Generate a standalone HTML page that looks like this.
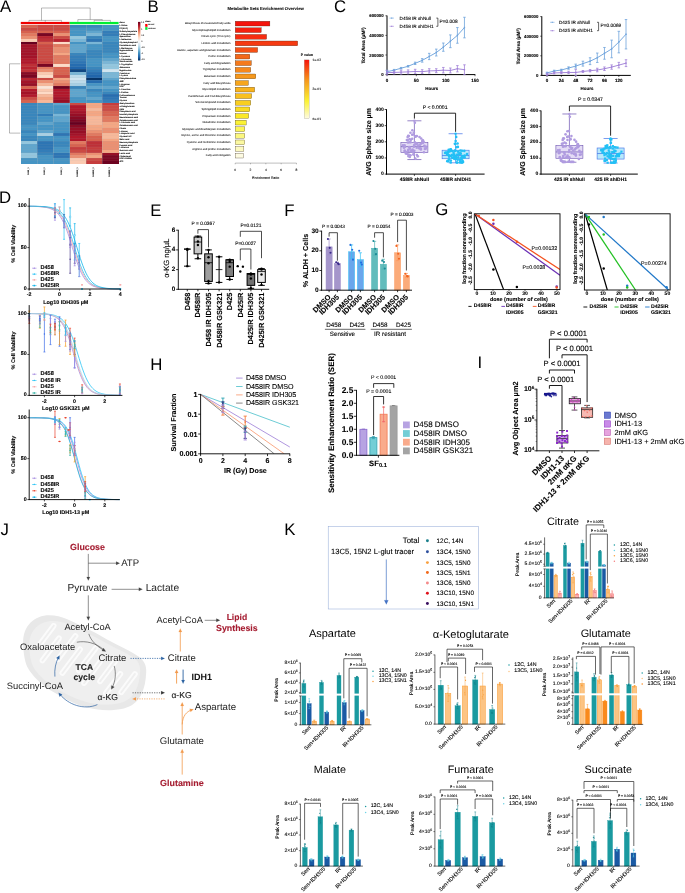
<!DOCTYPE html>
<html lang="en"><head><meta charset="utf-8"><title>Figure</title>
<style>html,body{margin:0;padding:0;background:#fff}body{width:685px;height:893px;overflow:hidden}svg{display:block;will-change:transform}svg text{font-family:'Liberation Sans', Arial, sans-serif;text-rendering:geometricPrecision}</style>
</head><body>
<svg width="685" height="893" viewBox="0 0 685 893">
<rect x="0" y="0" width="685" height="893" fill="#fff"/>
<g id="panelA">
<text x="-0.1" y="12" font-size="16.8">A</text>
<g shape-rendering="crispEdges">
<rect x="20.8" y="25" width="16.35" height="2.82" fill="#d7624f"/>
<rect x="37.1" y="25" width="16.35" height="2.82" fill="#cb4a43"/>
<rect x="53.4" y="25" width="16.35" height="2.82" fill="#cb4a43"/>
<rect x="69.7" y="25" width="16.35" height="2.82" fill="#3986bc"/>
<rect x="86" y="25" width="16.35" height="2.82" fill="#3986bc"/>
<rect x="102.3" y="25" width="16.35" height="2.82" fill="#4594c4"/>
<rect x="20.8" y="27.77" width="16.35" height="2.82" fill="#cb4a43"/>
<rect x="37.1" y="27.77" width="16.35" height="2.82" fill="#cb4a43"/>
<rect x="53.4" y="27.77" width="16.35" height="2.82" fill="#cb4a43"/>
<rect x="69.7" y="27.77" width="16.35" height="2.82" fill="#4594c4"/>
<rect x="86" y="27.77" width="16.35" height="2.82" fill="#4594c4"/>
<rect x="102.3" y="27.77" width="16.35" height="2.82" fill="#4594c4"/>
<rect x="20.8" y="30.54" width="16.35" height="2.82" fill="#d7624f"/>
<rect x="37.1" y="30.54" width="16.35" height="2.82" fill="#d7624f"/>
<rect x="53.4" y="30.54" width="16.35" height="2.82" fill="#d7624f"/>
<rect x="69.7" y="30.54" width="16.35" height="2.82" fill="#4594c4"/>
<rect x="86" y="30.54" width="16.35" height="2.82" fill="#5fa5cd"/>
<rect x="102.3" y="30.54" width="16.35" height="2.82" fill="#337db8"/>
<rect x="20.8" y="33.32" width="16.35" height="2.82" fill="#e17960"/>
<rect x="37.1" y="33.32" width="16.35" height="2.82" fill="#7a0622"/>
<rect x="53.4" y="33.32" width="16.35" height="2.82" fill="#eb9072"/>
<rect x="69.7" y="33.32" width="16.35" height="2.82" fill="#4594c4"/>
<rect x="86" y="33.32" width="16.35" height="2.82" fill="#7ab6d6"/>
<rect x="102.3" y="33.32" width="16.35" height="2.82" fill="#337db8"/>
<rect x="20.8" y="36.09" width="16.35" height="2.82" fill="#eb9072"/>
<rect x="37.1" y="36.09" width="16.35" height="2.82" fill="#b82430"/>
<rect x="53.4" y="36.09" width="16.35" height="2.82" fill="#cb4a43"/>
<rect x="69.7" y="36.09" width="16.35" height="2.82" fill="#93c6de"/>
<rect x="86" y="36.09" width="16.35" height="2.82" fill="#3986bc"/>
<rect x="102.3" y="36.09" width="16.35" height="2.82" fill="#4594c4"/>
<rect x="20.8" y="38.86" width="16.35" height="2.82" fill="#facab1"/>
<rect x="37.1" y="38.86" width="16.35" height="2.82" fill="#be3037"/>
<rect x="53.4" y="38.86" width="16.35" height="2.82" fill="#b82430"/>
<rect x="69.7" y="38.86" width="16.35" height="2.82" fill="#7ab6d6"/>
<rect x="86" y="38.86" width="16.35" height="2.82" fill="#2d75b4"/>
<rect x="102.3" y="38.86" width="16.35" height="2.82" fill="#4594c4"/>
<rect x="20.8" y="41.63" width="16.35" height="2.82" fill="#67001f"/>
<rect x="37.1" y="41.63" width="16.35" height="2.82" fill="#d7624f"/>
<rect x="53.4" y="41.63" width="16.35" height="2.82" fill="#fddbc7"/>
<rect x="69.7" y="41.63" width="16.35" height="2.82" fill="#4594c4"/>
<rect x="86" y="41.63" width="16.35" height="2.82" fill="#7ab6d6"/>
<rect x="102.3" y="41.63" width="16.35" height="2.82" fill="#3986bc"/>
<rect x="20.8" y="44.4" width="16.35" height="2.82" fill="#a31329"/>
<rect x="37.1" y="44.4" width="16.35" height="2.82" fill="#cb4a43"/>
<rect x="53.4" y="44.4" width="16.35" height="2.82" fill="#e17960"/>
<rect x="69.7" y="44.4" width="16.35" height="2.82" fill="#5fa5cd"/>
<rect x="86" y="44.4" width="16.35" height="2.82" fill="#4594c4"/>
<rect x="102.3" y="44.4" width="16.35" height="2.82" fill="#3986bc"/>
<rect x="20.8" y="47.18" width="16.35" height="2.82" fill="#a31329"/>
<rect x="37.1" y="47.18" width="16.35" height="2.82" fill="#cb4a43"/>
<rect x="53.4" y="47.18" width="16.35" height="2.82" fill="#eb9072"/>
<rect x="69.7" y="47.18" width="16.35" height="2.82" fill="#5fa5cd"/>
<rect x="86" y="47.18" width="16.35" height="2.82" fill="#4594c4"/>
<rect x="102.3" y="47.18" width="16.35" height="2.82" fill="#3986bc"/>
<rect x="20.8" y="49.95" width="16.35" height="2.82" fill="#a31329"/>
<rect x="37.1" y="49.95" width="16.35" height="2.82" fill="#cb4a43"/>
<rect x="53.4" y="49.95" width="16.35" height="2.82" fill="#eb9072"/>
<rect x="69.7" y="49.95" width="16.35" height="2.82" fill="#5fa5cd"/>
<rect x="86" y="49.95" width="16.35" height="2.82" fill="#3986bc"/>
<rect x="102.3" y="49.95" width="16.35" height="2.82" fill="#3986bc"/>
<rect x="20.8" y="52.72" width="16.35" height="2.82" fill="#a31329"/>
<rect x="37.1" y="52.72" width="16.35" height="2.82" fill="#cb4a43"/>
<rect x="53.4" y="52.72" width="16.35" height="2.82" fill="#f4a683"/>
<rect x="69.7" y="52.72" width="16.35" height="2.82" fill="#3986bc"/>
<rect x="86" y="52.72" width="16.35" height="2.82" fill="#3986bc"/>
<rect x="102.3" y="52.72" width="16.35" height="2.82" fill="#4594c4"/>
<rect x="20.8" y="55.49" width="16.35" height="2.82" fill="#a31329"/>
<rect x="37.1" y="55.49" width="16.35" height="2.82" fill="#cb4a43"/>
<rect x="53.4" y="55.49" width="16.35" height="2.82" fill="#e17960"/>
<rect x="69.7" y="55.49" width="16.35" height="2.82" fill="#337db8"/>
<rect x="86" y="55.49" width="16.35" height="2.82" fill="#3986bc"/>
<rect x="102.3" y="55.49" width="16.35" height="2.82" fill="#4594c4"/>
<rect x="20.8" y="58.26" width="16.35" height="2.82" fill="#b1182b"/>
<rect x="37.1" y="58.26" width="16.35" height="2.82" fill="#cb4a43"/>
<rect x="53.4" y="58.26" width="16.35" height="2.82" fill="#e17960"/>
<rect x="69.7" y="58.26" width="16.35" height="2.82" fill="#337db8"/>
<rect x="86" y="58.26" width="16.35" height="2.82" fill="#4594c4"/>
<rect x="102.3" y="58.26" width="16.35" height="2.82" fill="#5fa5cd"/>
<rect x="20.8" y="61.04" width="16.35" height="2.82" fill="#b1182b"/>
<rect x="37.1" y="61.04" width="16.35" height="2.82" fill="#c53d3d"/>
<rect x="53.4" y="61.04" width="16.35" height="2.82" fill="#e17960"/>
<rect x="69.7" y="61.04" width="16.35" height="2.82" fill="#2d75b4"/>
<rect x="86" y="61.04" width="16.35" height="2.82" fill="#4594c4"/>
<rect x="102.3" y="61.04" width="16.35" height="2.82" fill="#7ab6d6"/>
<rect x="20.8" y="63.81" width="16.35" height="2.82" fill="#be3037"/>
<rect x="37.1" y="63.81" width="16.35" height="2.82" fill="#7a0622"/>
<rect x="53.4" y="63.81" width="16.35" height="2.82" fill="#fddbc7"/>
<rect x="69.7" y="63.81" width="16.35" height="2.82" fill="#266db0"/>
<rect x="86" y="63.81" width="16.35" height="2.82" fill="#4594c4"/>
<rect x="102.3" y="63.81" width="16.35" height="2.82" fill="#93c6de"/>
<rect x="20.8" y="66.58" width="16.35" height="2.82" fill="#b82430"/>
<rect x="37.1" y="66.58" width="16.35" height="2.82" fill="#e17960"/>
<rect x="53.4" y="66.58" width="16.35" height="2.82" fill="#d7624f"/>
<rect x="69.7" y="66.58" width="16.35" height="2.82" fill="#2065ab"/>
<rect x="86" y="66.58" width="16.35" height="2.82" fill="#3986bc"/>
<rect x="102.3" y="66.58" width="16.35" height="2.82" fill="#93c6de"/>
<rect x="20.8" y="69.35" width="16.35" height="2.82" fill="#be3037"/>
<rect x="37.1" y="69.35" width="16.35" height="2.82" fill="#eb9072"/>
<rect x="53.4" y="69.35" width="16.35" height="2.82" fill="#d7624f"/>
<rect x="69.7" y="69.35" width="16.35" height="2.82" fill="#114882"/>
<rect x="86" y="69.35" width="16.35" height="2.82" fill="#337db8"/>
<rect x="102.3" y="69.35" width="16.35" height="2.82" fill="#d1e5f0"/>
<rect x="20.8" y="72.12" width="16.35" height="2.82" fill="#880b24"/>
<rect x="37.1" y="72.12" width="16.35" height="2.82" fill="#facab1"/>
<rect x="53.4" y="72.12" width="16.35" height="2.82" fill="#d7624f"/>
<rect x="69.7" y="72.12" width="16.35" height="2.82" fill="#7ab6d6"/>
<rect x="86" y="72.12" width="16.35" height="2.82" fill="#266db0"/>
<rect x="102.3" y="72.12" width="16.35" height="2.82" fill="#7ab6d6"/>
<rect x="20.8" y="74.9" width="16.35" height="2.82" fill="#7a0622"/>
<rect x="37.1" y="74.9" width="16.35" height="2.82" fill="#fddbc7"/>
<rect x="53.4" y="74.9" width="16.35" height="2.82" fill="#cb4a43"/>
<rect x="69.7" y="74.9" width="16.35" height="2.82" fill="#bddbea"/>
<rect x="86" y="74.9" width="16.35" height="2.82" fill="#2065ab"/>
<rect x="102.3" y="74.9" width="16.35" height="2.82" fill="#7ab6d6"/>
<rect x="20.8" y="77.67" width="16.35" height="2.82" fill="#b82430"/>
<rect x="37.1" y="77.67" width="16.35" height="2.82" fill="#cb4a43"/>
<rect x="53.4" y="77.67" width="16.35" height="2.82" fill="#f4a683"/>
<rect x="69.7" y="77.67" width="16.35" height="2.82" fill="#d1e5f0"/>
<rect x="86" y="77.67" width="16.35" height="2.82" fill="#073467"/>
<rect x="102.3" y="77.67" width="16.35" height="2.82" fill="#5fa5cd"/>
<rect x="20.8" y="80.44" width="16.35" height="2.82" fill="#a31329"/>
<rect x="37.1" y="80.44" width="16.35" height="2.82" fill="#eb9072"/>
<rect x="53.4" y="80.44" width="16.35" height="2.82" fill="#eb9072"/>
<rect x="69.7" y="80.44" width="16.35" height="2.82" fill="#bddbea"/>
<rect x="86" y="80.44" width="16.35" height="2.82" fill="#266db0"/>
<rect x="102.3" y="80.44" width="16.35" height="2.82" fill="#4594c4"/>
<rect x="20.8" y="83.21" width="16.35" height="2.82" fill="#960f26"/>
<rect x="37.1" y="83.21" width="16.35" height="2.82" fill="#f7b89a"/>
<rect x="53.4" y="83.21" width="16.35" height="2.82" fill="#e17960"/>
<rect x="69.7" y="83.21" width="16.35" height="2.82" fill="#a8d0e4"/>
<rect x="86" y="83.21" width="16.35" height="2.82" fill="#4594c4"/>
<rect x="102.3" y="83.21" width="16.35" height="2.82" fill="#4594c4"/>
<rect x="20.8" y="85.98" width="16.35" height="2.82" fill="#d7624f"/>
<rect x="37.1" y="85.98" width="16.35" height="2.82" fill="#fbe5d7"/>
<rect x="53.4" y="85.98" width="16.35" height="2.82" fill="#6d0220"/>
<rect x="69.7" y="85.98" width="16.35" height="2.82" fill="#3986bc"/>
<rect x="86" y="85.98" width="16.35" height="2.82" fill="#5fa5cd"/>
<rect x="102.3" y="85.98" width="16.35" height="2.82" fill="#5fa5cd"/>
<rect x="20.8" y="88.76" width="16.35" height="2.82" fill="#b1182b"/>
<rect x="37.1" y="88.76" width="16.35" height="2.82" fill="#facab1"/>
<rect x="53.4" y="88.76" width="16.35" height="2.82" fill="#b1182b"/>
<rect x="69.7" y="88.76" width="16.35" height="2.82" fill="#5fa5cd"/>
<rect x="86" y="88.76" width="16.35" height="2.82" fill="#3986bc"/>
<rect x="102.3" y="88.76" width="16.35" height="2.82" fill="#4594c4"/>
<rect x="20.8" y="91.53" width="16.35" height="2.82" fill="#a31329"/>
<rect x="37.1" y="91.53" width="16.35" height="2.82" fill="#fddbc7"/>
<rect x="53.4" y="91.53" width="16.35" height="2.82" fill="#b1182b"/>
<rect x="69.7" y="91.53" width="16.35" height="2.82" fill="#5fa5cd"/>
<rect x="86" y="91.53" width="16.35" height="2.82" fill="#4594c4"/>
<rect x="102.3" y="91.53" width="16.35" height="2.82" fill="#3986bc"/>
<rect x="20.8" y="94.3" width="16.35" height="2.82" fill="#b1182b"/>
<rect x="37.1" y="94.3" width="16.35" height="2.82" fill="#f7b89a"/>
<rect x="53.4" y="94.3" width="16.35" height="2.82" fill="#b1182b"/>
<rect x="69.7" y="94.3" width="16.35" height="2.82" fill="#5fa5cd"/>
<rect x="86" y="94.3" width="16.35" height="2.82" fill="#4594c4"/>
<rect x="102.3" y="94.3" width="16.35" height="2.82" fill="#266db0"/>
<rect x="20.8" y="97.07" width="16.35" height="2.82" fill="#cb4a43"/>
<rect x="37.1" y="97.07" width="16.35" height="2.82" fill="#f4a683"/>
<rect x="53.4" y="97.07" width="16.35" height="2.82" fill="#a31329"/>
<rect x="69.7" y="97.07" width="16.35" height="2.82" fill="#4594c4"/>
<rect x="86" y="97.07" width="16.35" height="2.82" fill="#5fa5cd"/>
<rect x="102.3" y="97.07" width="16.35" height="2.82" fill="#2d75b4"/>
<rect x="20.8" y="99.84" width="16.35" height="2.82" fill="#d7624f"/>
<rect x="37.1" y="99.84" width="16.35" height="2.82" fill="#f7b89a"/>
<rect x="53.4" y="99.84" width="16.35" height="2.82" fill="#960f26"/>
<rect x="69.7" y="99.84" width="16.35" height="2.82" fill="#4594c4"/>
<rect x="86" y="99.84" width="16.35" height="2.82" fill="#4594c4"/>
<rect x="102.3" y="99.84" width="16.35" height="2.82" fill="#337db8"/>
<rect x="20.8" y="102.62" width="16.35" height="2.82" fill="#3986bc"/>
<rect x="37.1" y="102.62" width="16.35" height="2.82" fill="#4594c4"/>
<rect x="53.4" y="102.62" width="16.35" height="2.82" fill="#5fa5cd"/>
<rect x="69.7" y="102.62" width="16.35" height="2.82" fill="#cb4a43"/>
<rect x="86" y="102.62" width="16.35" height="2.82" fill="#f4a683"/>
<rect x="102.3" y="102.62" width="16.35" height="2.82" fill="#c53d3d"/>
<rect x="20.8" y="105.39" width="16.35" height="2.82" fill="#3986bc"/>
<rect x="37.1" y="105.39" width="16.35" height="2.82" fill="#4594c4"/>
<rect x="53.4" y="105.39" width="16.35" height="2.82" fill="#4594c4"/>
<rect x="69.7" y="105.39" width="16.35" height="2.82" fill="#b1182b"/>
<rect x="86" y="105.39" width="16.35" height="2.82" fill="#f4a683"/>
<rect x="102.3" y="105.39" width="16.35" height="2.82" fill="#cb4a43"/>
<rect x="20.8" y="108.16" width="16.35" height="2.82" fill="#3986bc"/>
<rect x="37.1" y="108.16" width="16.35" height="2.82" fill="#4594c4"/>
<rect x="53.4" y="108.16" width="16.35" height="2.82" fill="#4594c4"/>
<rect x="69.7" y="108.16" width="16.35" height="2.82" fill="#b1182b"/>
<rect x="86" y="108.16" width="16.35" height="2.82" fill="#f7b89a"/>
<rect x="102.3" y="108.16" width="16.35" height="2.82" fill="#cb4a43"/>
<rect x="20.8" y="110.93" width="16.35" height="2.82" fill="#3986bc"/>
<rect x="37.1" y="110.93" width="16.35" height="2.82" fill="#4594c4"/>
<rect x="53.4" y="110.93" width="16.35" height="2.82" fill="#4594c4"/>
<rect x="69.7" y="110.93" width="16.35" height="2.82" fill="#a31329"/>
<rect x="86" y="110.93" width="16.35" height="2.82" fill="#f4a683"/>
<rect x="102.3" y="110.93" width="16.35" height="2.82" fill="#d7624f"/>
<rect x="20.8" y="113.7" width="16.35" height="2.82" fill="#3986bc"/>
<rect x="37.1" y="113.7" width="16.35" height="2.82" fill="#337db8"/>
<rect x="53.4" y="113.7" width="16.35" height="2.82" fill="#7ab6d6"/>
<rect x="69.7" y="113.7" width="16.35" height="2.82" fill="#960f26"/>
<rect x="86" y="113.7" width="16.35" height="2.82" fill="#f4a683"/>
<rect x="102.3" y="113.7" width="16.35" height="2.82" fill="#d7624f"/>
<rect x="20.8" y="116.48" width="16.35" height="2.82" fill="#3986bc"/>
<rect x="37.1" y="116.48" width="16.35" height="2.82" fill="#4594c4"/>
<rect x="53.4" y="116.48" width="16.35" height="2.82" fill="#5fa5cd"/>
<rect x="69.7" y="116.48" width="16.35" height="2.82" fill="#880b24"/>
<rect x="86" y="116.48" width="16.35" height="2.82" fill="#f7b89a"/>
<rect x="102.3" y="116.48" width="16.35" height="2.82" fill="#e17960"/>
<rect x="20.8" y="119.25" width="16.35" height="2.82" fill="#3986bc"/>
<rect x="37.1" y="119.25" width="16.35" height="2.82" fill="#4594c4"/>
<rect x="53.4" y="119.25" width="16.35" height="2.82" fill="#5fa5cd"/>
<rect x="69.7" y="119.25" width="16.35" height="2.82" fill="#7a0622"/>
<rect x="86" y="119.25" width="16.35" height="2.82" fill="#f7b89a"/>
<rect x="102.3" y="119.25" width="16.35" height="2.82" fill="#e17960"/>
<rect x="20.8" y="122.02" width="16.35" height="2.82" fill="#3986bc"/>
<rect x="37.1" y="122.02" width="16.35" height="2.82" fill="#5fa5cd"/>
<rect x="53.4" y="122.02" width="16.35" height="2.82" fill="#4594c4"/>
<rect x="69.7" y="122.02" width="16.35" height="2.82" fill="#67001f"/>
<rect x="86" y="122.02" width="16.35" height="2.82" fill="#f7b89a"/>
<rect x="102.3" y="122.02" width="16.35" height="2.82" fill="#f4a683"/>
<rect x="20.8" y="124.79" width="16.35" height="2.82" fill="#4594c4"/>
<rect x="37.1" y="124.79" width="16.35" height="2.82" fill="#4594c4"/>
<rect x="53.4" y="124.79" width="16.35" height="2.82" fill="#4594c4"/>
<rect x="69.7" y="124.79" width="16.35" height="2.82" fill="#880b24"/>
<rect x="86" y="124.79" width="16.35" height="2.82" fill="#f4a683"/>
<rect x="102.3" y="124.79" width="16.35" height="2.82" fill="#f4a683"/>
<rect x="20.8" y="127.56" width="16.35" height="2.82" fill="#4594c4"/>
<rect x="37.1" y="127.56" width="16.35" height="2.82" fill="#4594c4"/>
<rect x="53.4" y="127.56" width="16.35" height="2.82" fill="#4594c4"/>
<rect x="69.7" y="127.56" width="16.35" height="2.82" fill="#960f26"/>
<rect x="86" y="127.56" width="16.35" height="2.82" fill="#f4a683"/>
<rect x="102.3" y="127.56" width="16.35" height="2.82" fill="#eb9072"/>
<rect x="20.8" y="130.34" width="16.35" height="2.82" fill="#3986bc"/>
<rect x="37.1" y="130.34" width="16.35" height="2.82" fill="#5fa5cd"/>
<rect x="53.4" y="130.34" width="16.35" height="2.82" fill="#4594c4"/>
<rect x="69.7" y="130.34" width="16.35" height="2.82" fill="#960f26"/>
<rect x="86" y="130.34" width="16.35" height="2.82" fill="#eb9072"/>
<rect x="102.3" y="130.34" width="16.35" height="2.82" fill="#eb9072"/>
<rect x="20.8" y="133.11" width="16.35" height="2.82" fill="#4594c4"/>
<rect x="37.1" y="133.11" width="16.35" height="2.82" fill="#a8d0e4"/>
<rect x="53.4" y="133.11" width="16.35" height="2.82" fill="#2d75b4"/>
<rect x="69.7" y="133.11" width="16.35" height="2.82" fill="#a31329"/>
<rect x="86" y="133.11" width="16.35" height="2.82" fill="#e17960"/>
<rect x="102.3" y="133.11" width="16.35" height="2.82" fill="#f7b89a"/>
<rect x="20.8" y="135.88" width="16.35" height="2.82" fill="#3986bc"/>
<rect x="37.1" y="135.88" width="16.35" height="2.82" fill="#4594c4"/>
<rect x="53.4" y="135.88" width="16.35" height="2.82" fill="#4594c4"/>
<rect x="69.7" y="135.88" width="16.35" height="2.82" fill="#b1182b"/>
<rect x="86" y="135.88" width="16.35" height="2.82" fill="#d7624f"/>
<rect x="102.3" y="135.88" width="16.35" height="2.82" fill="#f7b89a"/>
<rect x="20.8" y="138.65" width="16.35" height="2.82" fill="#3986bc"/>
<rect x="37.1" y="138.65" width="16.35" height="2.82" fill="#4594c4"/>
<rect x="53.4" y="138.65" width="16.35" height="2.82" fill="#4594c4"/>
<rect x="69.7" y="138.65" width="16.35" height="2.82" fill="#b1182b"/>
<rect x="86" y="138.65" width="16.35" height="2.82" fill="#d7624f"/>
<rect x="102.3" y="138.65" width="16.35" height="2.82" fill="#f4a683"/>
<rect x="20.8" y="141.42" width="16.35" height="2.82" fill="#93c6de"/>
<rect x="37.1" y="141.42" width="16.35" height="2.82" fill="#2d75b4"/>
<rect x="53.4" y="141.42" width="16.35" height="2.82" fill="#3986bc"/>
<rect x="69.7" y="141.42" width="16.35" height="2.82" fill="#e17960"/>
<rect x="86" y="141.42" width="16.35" height="2.82" fill="#be3037"/>
<rect x="102.3" y="141.42" width="16.35" height="2.82" fill="#eb9072"/>
<rect x="20.8" y="144.2" width="16.35" height="2.82" fill="#5fa5cd"/>
<rect x="37.1" y="144.2" width="16.35" height="2.82" fill="#2d75b4"/>
<rect x="53.4" y="144.2" width="16.35" height="2.82" fill="#3986bc"/>
<rect x="69.7" y="144.2" width="16.35" height="2.82" fill="#d7624f"/>
<rect x="86" y="144.2" width="16.35" height="2.82" fill="#be3037"/>
<rect x="102.3" y="144.2" width="16.35" height="2.82" fill="#eb9072"/>
<rect x="20.8" y="146.97" width="16.35" height="2.82" fill="#5fa5cd"/>
<rect x="37.1" y="146.97" width="16.35" height="2.82" fill="#2d75b4"/>
<rect x="53.4" y="146.97" width="16.35" height="2.82" fill="#4594c4"/>
<rect x="69.7" y="146.97" width="16.35" height="2.82" fill="#c53d3d"/>
<rect x="86" y="146.97" width="16.35" height="2.82" fill="#c53d3d"/>
<rect x="102.3" y="146.97" width="16.35" height="2.82" fill="#eb9072"/>
<rect x="20.8" y="149.74" width="16.35" height="2.82" fill="#5fa5cd"/>
<rect x="37.1" y="149.74" width="16.35" height="2.82" fill="#337db8"/>
<rect x="53.4" y="149.74" width="16.35" height="2.82" fill="#4594c4"/>
<rect x="69.7" y="149.74" width="16.35" height="2.82" fill="#cb4a43"/>
<rect x="86" y="149.74" width="16.35" height="2.82" fill="#c53d3d"/>
<rect x="102.3" y="149.74" width="16.35" height="2.82" fill="#f4a683"/>
<rect x="20.8" y="152.51" width="16.35" height="2.82" fill="#93c6de"/>
<rect x="37.1" y="152.51" width="16.35" height="2.82" fill="#3986bc"/>
<rect x="53.4" y="152.51" width="16.35" height="2.82" fill="#2d75b4"/>
<rect x="69.7" y="152.51" width="16.35" height="2.82" fill="#e17960"/>
<rect x="86" y="152.51" width="16.35" height="2.82" fill="#eb9072"/>
<rect x="102.3" y="152.51" width="16.35" height="2.82" fill="#960f26"/>
<rect x="20.8" y="155.28" width="16.35" height="2.82" fill="#93c6de"/>
<rect x="37.1" y="155.28" width="16.35" height="2.82" fill="#4594c4"/>
<rect x="53.4" y="155.28" width="16.35" height="2.82" fill="#2d75b4"/>
<rect x="69.7" y="155.28" width="16.35" height="2.82" fill="#eb9072"/>
<rect x="86" y="155.28" width="16.35" height="2.82" fill="#f4a683"/>
<rect x="102.3" y="155.28" width="16.35" height="2.82" fill="#7a0622"/>
<rect x="20.8" y="158.06" width="16.35" height="2.82" fill="#4594c4"/>
<rect x="37.1" y="158.06" width="16.35" height="2.82" fill="#4594c4"/>
<rect x="53.4" y="158.06" width="16.35" height="2.82" fill="#4594c4"/>
<rect x="69.7" y="158.06" width="16.35" height="2.82" fill="#facab1"/>
<rect x="86" y="158.06" width="16.35" height="2.82" fill="#cb4a43"/>
<rect x="102.3" y="158.06" width="16.35" height="2.82" fill="#7a0622"/>
<rect x="20.8" y="160.83" width="16.35" height="2.82" fill="#4594c4"/>
<rect x="37.1" y="160.83" width="16.35" height="2.82" fill="#4594c4"/>
<rect x="53.4" y="160.83" width="16.35" height="2.82" fill="#4594c4"/>
<rect x="69.7" y="160.83" width="16.35" height="2.82" fill="#facab1"/>
<rect x="86" y="160.83" width="16.35" height="2.82" fill="#c53d3d"/>
<rect x="102.3" y="160.83" width="16.35" height="2.82" fill="#6d0220"/>
<line x1="37.1" y1="25" x2="37.1" y2="163.6" stroke="#b8b8b8" stroke-width="0.25"/>
<line x1="53.4" y1="25" x2="53.4" y2="163.6" stroke="#b8b8b8" stroke-width="0.25"/>
<line x1="69.7" y1="25" x2="69.7" y2="163.6" stroke="#b8b8b8" stroke-width="0.25"/>
<line x1="86" y1="25" x2="86" y2="163.6" stroke="#b8b8b8" stroke-width="0.25"/>
<line x1="102.3" y1="25" x2="102.3" y2="163.6" stroke="#b8b8b8" stroke-width="0.25"/>
</g>
<line x1="20.8" y1="27.77" x2="118.6" y2="27.77" stroke="#a9a9a9" stroke-width="0.18" opacity="0.7"/>
<line x1="20.8" y1="30.54" x2="118.6" y2="30.54" stroke="#a9a9a9" stroke-width="0.18" opacity="0.7"/>
<line x1="20.8" y1="33.32" x2="118.6" y2="33.32" stroke="#a9a9a9" stroke-width="0.18" opacity="0.7"/>
<line x1="20.8" y1="36.09" x2="118.6" y2="36.09" stroke="#a9a9a9" stroke-width="0.18" opacity="0.7"/>
<line x1="20.8" y1="38.86" x2="118.6" y2="38.86" stroke="#a9a9a9" stroke-width="0.18" opacity="0.7"/>
<line x1="20.8" y1="41.63" x2="118.6" y2="41.63" stroke="#a9a9a9" stroke-width="0.18" opacity="0.7"/>
<line x1="20.8" y1="44.4" x2="118.6" y2="44.4" stroke="#a9a9a9" stroke-width="0.18" opacity="0.7"/>
<line x1="20.8" y1="47.18" x2="118.6" y2="47.18" stroke="#a9a9a9" stroke-width="0.18" opacity="0.7"/>
<line x1="20.8" y1="49.95" x2="118.6" y2="49.95" stroke="#a9a9a9" stroke-width="0.18" opacity="0.7"/>
<line x1="20.8" y1="52.72" x2="118.6" y2="52.72" stroke="#a9a9a9" stroke-width="0.18" opacity="0.7"/>
<line x1="20.8" y1="55.49" x2="118.6" y2="55.49" stroke="#a9a9a9" stroke-width="0.18" opacity="0.7"/>
<line x1="20.8" y1="58.26" x2="118.6" y2="58.26" stroke="#a9a9a9" stroke-width="0.18" opacity="0.7"/>
<line x1="20.8" y1="61.04" x2="118.6" y2="61.04" stroke="#a9a9a9" stroke-width="0.18" opacity="0.7"/>
<line x1="20.8" y1="63.81" x2="118.6" y2="63.81" stroke="#a9a9a9" stroke-width="0.18" opacity="0.7"/>
<line x1="20.8" y1="66.58" x2="118.6" y2="66.58" stroke="#a9a9a9" stroke-width="0.18" opacity="0.7"/>
<line x1="20.8" y1="69.35" x2="118.6" y2="69.35" stroke="#a9a9a9" stroke-width="0.18" opacity="0.7"/>
<line x1="20.8" y1="72.12" x2="118.6" y2="72.12" stroke="#a9a9a9" stroke-width="0.18" opacity="0.7"/>
<line x1="20.8" y1="74.9" x2="118.6" y2="74.9" stroke="#a9a9a9" stroke-width="0.18" opacity="0.7"/>
<line x1="20.8" y1="77.67" x2="118.6" y2="77.67" stroke="#a9a9a9" stroke-width="0.18" opacity="0.7"/>
<line x1="20.8" y1="80.44" x2="118.6" y2="80.44" stroke="#a9a9a9" stroke-width="0.18" opacity="0.7"/>
<line x1="20.8" y1="83.21" x2="118.6" y2="83.21" stroke="#a9a9a9" stroke-width="0.18" opacity="0.7"/>
<line x1="20.8" y1="85.98" x2="118.6" y2="85.98" stroke="#a9a9a9" stroke-width="0.18" opacity="0.7"/>
<line x1="20.8" y1="88.76" x2="118.6" y2="88.76" stroke="#a9a9a9" stroke-width="0.18" opacity="0.7"/>
<line x1="20.8" y1="91.53" x2="118.6" y2="91.53" stroke="#a9a9a9" stroke-width="0.18" opacity="0.7"/>
<line x1="20.8" y1="94.3" x2="118.6" y2="94.3" stroke="#a9a9a9" stroke-width="0.18" opacity="0.7"/>
<line x1="20.8" y1="97.07" x2="118.6" y2="97.07" stroke="#a9a9a9" stroke-width="0.18" opacity="0.7"/>
<line x1="20.8" y1="99.84" x2="118.6" y2="99.84" stroke="#a9a9a9" stroke-width="0.18" opacity="0.7"/>
<line x1="20.8" y1="102.62" x2="118.6" y2="102.62" stroke="#a9a9a9" stroke-width="0.18" opacity="0.7"/>
<line x1="20.8" y1="105.39" x2="118.6" y2="105.39" stroke="#a9a9a9" stroke-width="0.18" opacity="0.7"/>
<line x1="20.8" y1="108.16" x2="118.6" y2="108.16" stroke="#a9a9a9" stroke-width="0.18" opacity="0.7"/>
<line x1="20.8" y1="110.93" x2="118.6" y2="110.93" stroke="#a9a9a9" stroke-width="0.18" opacity="0.7"/>
<line x1="20.8" y1="113.7" x2="118.6" y2="113.7" stroke="#a9a9a9" stroke-width="0.18" opacity="0.7"/>
<line x1="20.8" y1="116.48" x2="118.6" y2="116.48" stroke="#a9a9a9" stroke-width="0.18" opacity="0.7"/>
<line x1="20.8" y1="119.25" x2="118.6" y2="119.25" stroke="#a9a9a9" stroke-width="0.18" opacity="0.7"/>
<line x1="20.8" y1="122.02" x2="118.6" y2="122.02" stroke="#a9a9a9" stroke-width="0.18" opacity="0.7"/>
<line x1="20.8" y1="124.79" x2="118.6" y2="124.79" stroke="#a9a9a9" stroke-width="0.18" opacity="0.7"/>
<line x1="20.8" y1="127.56" x2="118.6" y2="127.56" stroke="#a9a9a9" stroke-width="0.18" opacity="0.7"/>
<line x1="20.8" y1="130.34" x2="118.6" y2="130.34" stroke="#a9a9a9" stroke-width="0.18" opacity="0.7"/>
<line x1="20.8" y1="133.11" x2="118.6" y2="133.11" stroke="#a9a9a9" stroke-width="0.18" opacity="0.7"/>
<line x1="20.8" y1="135.88" x2="118.6" y2="135.88" stroke="#a9a9a9" stroke-width="0.18" opacity="0.7"/>
<line x1="20.8" y1="138.65" x2="118.6" y2="138.65" stroke="#a9a9a9" stroke-width="0.18" opacity="0.7"/>
<line x1="20.8" y1="141.42" x2="118.6" y2="141.42" stroke="#a9a9a9" stroke-width="0.18" opacity="0.7"/>
<line x1="20.8" y1="144.2" x2="118.6" y2="144.2" stroke="#a9a9a9" stroke-width="0.18" opacity="0.7"/>
<line x1="20.8" y1="146.97" x2="118.6" y2="146.97" stroke="#a9a9a9" stroke-width="0.18" opacity="0.7"/>
<line x1="20.8" y1="149.74" x2="118.6" y2="149.74" stroke="#a9a9a9" stroke-width="0.18" opacity="0.7"/>
<line x1="20.8" y1="152.51" x2="118.6" y2="152.51" stroke="#a9a9a9" stroke-width="0.18" opacity="0.7"/>
<line x1="20.8" y1="155.28" x2="118.6" y2="155.28" stroke="#a9a9a9" stroke-width="0.18" opacity="0.7"/>
<line x1="20.8" y1="158.06" x2="118.6" y2="158.06" stroke="#a9a9a9" stroke-width="0.18" opacity="0.7"/>
<line x1="20.8" y1="160.83" x2="118.6" y2="160.83" stroke="#a9a9a9" stroke-width="0.18" opacity="0.7"/>
<rect x="20.8" y="21.9" width="48.9" height="2.3" fill="#f00000"/>
<rect x="69.7" y="21.9" width="48.9" height="2.3" fill="#00ee33"/>
<text x="119.4" y="23" font-size="2.1" font-weight="bold" dominant-baseline="central" stroke="#000" stroke-width="0.06">class</text>
<text x="119.4" y="26.39" font-size="2.1" font-weight="bold" dominant-baseline="central" stroke="#000" stroke-width="0.06">L-Valine</text>
<text x="119.4" y="29.16" font-size="2.1" font-weight="bold" dominant-baseline="central" stroke="#000" stroke-width="0.06">PC(34:1)</text>
<text x="119.4" y="31.93" font-size="2.1" font-weight="bold" dominant-baseline="central" stroke="#000" stroke-width="0.06">N-Acetylaspartate</text>
<text x="119.4" y="34.7" font-size="2.1" font-weight="bold" dominant-baseline="central" stroke="#000" stroke-width="0.06">L-Phenylalanine</text>
<text x="119.4" y="37.47" font-size="2.1" font-weight="bold" dominant-baseline="central" stroke="#000" stroke-width="0.06">Spermidine</text>
<text x="119.4" y="40.25" font-size="2.1" font-weight="bold" dominant-baseline="central" stroke="#000" stroke-width="0.06">L-Isoleucine</text>
<text x="119.4" y="43.02" font-size="2.1" font-weight="bold" dominant-baseline="central" stroke="#000" stroke-width="0.06">Glycerophospho-C</text>
<text x="119.4" y="45.79" font-size="2.1" font-weight="bold" dominant-baseline="central" stroke="#000" stroke-width="0.06">Pantothenic acid</text>
<text x="119.4" y="48.56" font-size="2.1" font-weight="bold" dominant-baseline="central" stroke="#000" stroke-width="0.06">L-Methionine</text>
<text x="119.4" y="51.33" font-size="2.1" font-weight="bold" dominant-baseline="central" stroke="#000" stroke-width="0.06">Hypoxanthine</text>
<text x="119.4" y="54.11" font-size="2.1" font-weight="bold" dominant-baseline="central" stroke="#000" stroke-width="0.06">Inosine</text>
<text x="119.4" y="56.88" font-size="2.1" font-weight="bold" dominant-baseline="central" stroke="#000" stroke-width="0.06">L-Tyrosine</text>
<text x="119.4" y="59.65" font-size="2.1" font-weight="bold" dominant-baseline="central" stroke="#000" stroke-width="0.06">L-Glutamine</text>
<text x="119.4" y="62.42" font-size="2.1" font-weight="bold" dominant-baseline="central" stroke="#000" stroke-width="0.06">Nicotinamide</text>
<text x="119.4" y="65.19" font-size="2.1" font-weight="bold" dominant-baseline="central" stroke="#000" stroke-width="0.06">L-Tryptophan</text>
<text x="119.4" y="67.97" font-size="2.1" font-weight="bold" dominant-baseline="central" stroke="#000" stroke-width="0.06">Adenosine</text>
<text x="119.4" y="70.74" font-size="2.1" font-weight="bold" dominant-baseline="central" stroke="#000" stroke-width="0.06">Hypotaurine</text>
<text x="119.4" y="73.51" font-size="2.1" font-weight="bold" dominant-baseline="central" stroke="#000" stroke-width="0.06">Creatinine</text>
<text x="119.4" y="76.28" font-size="2.1" font-weight="bold" dominant-baseline="central" stroke="#000" stroke-width="0.06">L-Lysine</text>
<text x="119.4" y="79.05" font-size="2.1" font-weight="bold" dominant-baseline="central" stroke="#000" stroke-width="0.06">Phosphocreatine</text>
<text x="119.4" y="81.83" font-size="2.1" font-weight="bold" dominant-baseline="central" stroke="#000" stroke-width="0.06">AMP</text>
<text x="119.4" y="84.6" font-size="2.1" font-weight="bold" dominant-baseline="central" stroke="#000" stroke-width="0.06">L-Arginine</text>
<text x="119.4" y="87.37" font-size="2.1" font-weight="bold" dominant-baseline="central" stroke="#000" stroke-width="0.06">UDP</text>
<text x="119.4" y="90.14" font-size="2.1" font-weight="bold" dominant-baseline="central" stroke="#000" stroke-width="0.06">L-Carnitine</text>
<text x="119.4" y="92.91" font-size="2.1" font-weight="bold" dominant-baseline="central" stroke="#000" stroke-width="0.06">L-Proline</text>
<text x="119.4" y="95.69" font-size="2.1" font-weight="bold" dominant-baseline="central" stroke="#000" stroke-width="0.06">P-ethanolamine</text>
<text x="119.4" y="98.46" font-size="2.1" font-weight="bold" dominant-baseline="central" stroke="#000" stroke-width="0.06">Taurine</text>
<text x="119.4" y="101.23" font-size="2.1" font-weight="bold" dominant-baseline="central" stroke="#000" stroke-width="0.06">Glycine</text>
<text x="119.4" y="104" font-size="2.1" font-weight="bold" dominant-baseline="central" stroke="#000" stroke-width="0.06">Acetylcarnitine</text>
<text x="119.4" y="106.77" font-size="2.1" font-weight="bold" dominant-baseline="central" stroke="#000" stroke-width="0.06">a-Ketoglutarate</text>
<text x="119.4" y="109.55" font-size="2.1" font-weight="bold" dominant-baseline="central" stroke="#000" stroke-width="0.06">GSH</text>
<text x="119.4" y="112.32" font-size="2.1" font-weight="bold" dominant-baseline="central" stroke="#000" stroke-width="0.06">Phosphoric acid</text>
<text x="119.4" y="115.09" font-size="2.1" font-weight="bold" dominant-baseline="central" stroke="#000" stroke-width="0.06">Inositol phosphate</text>
<text x="119.4" y="117.86" font-size="2.1" font-weight="bold" dominant-baseline="central" stroke="#000" stroke-width="0.06">Hexadecanoic acid</text>
<text x="119.4" y="120.63" font-size="2.1" font-weight="bold" dominant-baseline="central" stroke="#000" stroke-width="0.06">Octadecanoic acid</text>
<text x="119.4" y="123.41" font-size="2.1" font-weight="bold" dominant-baseline="central" stroke="#000" stroke-width="0.06">L-Glutamic acid</text>
<text x="119.4" y="126.18" font-size="2.1" font-weight="bold" dominant-baseline="central" stroke="#000" stroke-width="0.06">Octadecenoic acid</text>
<text x="119.4" y="128.95" font-size="2.1" font-weight="bold" dominant-baseline="central" stroke="#000" stroke-width="0.06">Citrate</text>
<text x="119.4" y="131.72" font-size="2.1" font-weight="bold" dominant-baseline="central" stroke="#000" stroke-width="0.06">L-Serine</text>
<text x="119.4" y="134.49" font-size="2.1" font-weight="bold" dominant-baseline="central" stroke="#000" stroke-width="0.06">L-Aspartic acid</text>
<text x="119.4" y="137.27" font-size="2.1" font-weight="bold" dominant-baseline="central" stroke="#000" stroke-width="0.06">Glycerol-3-P</text>
<text x="119.4" y="140.04" font-size="2.1" font-weight="bold" dominant-baseline="central" stroke="#000" stroke-width="0.06">Malic acid</text>
<text x="119.4" y="142.81" font-size="2.1" font-weight="bold" dominant-baseline="central" stroke="#000" stroke-width="0.06">Hexose phosphate</text>
<text x="119.4" y="145.58" font-size="2.1" font-weight="bold" dominant-baseline="central" stroke="#000" stroke-width="0.06">Fumaric acid</text>
<text x="119.4" y="148.35" font-size="2.1" font-weight="bold" dominant-baseline="central" stroke="#000" stroke-width="0.06">L-Alanine</text>
<text x="119.4" y="151.13" font-size="2.1" font-weight="bold" dominant-baseline="central" stroke="#000" stroke-width="0.06">Succinic acid</text>
<text x="119.4" y="153.9" font-size="2.1" font-weight="bold" dominant-baseline="central" stroke="#000" stroke-width="0.06">Lactic acid</text>
<text x="119.4" y="156.67" font-size="2.1" font-weight="bold" dominant-baseline="central" stroke="#000" stroke-width="0.06">Cholesterol</text>
<text x="119.4" y="159.44" font-size="2.1" font-weight="bold" dominant-baseline="central" stroke="#000" stroke-width="0.06">UDP-GlcNAc</text>
<text x="119.4" y="162.21" font-size="2.1" font-weight="bold" dominant-baseline="central" stroke="#000" stroke-width="0.06">ATP</text>
<text x="28.95" y="167.4" font-size="2.1" text-anchor="end" font-weight="bold" fill="#111" dominant-baseline="central" transform="rotate(-90 28.95 167.4)" stroke="#111" stroke-width="0.06">D458_1</text>
<text x="45.25" y="167.4" font-size="2.1" text-anchor="end" font-weight="bold" fill="#111" dominant-baseline="central" transform="rotate(-90 45.25 167.4)" stroke="#111" stroke-width="0.06">D458_2</text>
<text x="61.55" y="167.4" font-size="2.1" text-anchor="end" font-weight="bold" fill="#111" dominant-baseline="central" transform="rotate(-90 61.55 167.4)" stroke="#111" stroke-width="0.06">D458_3</text>
<text x="77.85" y="167.4" font-size="2.1" text-anchor="end" font-weight="bold" fill="#111" dominant-baseline="central" transform="rotate(-90 77.85 167.4)" stroke="#111" stroke-width="0.06">D458IR_1</text>
<text x="94.15" y="167.4" font-size="2.1" text-anchor="end" font-weight="bold" fill="#111" dominant-baseline="central" transform="rotate(-90 94.15 167.4)" stroke="#111" stroke-width="0.06">D458IR_2</text>
<text x="110.45" y="167.4" font-size="2.1" text-anchor="end" font-weight="bold" fill="#111" dominant-baseline="central" transform="rotate(-90 110.45 167.4)" stroke="#111" stroke-width="0.06">D458IR_3</text>
<path d="M41.5 20.4V8.0H90.2V19.6" stroke="#333" stroke-width="0.35" fill="none"/>
<path d="M28.95 21.9V20.4H61.55V21.9M45.25 20.4V21.9" stroke="#333" stroke-width="0.35" fill="none"/>
<path d="M77.85 21.9V19.6H102.3V20.4" stroke="#333" stroke-width="0.35" fill="none"/>
<path d="M94.15 21.9V20.4H110.45V21.9" stroke="#333" stroke-width="0.35" fill="none"/>
<path d="M20.3 63.81H9.5V133.11H20.3" stroke="#333" stroke-width="0.35" fill="none"/>
<defs><linearGradient id="hmg" x1="0" y1="0" x2="0" y2="1">
<stop offset="0" stop-color="#67001f"/>
<stop offset="0.1" stop-color="#b2182b"/>
<stop offset="0.2" stop-color="#d6604d"/>
<stop offset="0.3" stop-color="#f4a582"/>
<stop offset="0.4" stop-color="#fddbc7"/>
<stop offset="0.5" stop-color="#f7f7f7"/>
<stop offset="0.6" stop-color="#d1e5f0"/>
<stop offset="0.7" stop-color="#92c5de"/>
<stop offset="0.8" stop-color="#4393c3"/>
<stop offset="0.9" stop-color="#2166ac"/>
<stop offset="1" stop-color="#053061"/>
</linearGradient></defs>
<rect x="138" y="21.9" width="2.4" height="38.6" fill="url(#hmg)"/>
<text x="141.2" y="23.2" font-size="2.1" fill="#111" dominant-baseline="central" stroke="#111" stroke-width="0.06">1.5</text>
<text x="141.2" y="29.5" font-size="2.1" fill="#111" dominant-baseline="central" stroke="#111" stroke-width="0.06">1</text>
<text x="141.2" y="35.6" font-size="2.1" fill="#111" dominant-baseline="central" stroke="#111" stroke-width="0.06">0.5</text>
<text x="141.2" y="41.6" font-size="2.1" fill="#111" dominant-baseline="central" stroke="#111" stroke-width="0.06">0</text>
<text x="141.2" y="47.6" font-size="2.1" fill="#111" dominant-baseline="central" stroke="#111" stroke-width="0.06">-0.5</text>
<text x="141.2" y="53.7" font-size="2.1" fill="#111" dominant-baseline="central" stroke="#111" stroke-width="0.06">-1</text>
<text x="141.2" y="59.5" font-size="2.1" fill="#111" dominant-baseline="central" stroke="#111" stroke-width="0.06">-1.5</text>
<text x="145.2" y="22.4" font-size="2.1" font-weight="bold" dominant-baseline="central" stroke="#000" stroke-width="0.06">class</text>
<rect x="145.2" y="24" width="2.3" height="2.8" fill="#ff0000"/>
<rect x="145.2" y="27.1" width="2.3" height="2.7" fill="#00ee33"/>
<text x="148" y="25.4" font-size="2.1" fill="#111" dominant-baseline="central" stroke="#111" stroke-width="0.06">control</text>
<text x="148" y="28.5" font-size="2.1" fill="#111" dominant-baseline="central" stroke="#111" stroke-width="0.06">resistant</text>
</g>
<g id="panelB">
<text x="147.6" y="12" font-size="16.8">B</text>
<text x="265.7" y="8.2" font-size="4.29" text-anchor="middle" font-weight="bold" fill="#111" dominant-baseline="central" stroke="#111" stroke-width="0.1">Metabolite Sets Enrichment Overview</text>
<rect x="235.2" y="21.2" width="34.7" height="4.8" fill="#f5140c" stroke="#3a2a1a" stroke-width="0.3"/>
<text x="230.5" y="23.6" font-size="2.68" text-anchor="end" fill="#222" dominant-baseline="central" stroke="#222" stroke-width="0.06">Biosynthesis of unsaturated fatty acids</text>
<rect x="235.2" y="27.8" width="26.04" height="4.8" fill="#f5200e" stroke="#3a2a1a" stroke-width="0.3"/>
<text x="230.5" y="30.2" font-size="2.68" text-anchor="end" fill="#222" dominant-baseline="central" stroke="#222" stroke-width="0.06">Glycerophospholipid metabolism</text>
<rect x="235.2" y="34.4" width="31.41" height="4.8" fill="#f62c10" stroke="#3a2a1a" stroke-width="0.3"/>
<text x="230.5" y="36.8" font-size="2.68" text-anchor="end" fill="#222" dominant-baseline="central" stroke="#222" stroke-width="0.06">Citrate cycle (TCA cycle)</text>
<rect x="235.2" y="41" width="62.51" height="4.8" fill="#f63a12" stroke="#3a2a1a" stroke-width="0.3"/>
<text x="230.5" y="43.4" font-size="2.68" text-anchor="end" fill="#222" dominant-baseline="central" stroke="#222" stroke-width="0.06">Linoleic acid metabolism</text>
<rect x="235.2" y="47.6" width="22.44" height="4.8" fill="#f65016" stroke="#3a2a1a" stroke-width="0.3"/>
<text x="230.5" y="50" font-size="2.68" text-anchor="end" fill="#222" dominant-baseline="central" stroke="#222" stroke-width="0.06">Alanine, aspartate and glutamate metabolism</text>
<rect x="235.2" y="54.2" width="14.63" height="4.8" fill="#f3681a" stroke="#3a2a1a" stroke-width="0.3"/>
<text x="230.5" y="56.6" font-size="2.68" text-anchor="end" fill="#222" dominant-baseline="central" stroke="#222" stroke-width="0.06">Purine metabolism</text>
<rect x="235.2" y="60.8" width="16.16" height="4.8" fill="#f57a1c" stroke="#3a2a1a" stroke-width="0.3"/>
<text x="230.5" y="63.2" font-size="2.68" text-anchor="end" fill="#222" dominant-baseline="central" stroke="#222" stroke-width="0.06">Fatty acid degradation</text>
<rect x="235.2" y="67.4" width="15.55" height="4.8" fill="#f6881c" stroke="#3a2a1a" stroke-width="0.3"/>
<text x="230.5" y="69.8" font-size="2.68" text-anchor="end" fill="#222" dominant-baseline="central" stroke="#222" stroke-width="0.06">Tryptophan metabolism</text>
<rect x="235.2" y="74" width="20.61" height="4.8" fill="#f6981c" stroke="#3a2a1a" stroke-width="0.3"/>
<text x="230.5" y="76.4" font-size="2.68" text-anchor="end" fill="#222" dominant-baseline="central" stroke="#222" stroke-width="0.06">Butanoate metabolism</text>
<rect x="235.2" y="80.6" width="13.18" height="4.8" fill="#f7a61c" stroke="#3a2a1a" stroke-width="0.3"/>
<text x="230.5" y="83" font-size="2.68" text-anchor="end" fill="#222" dominant-baseline="central" stroke="#222" stroke-width="0.06">Fatty acid biosynthesis</text>
<rect x="235.2" y="87.2" width="19.46" height="4.8" fill="#f8b21c" stroke="#3a2a1a" stroke-width="0.3"/>
<text x="230.5" y="89.6" font-size="2.68" text-anchor="end" fill="#222" dominant-baseline="central" stroke="#222" stroke-width="0.06">Glycerolipid metabolism</text>
<rect x="235.2" y="93.8" width="16.47" height="4.8" fill="#f9c01e" stroke="#3a2a1a" stroke-width="0.3"/>
<text x="230.5" y="96.2" font-size="2.68" text-anchor="end" fill="#222" dominant-baseline="central" stroke="#222" stroke-width="0.06">Pantothenate and CoA biosynthesis</text>
<rect x="235.2" y="100.4" width="15.55" height="4.8" fill="#f9ce20" stroke="#3a2a1a" stroke-width="0.3"/>
<text x="230.5" y="102.8" font-size="2.68" text-anchor="end" fill="#222" dominant-baseline="central" stroke="#222" stroke-width="0.06">Selenocompound metabolism</text>
<rect x="235.2" y="107" width="14.63" height="4.8" fill="#fadb22" stroke="#3a2a1a" stroke-width="0.3"/>
<text x="230.5" y="109.4" font-size="2.68" text-anchor="end" fill="#222" dominant-baseline="central" stroke="#222" stroke-width="0.06">Sphingolipid metabolism</text>
<rect x="235.2" y="113.6" width="13.48" height="4.8" fill="#fbe826" stroke="#3a2a1a" stroke-width="0.3"/>
<text x="230.5" y="116" font-size="2.68" text-anchor="end" fill="#222" dominant-baseline="central" stroke="#222" stroke-width="0.06">Propanoate metabolism</text>
<rect x="235.2" y="120.2" width="11.03" height="4.8" fill="#fbf234" stroke="#3a2a1a" stroke-width="0.3"/>
<text x="230.5" y="122.6" font-size="2.68" text-anchor="end" fill="#222" dominant-baseline="central" stroke="#222" stroke-width="0.06">Glutathione metabolism</text>
<rect x="235.2" y="126.8" width="9.57" height="4.8" fill="#fbf558" stroke="#3a2a1a" stroke-width="0.3"/>
<text x="230.5" y="129.2" font-size="2.68" text-anchor="end" fill="#222" dominant-baseline="central" stroke="#222" stroke-width="0.06">Glyoxylate and dicarboxylate metabolism</text>
<rect x="235.2" y="133.4" width="9.57" height="4.8" fill="#fbf77e" stroke="#3a2a1a" stroke-width="0.3"/>
<text x="230.5" y="135.8" font-size="2.68" text-anchor="end" fill="#222" dominant-baseline="central" stroke="#222" stroke-width="0.06">Glycine, serine and threonine metabolism</text>
<rect x="235.2" y="140" width="9.57" height="4.8" fill="#fbf8a0" stroke="#3a2a1a" stroke-width="0.3"/>
<text x="230.5" y="142.4" font-size="2.68" text-anchor="end" fill="#222" dominant-baseline="central" stroke="#222" stroke-width="0.06">Cysteine and methionine metabolism</text>
<rect x="235.2" y="146.6" width="8.66" height="4.8" fill="#fcf9c0" stroke="#3a2a1a" stroke-width="0.3"/>
<text x="230.5" y="149" font-size="2.68" text-anchor="end" fill="#222" dominant-baseline="central" stroke="#222" stroke-width="0.06">Arginine and proline metabolism</text>
<rect x="235.2" y="153.2" width="8.35" height="4.8" fill="#fdfbe2" stroke="#3a2a1a" stroke-width="0.3"/>
<text x="230.5" y="155.6" font-size="2.68" text-anchor="end" fill="#222" dominant-baseline="central" stroke="#222" stroke-width="0.06">Fatty acid elongation</text>
<line x1="235.2" y1="163.1" x2="296.48" y2="163.1" stroke="#444" stroke-width="0.35"/>
<line x1="235.2" y1="163.1" x2="235.2" y2="164.3" stroke="#444" stroke-width="0.35"/>
<text x="235.2" y="169.6" font-size="3.3" text-anchor="middle" fill="#222" dominant-baseline="central" stroke="#222" stroke-width="0.1">0</text>
<line x1="250.52" y1="163.1" x2="250.52" y2="164.3" stroke="#444" stroke-width="0.35"/>
<text x="250.52" y="169.6" font-size="3.3" text-anchor="middle" fill="#222" dominant-baseline="central" stroke="#222" stroke-width="0.1">2</text>
<line x1="265.84" y1="163.1" x2="265.84" y2="164.3" stroke="#444" stroke-width="0.35"/>
<text x="265.84" y="169.6" font-size="3.3" text-anchor="middle" fill="#222" dominant-baseline="central" stroke="#222" stroke-width="0.1">4</text>
<line x1="281.16" y1="163.1" x2="281.16" y2="164.3" stroke="#444" stroke-width="0.35"/>
<text x="281.16" y="169.6" font-size="3.3" text-anchor="middle" fill="#222" dominant-baseline="central" stroke="#222" stroke-width="0.1">6</text>
<line x1="296.48" y1="163.1" x2="296.48" y2="164.3" stroke="#444" stroke-width="0.35"/>
<text x="296.48" y="169.6" font-size="3.3" text-anchor="middle" fill="#222" dominant-baseline="central" stroke="#222" stroke-width="0.1">8</text>
<text x="265.7" y="177.8" font-size="3.55" text-anchor="middle" fill="#222" dominant-baseline="central" stroke="#222" stroke-width="0.1">Enrichment Ratio</text>
<text x="300.7" y="54.6" font-size="3.5" font-weight="bold" fill="#222" dominant-baseline="central" stroke="#222" stroke-width="0.1">P value</text>
<defs><linearGradient id="pvg" x1="0" y1="0" x2="0" y2="1"><stop offset="0" stop-color="#f5140c"/><stop offset="0.35" stop-color="#f6981c"/><stop offset="0.7" stop-color="#fbf234"/><stop offset="1" stop-color="#fdfbe6"/></linearGradient></defs>
<rect x="304.3" y="59.9" width="4.8" height="58.9" fill="url(#pvg)" stroke="#666" stroke-width="0.2"/>
<text x="312.6" y="60.3" font-size="3.3" fill="#222" dominant-baseline="central" stroke="#222" stroke-width="0.1">1e-02</text>
<text x="312.6" y="89.3" font-size="3.3" fill="#222" dominant-baseline="central" stroke="#222" stroke-width="0.1">3e-01</text>
<text x="312.6" y="118.6" font-size="3.3" fill="#222" dominant-baseline="central" stroke="#222" stroke-width="0.1">6e-01</text>
</g>
<g id="panelC">
<text x="334" y="12.1" font-size="16.8">C</text>
<line x1="387" y1="15.5" x2="387" y2="75.1" stroke="#000" stroke-width="1"/>
<line x1="386.6" y1="74.6" x2="475.3" y2="74.6" stroke="#000" stroke-width="1"/>
<line x1="385.4" y1="74.6" x2="387" y2="74.6" stroke="#000" stroke-width="0.6"/>
<text x="383.6" y="74.6" font-size="4.3" text-anchor="end" font-weight="bold" dominant-baseline="central" stroke="#000" stroke-width="0.1">0</text>
<line x1="385.4" y1="55" x2="387" y2="55" stroke="#000" stroke-width="0.6"/>
<text x="383.6" y="55" font-size="4.3" text-anchor="end" font-weight="bold" dominant-baseline="central" stroke="#000" stroke-width="0.1">200000</text>
<line x1="385.4" y1="35.4" x2="387" y2="35.4" stroke="#000" stroke-width="0.6"/>
<text x="383.6" y="35.4" font-size="4.3" text-anchor="end" font-weight="bold" dominant-baseline="central" stroke="#000" stroke-width="0.1">400000</text>
<line x1="385.4" y1="15.8" x2="387" y2="15.8" stroke="#000" stroke-width="0.6"/>
<text x="383.6" y="15.8" font-size="4.3" text-anchor="end" font-weight="bold" dominant-baseline="central" stroke="#000" stroke-width="0.1">600000</text>
<line x1="387" y1="74.6" x2="387" y2="76.2" stroke="#000" stroke-width="0.6"/>
<text x="387" y="80.1" font-size="4.5" text-anchor="middle" font-weight="bold" dominant-baseline="central" stroke="#000" stroke-width="0.1">0</text>
<line x1="416.33" y1="74.6" x2="416.33" y2="76.2" stroke="#000" stroke-width="0.6"/>
<text x="416.33" y="80.1" font-size="4.5" text-anchor="middle" font-weight="bold" dominant-baseline="central" stroke="#000" stroke-width="0.1">50</text>
<line x1="445.67" y1="74.6" x2="445.67" y2="76.2" stroke="#000" stroke-width="0.6"/>
<text x="445.67" y="80.1" font-size="4.5" text-anchor="middle" font-weight="bold" dominant-baseline="central" stroke="#000" stroke-width="0.1">100</text>
<line x1="475" y1="74.6" x2="475" y2="76.2" stroke="#000" stroke-width="0.6"/>
<text x="475" y="80.1" font-size="4.5" text-anchor="middle" font-weight="bold" dominant-baseline="central" stroke="#000" stroke-width="0.1">150</text>
<text x="431.7" y="88" font-size="4.45" text-anchor="middle" font-weight="bold" dominant-baseline="central" stroke="#000" stroke-width="0.1">Hours</text>
<text x="364.2" y="45.4" font-size="4.85" text-anchor="middle" font-weight="bold" dominant-baseline="central" transform="rotate(-90 364.2 45.4)" stroke="#000" stroke-width="0.1">Total Area (µM²)</text>
<path d="M387 71.66 L394.04 70.19 L401.08 68.23 L408.12 66.27 L415.16 63.33 L422.2 60.39 L429.24 56.47 L436.28 52.55 L443.32 47.16 L450.36 41.28 L457.4 35.4 L464.44 27.56" stroke="#6fa3dc" stroke-width="0.95" fill="none"/>
<path d="M387 70.19V73.13 M385.75 70.19H388.25 M385.75 73.13H388.25" stroke="#6fa3dc" stroke-width="0.8" fill="none"/>
<rect x="386.3" y="70.96" width="1.4" height="1.4" fill="#6fa3dc"/>
<path d="M394.04 69.41V70.97 M392.79 69.41H395.29 M392.79 70.97H395.29" stroke="#6fa3dc" stroke-width="0.8" fill="none"/>
<rect x="393.34" y="69.49" width="1.4" height="1.4" fill="#6fa3dc"/>
<path d="M401.08 67.45V69.01 M399.83 67.45H402.33 M399.83 69.01H402.33" stroke="#6fa3dc" stroke-width="0.8" fill="none"/>
<rect x="400.38" y="67.53" width="1.4" height="1.4" fill="#6fa3dc"/>
<path d="M408.12 65.49V67.05 M406.87 65.49H409.37 M406.87 67.05H409.37" stroke="#6fa3dc" stroke-width="0.8" fill="none"/>
<rect x="407.42" y="65.57" width="1.4" height="1.4" fill="#6fa3dc"/>
<path d="M415.16 62.15V64.51 M413.91 62.15H416.41 M413.91 64.51H416.41" stroke="#6fa3dc" stroke-width="0.8" fill="none"/>
<rect x="414.46" y="62.63" width="1.4" height="1.4" fill="#6fa3dc"/>
<path d="M422.2 58.63V62.15 M420.95 58.63H423.45 M420.95 62.15H423.45" stroke="#6fa3dc" stroke-width="0.8" fill="none"/>
<rect x="421.5" y="59.69" width="1.4" height="1.4" fill="#6fa3dc"/>
<path d="M429.24 53.33V59.61 M427.99 53.33H430.49 M427.99 59.61H430.49" stroke="#6fa3dc" stroke-width="0.8" fill="none"/>
<rect x="428.54" y="55.77" width="1.4" height="1.4" fill="#6fa3dc"/>
<path d="M436.28 49.12V55.98 M435.03 49.12H437.53 M435.03 55.98H437.53" stroke="#6fa3dc" stroke-width="0.8" fill="none"/>
<rect x="435.58" y="51.85" width="1.4" height="1.4" fill="#6fa3dc"/>
<path d="M443.32 43.04V51.28 M442.07 43.04H444.57 M442.07 51.28H444.57" stroke="#6fa3dc" stroke-width="0.8" fill="none"/>
<rect x="442.62" y="46.46" width="1.4" height="1.4" fill="#6fa3dc"/>
<path d="M450.36 34.91V47.65 M449.11 34.91H451.61 M449.11 47.65H451.61" stroke="#6fa3dc" stroke-width="0.8" fill="none"/>
<rect x="449.66" y="40.58" width="1.4" height="1.4" fill="#6fa3dc"/>
<path d="M457.4 27.56V43.24 M456.15 27.56H458.65 M456.15 43.24H458.65" stroke="#6fa3dc" stroke-width="0.8" fill="none"/>
<rect x="456.7" y="34.7" width="1.4" height="1.4" fill="#6fa3dc"/>
<path d="M464.44 17.27V37.85 M463.19 17.27H465.69 M463.19 37.85H465.69" stroke="#6fa3dc" stroke-width="0.8" fill="none"/>
<rect x="463.74" y="26.86" width="1.4" height="1.4" fill="#6fa3dc"/>
<path d="M387 72.64 L394.04 72.44 L401.08 72.15 L408.12 71.86 L415.16 71.46 L422.2 71.66 L429.24 70.88 L436.28 70.68 L443.32 70.19 L450.36 70.48 L457.4 68.72 L464.44 69.7" stroke="#a182d8" stroke-width="0.95" fill="none"/>
<path d="M387 70.48V74.8 M385.75 70.48H388.25 M385.75 74.8H388.25" stroke="#a182d8" stroke-width="0.8" fill="none"/>
<rect x="386.3" y="71.94" width="1.4" height="1.4" fill="#a182d8"/>
<path d="M394.04 70.97V73.91 M392.79 70.97H395.29 M392.79 73.91H395.29" stroke="#a182d8" stroke-width="0.8" fill="none"/>
<rect x="393.34" y="71.74" width="1.4" height="1.4" fill="#a182d8"/>
<path d="M401.08 70.19V74.11 M399.83 70.19H402.33 M399.83 74.11H402.33" stroke="#a182d8" stroke-width="0.8" fill="none"/>
<rect x="400.38" y="71.45" width="1.4" height="1.4" fill="#a182d8"/>
<path d="M408.12 69.9V73.82 M406.87 69.9H409.37 M406.87 73.82H409.37" stroke="#a182d8" stroke-width="0.8" fill="none"/>
<rect x="407.42" y="71.16" width="1.4" height="1.4" fill="#a182d8"/>
<path d="M415.16 69.31V73.62 M413.91 69.31H416.41 M413.91 73.62H416.41" stroke="#a182d8" stroke-width="0.8" fill="none"/>
<rect x="414.46" y="70.76" width="1.4" height="1.4" fill="#a182d8"/>
<path d="M422.2 69.7V73.62 M420.95 69.7H423.45 M420.95 73.62H423.45" stroke="#a182d8" stroke-width="0.8" fill="none"/>
<rect x="421.5" y="70.96" width="1.4" height="1.4" fill="#a182d8"/>
<path d="M429.24 68.72V73.03 M427.99 68.72H430.49 M427.99 73.03H430.49" stroke="#a182d8" stroke-width="0.8" fill="none"/>
<rect x="428.54" y="70.18" width="1.4" height="1.4" fill="#a182d8"/>
<path d="M436.28 68.72V72.64 M435.03 68.72H437.53 M435.03 72.64H437.53" stroke="#a182d8" stroke-width="0.8" fill="none"/>
<rect x="435.58" y="69.98" width="1.4" height="1.4" fill="#a182d8"/>
<path d="M443.32 67.45V72.93 M442.07 67.45H444.57 M442.07 72.93H444.57" stroke="#a182d8" stroke-width="0.8" fill="none"/>
<rect x="442.62" y="69.49" width="1.4" height="1.4" fill="#a182d8"/>
<path d="M450.36 68.03V72.93 M449.11 68.03H451.61 M449.11 72.93H451.61" stroke="#a182d8" stroke-width="0.8" fill="none"/>
<rect x="449.66" y="69.78" width="1.4" height="1.4" fill="#a182d8"/>
<path d="M457.4 65.58V71.86 M456.15 65.58H458.65 M456.15 71.86H458.65" stroke="#a182d8" stroke-width="0.8" fill="none"/>
<rect x="456.7" y="68.02" width="1.4" height="1.4" fill="#a182d8"/>
<path d="M464.44 64.8V74.6 M463.19 64.8H465.69 M463.19 74.6H465.69" stroke="#a182d8" stroke-width="0.8" fill="none"/>
<rect x="463.74" y="69" width="1.4" height="1.4" fill="#a182d8"/>
<line x1="389.5" y1="18.1" x2="393.9" y2="18.1" stroke="#6fa3dc" stroke-width="0.6"/>
<rect x="391.15" y="17.55" width="1.1" height="1.1" fill="#6fa3dc"/>
<text x="399.6" y="18.1" font-size="4.68" dominant-baseline="central" stroke="#000" stroke-width="0.1">D458 IR shNull</text>
<line x1="389.5" y1="26.3" x2="393.9" y2="26.3" stroke="#a182d8" stroke-width="0.6"/>
<rect x="391.15" y="25.75" width="1.1" height="1.1" fill="#a182d8"/>
<text x="399.6" y="26.3" font-size="4.68" dominant-baseline="central" stroke="#000" stroke-width="0.1">D458 IR shIDH1</text>
<path d="M436.3 18.1H437.9V26.3H436.3" stroke="#000" stroke-width="0.6" fill="none"/>
<text x="439.6" y="22.3" font-size="4.8" dominant-baseline="central" stroke="#000" stroke-width="0.1">P=0.008</text>
<line x1="541.8" y1="16.3" x2="541.8" y2="75.9" stroke="#000" stroke-width="1"/>
<line x1="541.4" y1="75.4" x2="630.8" y2="75.4" stroke="#000" stroke-width="1"/>
<line x1="540.2" y1="75.4" x2="541.8" y2="75.4" stroke="#000" stroke-width="0.6"/>
<text x="538.4" y="75.4" font-size="4.3" text-anchor="end" font-weight="bold" dominant-baseline="central" stroke="#000" stroke-width="0.1">0</text>
<line x1="540.2" y1="55.8" x2="541.8" y2="55.8" stroke="#000" stroke-width="0.6"/>
<text x="538.4" y="55.8" font-size="4.3" text-anchor="end" font-weight="bold" dominant-baseline="central" stroke="#000" stroke-width="0.1">200000</text>
<line x1="540.2" y1="36.2" x2="541.8" y2="36.2" stroke="#000" stroke-width="0.6"/>
<text x="538.4" y="36.2" font-size="4.3" text-anchor="end" font-weight="bold" dominant-baseline="central" stroke="#000" stroke-width="0.1">400000</text>
<line x1="540.2" y1="16.6" x2="541.8" y2="16.6" stroke="#000" stroke-width="0.6"/>
<text x="538.4" y="16.6" font-size="4.3" text-anchor="end" font-weight="bold" dominant-baseline="central" stroke="#000" stroke-width="0.1">600000</text>
<line x1="547" y1="75.4" x2="547" y2="77" stroke="#000" stroke-width="0.6"/>
<text x="547" y="80.9" font-size="4.5" text-anchor="middle" font-weight="bold" dominant-baseline="central" stroke="#000" stroke-width="0.1">0</text>
<line x1="561.36" y1="75.4" x2="561.36" y2="77" stroke="#000" stroke-width="0.6"/>
<text x="561.36" y="80.9" font-size="4.5" text-anchor="middle" font-weight="bold" dominant-baseline="central" stroke="#000" stroke-width="0.1">24</text>
<line x1="575.73" y1="75.4" x2="575.73" y2="77" stroke="#000" stroke-width="0.6"/>
<text x="575.73" y="80.9" font-size="4.5" text-anchor="middle" font-weight="bold" dominant-baseline="central" stroke="#000" stroke-width="0.1">48</text>
<line x1="590.09" y1="75.4" x2="590.09" y2="77" stroke="#000" stroke-width="0.6"/>
<text x="590.09" y="80.9" font-size="4.5" text-anchor="middle" font-weight="bold" dominant-baseline="central" stroke="#000" stroke-width="0.1">72</text>
<line x1="604.46" y1="75.4" x2="604.46" y2="77" stroke="#000" stroke-width="0.6"/>
<text x="604.46" y="80.9" font-size="4.5" text-anchor="middle" font-weight="bold" dominant-baseline="central" stroke="#000" stroke-width="0.1">96</text>
<line x1="618.82" y1="75.4" x2="618.82" y2="77" stroke="#000" stroke-width="0.6"/>
<text x="618.82" y="80.9" font-size="4.5" text-anchor="middle" font-weight="bold" dominant-baseline="central" stroke="#000" stroke-width="0.1">120</text>
<text x="587" y="88.8" font-size="4.45" text-anchor="middle" font-weight="bold" dominant-baseline="central" stroke="#000" stroke-width="0.1">Hours</text>
<text x="519.5" y="46.2" font-size="4.85" text-anchor="middle" font-weight="bold" dominant-baseline="central" transform="rotate(-90 519.5 46.2)" stroke="#000" stroke-width="0.1">Total Area (µM²)</text>
<path d="M547 72.95 L554.18 70.99 L561.36 70.01 L568.55 68.05 L575.73 66.09 L582.91 63.64 L590.09 61.19 L597.27 57.76 L604.46 53.35 L611.64 48.94 L618.82 42.08 L626 34.24" stroke="#6fa3dc" stroke-width="0.95" fill="none"/>
<path d="M547 72.17V73.73 M545.75 72.17H548.25 M545.75 73.73H548.25" stroke="#6fa3dc" stroke-width="0.8" fill="none"/>
<rect x="546.3" y="72.25" width="1.4" height="1.4" fill="#6fa3dc"/>
<path d="M554.18 70.21V71.77 M552.93 70.21H555.43 M552.93 71.77H555.43" stroke="#6fa3dc" stroke-width="0.8" fill="none"/>
<rect x="553.48" y="70.29" width="1.4" height="1.4" fill="#6fa3dc"/>
<path d="M561.36 69.23V70.79 M560.11 69.23H562.61 M560.11 70.79H562.61" stroke="#6fa3dc" stroke-width="0.8" fill="none"/>
<rect x="560.66" y="69.31" width="1.4" height="1.4" fill="#6fa3dc"/>
<path d="M568.55 66.87V69.23 M567.3 66.87H569.8 M567.3 69.23H569.8" stroke="#6fa3dc" stroke-width="0.8" fill="none"/>
<rect x="567.85" y="67.35" width="1.4" height="1.4" fill="#6fa3dc"/>
<path d="M575.73 64.13V68.05 M574.48 64.13H576.98 M574.48 68.05H576.98" stroke="#6fa3dc" stroke-width="0.8" fill="none"/>
<rect x="575.03" y="65.39" width="1.4" height="1.4" fill="#6fa3dc"/>
<path d="M582.91 61.19V66.09 M581.66 61.19H584.16 M581.66 66.09H584.16" stroke="#6fa3dc" stroke-width="0.8" fill="none"/>
<rect x="582.21" y="62.94" width="1.4" height="1.4" fill="#6fa3dc"/>
<path d="M590.09 57.76V64.62 M588.84 57.76H591.34 M588.84 64.62H591.34" stroke="#6fa3dc" stroke-width="0.8" fill="none"/>
<rect x="589.39" y="60.49" width="1.4" height="1.4" fill="#6fa3dc"/>
<path d="M597.27 53.06V62.46 M596.02 53.06H598.52 M596.02 62.46H598.52" stroke="#6fa3dc" stroke-width="0.8" fill="none"/>
<rect x="596.57" y="57.06" width="1.4" height="1.4" fill="#6fa3dc"/>
<path d="M604.46 47.47V59.23 M603.21 47.47H605.71 M603.21 59.23H605.71" stroke="#6fa3dc" stroke-width="0.8" fill="none"/>
<rect x="603.76" y="52.65" width="1.4" height="1.4" fill="#6fa3dc"/>
<path d="M611.64 40.12V57.76 M610.39 40.12H612.89 M610.39 57.76H612.89" stroke="#6fa3dc" stroke-width="0.8" fill="none"/>
<rect x="610.94" y="48.24" width="1.4" height="1.4" fill="#6fa3dc"/>
<path d="M618.82 31.3V52.86 M617.57 31.3H620.07 M617.57 52.86H620.07" stroke="#6fa3dc" stroke-width="0.8" fill="none"/>
<rect x="618.12" y="41.38" width="1.4" height="1.4" fill="#6fa3dc"/>
<path d="M626 19.54V48.94 M624.75 19.54H627.25 M624.75 48.94H627.25" stroke="#6fa3dc" stroke-width="0.8" fill="none"/>
<rect x="625.3" y="33.54" width="1.4" height="1.4" fill="#6fa3dc"/>
<path d="M547 74.42 L554.18 72.95 L561.36 72.66 L568.55 72.46 L575.73 72.46 L582.91 71.48 L590.09 70.7 L597.27 70.01 L604.46 68.74 L611.64 67.07 L618.82 65.11 L626 63.15" stroke="#a182d8" stroke-width="0.95" fill="none"/>
<path d="M547 73.24V75.6 M545.75 73.24H548.25 M545.75 75.6H548.25" stroke="#a182d8" stroke-width="0.8" fill="none"/>
<rect x="546.3" y="73.72" width="1.4" height="1.4" fill="#a182d8"/>
<path d="M554.18 71.97V73.93 M552.93 71.97H555.43 M552.93 73.93H555.43" stroke="#a182d8" stroke-width="0.8" fill="none"/>
<rect x="553.48" y="72.25" width="1.4" height="1.4" fill="#a182d8"/>
<path d="M561.36 71.68V73.64 M560.11 71.68H562.61 M560.11 73.64H562.61" stroke="#a182d8" stroke-width="0.8" fill="none"/>
<rect x="560.66" y="71.96" width="1.4" height="1.4" fill="#a182d8"/>
<path d="M568.55 71.28V73.64 M567.3 71.28H569.8 M567.3 73.64H569.8" stroke="#a182d8" stroke-width="0.8" fill="none"/>
<rect x="567.85" y="71.76" width="1.4" height="1.4" fill="#a182d8"/>
<path d="M575.73 69.32V75.6 M574.48 69.32H576.98 M574.48 75.6H576.98" stroke="#a182d8" stroke-width="0.8" fill="none"/>
<rect x="575.03" y="71.76" width="1.4" height="1.4" fill="#a182d8"/>
<path d="M582.91 70.5V72.46 M581.66 70.5H584.16 M581.66 72.46H584.16" stroke="#a182d8" stroke-width="0.8" fill="none"/>
<rect x="582.21" y="70.78" width="1.4" height="1.4" fill="#a182d8"/>
<path d="M590.09 69.52V71.87 M588.84 69.52H591.34 M588.84 71.87H591.34" stroke="#a182d8" stroke-width="0.8" fill="none"/>
<rect x="589.39" y="70" width="1.4" height="1.4" fill="#a182d8"/>
<path d="M597.27 68.25V71.77 M596.02 68.25H598.52 M596.02 71.77H598.52" stroke="#a182d8" stroke-width="0.8" fill="none"/>
<rect x="596.57" y="69.31" width="1.4" height="1.4" fill="#a182d8"/>
<path d="M604.46 66.97V70.5 M603.21 66.97H605.71 M603.21 70.5H605.71" stroke="#a182d8" stroke-width="0.8" fill="none"/>
<rect x="603.76" y="68.04" width="1.4" height="1.4" fill="#a182d8"/>
<path d="M611.64 64.91V69.23 M610.39 64.91H612.89 M610.39 69.23H612.89" stroke="#a182d8" stroke-width="0.8" fill="none"/>
<rect x="610.94" y="66.37" width="1.4" height="1.4" fill="#a182d8"/>
<path d="M618.82 62.37V67.85 M617.57 62.37H620.07 M617.57 67.85H620.07" stroke="#a182d8" stroke-width="0.8" fill="none"/>
<rect x="618.12" y="64.41" width="1.4" height="1.4" fill="#a182d8"/>
<path d="M626 59.72V66.58 M624.75 59.72H627.25 M624.75 66.58H627.25" stroke="#a182d8" stroke-width="0.8" fill="none"/>
<rect x="625.3" y="62.45" width="1.4" height="1.4" fill="#a182d8"/>
<line x1="550.1" y1="22.3" x2="554.5" y2="22.3" stroke="#6fa3dc" stroke-width="0.6"/>
<rect x="551.75" y="21.75" width="1.1" height="1.1" fill="#6fa3dc"/>
<text x="558.9" y="22.3" font-size="4.68" dominant-baseline="central" stroke="#000" stroke-width="0.1">D425 IR shNull</text>
<line x1="550.1" y1="30.7" x2="554.5" y2="30.7" stroke="#a182d8" stroke-width="0.6"/>
<rect x="551.75" y="30.15" width="1.1" height="1.1" fill="#a182d8"/>
<text x="558.9" y="30.7" font-size="4.68" dominant-baseline="central" stroke="#000" stroke-width="0.1">D425 IR shIDH1</text>
<path d="M597 22.3H598.6V30.7H597" stroke="#000" stroke-width="0.6" fill="none"/>
<text x="600.6" y="26.4" font-size="4.8" dominant-baseline="central" stroke="#000" stroke-width="0.1">P=0.0069</text>
<line x1="386.5" y1="109.2" x2="386.5" y2="174.6" stroke="#000" stroke-width="1"/>
<line x1="386" y1="174.1" x2="484.6" y2="174.1" stroke="#000" stroke-width="1"/>
<line x1="384.7" y1="174.1" x2="386.5" y2="174.1" stroke="#000" stroke-width="0.7"/>
<text x="383.8" y="174.1" font-size="5" text-anchor="end" font-weight="bold" dominant-baseline="central" stroke="#000" stroke-width="0.1">0</text>
<line x1="384.7" y1="157.95" x2="386.5" y2="157.95" stroke="#000" stroke-width="0.7"/>
<text x="383.8" y="157.95" font-size="5" text-anchor="end" font-weight="bold" dominant-baseline="central" stroke="#000" stroke-width="0.1">100</text>
<line x1="384.7" y1="141.8" x2="386.5" y2="141.8" stroke="#000" stroke-width="0.7"/>
<text x="383.8" y="141.8" font-size="5" text-anchor="end" font-weight="bold" dominant-baseline="central" stroke="#000" stroke-width="0.1">200</text>
<line x1="384.7" y1="125.65" x2="386.5" y2="125.65" stroke="#000" stroke-width="0.7"/>
<text x="383.8" y="125.65" font-size="5" text-anchor="end" font-weight="bold" dominant-baseline="central" stroke="#000" stroke-width="0.1">300</text>
<line x1="384.7" y1="109.5" x2="386.5" y2="109.5" stroke="#000" stroke-width="0.7"/>
<text x="383.8" y="109.5" font-size="5" text-anchor="end" font-weight="bold" dominant-baseline="central" stroke="#000" stroke-width="0.1">400</text>
<text x="369.4" y="142" font-size="7" text-anchor="middle" font-weight="bold" dominant-baseline="central" transform="rotate(-90 369.4 142)" stroke="#000" stroke-width="0.1">AVG Sphere size µm</text>
<line x1="414.4" y1="120.81" x2="414.4" y2="142.61" stroke="#6a50b0" stroke-width="0.7"/>
<line x1="414.4" y1="152.62" x2="414.4" y2="159.56" stroke="#6a50b0" stroke-width="0.7"/>
<line x1="407.38" y1="120.81" x2="421.42" y2="120.81" stroke="#6a50b0" stroke-width="0.7"/>
<line x1="407.38" y1="159.56" x2="421.42" y2="159.56" stroke="#6a50b0" stroke-width="0.7"/>
<rect x="400.9" y="142.61" width="27" height="10.01" fill="#ddd3f3" stroke="#6a50b0" stroke-width="0.6" fill-opacity="0.8"/>
<line x1="400.9" y1="146.65" x2="427.9" y2="146.65" stroke="#6a50b0" stroke-width="0.7"/>
<circle cx="413.82" cy="154.24" r="1.3" fill="#b09ce0"/>
<circle cx="416.39" cy="144.3" r="1.3" fill="#b09ce0"/>
<circle cx="420.87" cy="143.68" r="1.3" fill="#b09ce0"/>
<circle cx="410.9" cy="139.83" r="1.3" fill="#b09ce0"/>
<circle cx="407.63" cy="137.12" r="1.3" fill="#b09ce0"/>
<circle cx="423.04" cy="140.55" r="1.3" fill="#b09ce0"/>
<circle cx="404.72" cy="151.52" r="1.3" fill="#b09ce0"/>
<circle cx="406.69" cy="153.71" r="1.3" fill="#b09ce0"/>
<circle cx="413.83" cy="132.49" r="1.3" fill="#b09ce0"/>
<circle cx="414.79" cy="142.35" r="1.3" fill="#b09ce0"/>
<circle cx="413.54" cy="151.29" r="1.3" fill="#b09ce0"/>
<circle cx="423.91" cy="152.28" r="1.3" fill="#b09ce0"/>
<circle cx="412.16" cy="134.76" r="1.3" fill="#b09ce0"/>
<circle cx="409.12" cy="146.97" r="1.3" fill="#b09ce0"/>
<circle cx="419.5" cy="137.07" r="1.3" fill="#b09ce0"/>
<circle cx="423.72" cy="142.12" r="1.3" fill="#b09ce0"/>
<circle cx="424.76" cy="146.53" r="1.3" fill="#b09ce0"/>
<circle cx="426.5" cy="146.81" r="1.3" fill="#b09ce0"/>
<circle cx="420.87" cy="148.58" r="1.3" fill="#b09ce0"/>
<circle cx="404.59" cy="145.19" r="1.3" fill="#b09ce0"/>
<circle cx="408.08" cy="154.59" r="1.3" fill="#b09ce0"/>
<circle cx="410.45" cy="132.74" r="1.3" fill="#b09ce0"/>
<circle cx="415.22" cy="136.33" r="1.3" fill="#b09ce0"/>
<circle cx="407.95" cy="142.57" r="1.3" fill="#b09ce0"/>
<circle cx="404.83" cy="147.02" r="1.3" fill="#b09ce0"/>
<circle cx="408.16" cy="149.91" r="1.3" fill="#b09ce0"/>
<circle cx="409.88" cy="148.69" r="1.3" fill="#b09ce0"/>
<circle cx="412.33" cy="130.26" r="1.3" fill="#b09ce0"/>
<circle cx="408.53" cy="156.24" r="1.3" fill="#b09ce0"/>
<circle cx="409.52" cy="139.13" r="1.3" fill="#b09ce0"/>
<circle cx="409.36" cy="147.2" r="1.3" fill="#b09ce0"/>
<circle cx="408.87" cy="135.97" r="1.3" fill="#b09ce0"/>
<circle cx="411.72" cy="150.67" r="1.3" fill="#b09ce0"/>
<circle cx="424.88" cy="148.95" r="1.3" fill="#b09ce0"/>
<circle cx="409.2" cy="154.72" r="1.3" fill="#b09ce0"/>
<circle cx="424.39" cy="145.82" r="1.3" fill="#b09ce0"/>
<circle cx="419.96" cy="144.7" r="1.3" fill="#b09ce0"/>
<circle cx="408.15" cy="150.93" r="1.3" fill="#b09ce0"/>
<circle cx="413.47" cy="134.43" r="1.3" fill="#b09ce0"/>
<circle cx="404.72" cy="150.6" r="1.3" fill="#b09ce0"/>
<circle cx="409.44" cy="142.19" r="1.3" fill="#b09ce0"/>
<circle cx="416.73" cy="147.71" r="1.3" fill="#b09ce0"/>
<circle cx="403.95" cy="147.68" r="1.3" fill="#b09ce0"/>
<circle cx="415.66" cy="142.93" r="1.3" fill="#b09ce0"/>
<circle cx="422.6" cy="141.5" r="1.3" fill="#b09ce0"/>
<circle cx="405.82" cy="153.5" r="1.3" fill="#b09ce0"/>
<circle cx="412.22" cy="138.76" r="1.3" fill="#b09ce0"/>
<circle cx="407.8" cy="139.95" r="1.3" fill="#b09ce0"/>
<circle cx="416.9" cy="155.11" r="1.3" fill="#b09ce0"/>
<circle cx="415.61" cy="136.69" r="1.3" fill="#b09ce0"/>
<circle cx="414.91" cy="122.76" r="1.3" fill="#b09ce0"/>
<circle cx="402.93" cy="145.36" r="1.3" fill="#b09ce0"/>
<circle cx="410.75" cy="151.32" r="1.3" fill="#b09ce0"/>
<circle cx="406.16" cy="152.02" r="1.3" fill="#b09ce0"/>
<circle cx="417.85" cy="156.37" r="1.3" fill="#b09ce0"/>
<circle cx="420.9" cy="149.54" r="1.3" fill="#b09ce0"/>
<circle cx="422.35" cy="141.67" r="1.3" fill="#b09ce0"/>
<circle cx="412.57" cy="149.59" r="1.3" fill="#b09ce0"/>
<circle cx="417.14" cy="143.52" r="1.3" fill="#b09ce0"/>
<circle cx="415.39" cy="158.63" r="1.3" fill="#b09ce0"/>
<circle cx="425.84" cy="148.61" r="1.3" fill="#b09ce0"/>
<circle cx="419.78" cy="148.25" r="1.3" fill="#b09ce0"/>
<circle cx="413.4" cy="154.38" r="1.3" fill="#b09ce0"/>
<circle cx="406.86" cy="140.12" r="1.3" fill="#b09ce0"/>
<circle cx="413.92" cy="146.64" r="1.3" fill="#b09ce0"/>
<circle cx="419.1" cy="148.17" r="1.3" fill="#b09ce0"/>
<circle cx="410.53" cy="155.22" r="1.3" fill="#b09ce0"/>
<circle cx="416.82" cy="136.04" r="1.3" fill="#b09ce0"/>
<circle cx="418.26" cy="145.53" r="1.3" fill="#b09ce0"/>
<circle cx="422.76" cy="143.03" r="1.3" fill="#b09ce0"/>
<circle cx="412.97" cy="150.92" r="1.3" fill="#b09ce0"/>
<circle cx="421.16" cy="138.51" r="1.3" fill="#b09ce0"/>
<circle cx="410.65" cy="142.18" r="1.3" fill="#b09ce0"/>
<circle cx="414.33" cy="150.82" r="1.3" fill="#b09ce0"/>
<circle cx="422.68" cy="140.37" r="1.3" fill="#b09ce0"/>
<circle cx="409.8" cy="156.95" r="1.3" fill="#b09ce0"/>
<circle cx="412.67" cy="151.39" r="1.3" fill="#b09ce0"/>
<circle cx="414.25" cy="145.13" r="1.3" fill="#b09ce0"/>
<circle cx="413.44" cy="151.38" r="1.3" fill="#b09ce0"/>
<circle cx="408.18" cy="135.76" r="1.3" fill="#b09ce0"/>
<circle cx="414.4" cy="120.81" r="1.2" fill="#b09ce0"/>
<line x1="414.4" y1="174.1" x2="414.4" y2="175.9" stroke="#000" stroke-width="0.7"/>
<text x="414.4" y="180.8" font-size="4.9" text-anchor="middle" font-weight="bold" dominant-baseline="central" stroke="#000" stroke-width="0.1">458IR shNull</text>
<line x1="455.6" y1="133.72" x2="455.6" y2="150.2" stroke="#3f70e8" stroke-width="0.7"/>
<line x1="455.6" y1="158.76" x2="455.6" y2="162.79" stroke="#3f70e8" stroke-width="0.7"/>
<line x1="448.58" y1="133.72" x2="462.62" y2="133.72" stroke="#3f70e8" stroke-width="0.7"/>
<line x1="448.58" y1="162.79" x2="462.62" y2="162.79" stroke="#3f70e8" stroke-width="0.7"/>
<rect x="442.1" y="150.2" width="27" height="8.56" fill="#a8e4fa" stroke="#3f70e8" stroke-width="0.6" fill-opacity="0.8"/>
<line x1="442.1" y1="155.53" x2="469.1" y2="155.53" stroke="#3f70e8" stroke-width="0.7"/>
<circle cx="457.28" cy="154.45" r="1.3" fill="#22c0f5"/>
<circle cx="462.52" cy="156.63" r="1.3" fill="#22c0f5"/>
<circle cx="445.55" cy="152.68" r="1.3" fill="#22c0f5"/>
<circle cx="449.07" cy="155.18" r="1.3" fill="#22c0f5"/>
<circle cx="454.32" cy="154.49" r="1.3" fill="#22c0f5"/>
<circle cx="459.24" cy="154.25" r="1.3" fill="#22c0f5"/>
<circle cx="450.08" cy="150.81" r="1.3" fill="#22c0f5"/>
<circle cx="450.76" cy="162.47" r="1.3" fill="#22c0f5"/>
<circle cx="450.31" cy="149.54" r="1.3" fill="#22c0f5"/>
<circle cx="451.78" cy="155.12" r="1.3" fill="#22c0f5"/>
<circle cx="461.31" cy="157.62" r="1.3" fill="#22c0f5"/>
<circle cx="460.37" cy="161.61" r="1.3" fill="#22c0f5"/>
<circle cx="460.62" cy="153.64" r="1.3" fill="#22c0f5"/>
<circle cx="454.51" cy="156.79" r="1.3" fill="#22c0f5"/>
<circle cx="456.64" cy="162.47" r="1.3" fill="#22c0f5"/>
<circle cx="460.07" cy="162.47" r="1.3" fill="#22c0f5"/>
<circle cx="450.55" cy="149.96" r="1.3" fill="#22c0f5"/>
<circle cx="462.72" cy="157.56" r="1.3" fill="#22c0f5"/>
<circle cx="462.6" cy="160.84" r="1.3" fill="#22c0f5"/>
<circle cx="463.07" cy="162.08" r="1.3" fill="#22c0f5"/>
<circle cx="461.78" cy="162.47" r="1.3" fill="#22c0f5"/>
<circle cx="452.24" cy="157.69" r="1.3" fill="#22c0f5"/>
<circle cx="460.43" cy="150.56" r="1.3" fill="#22c0f5"/>
<circle cx="445.62" cy="152.68" r="1.3" fill="#22c0f5"/>
<circle cx="447.64" cy="154.83" r="1.3" fill="#22c0f5"/>
<circle cx="462.14" cy="157.33" r="1.3" fill="#22c0f5"/>
<circle cx="460.64" cy="153.62" r="1.3" fill="#22c0f5"/>
<circle cx="459.75" cy="153.2" r="1.3" fill="#22c0f5"/>
<circle cx="448.67" cy="149.7" r="1.3" fill="#22c0f5"/>
<circle cx="456.19" cy="157.59" r="1.3" fill="#22c0f5"/>
<circle cx="456.11" cy="157.67" r="1.3" fill="#22c0f5"/>
<circle cx="456.38" cy="147.23" r="1.3" fill="#22c0f5"/>
<circle cx="464.6" cy="157.49" r="1.3" fill="#22c0f5"/>
<circle cx="462" cy="150.71" r="1.3" fill="#22c0f5"/>
<circle cx="450.83" cy="149.19" r="1.3" fill="#22c0f5"/>
<circle cx="455.67" cy="156.8" r="1.3" fill="#22c0f5"/>
<circle cx="455.98" cy="156.52" r="1.3" fill="#22c0f5"/>
<circle cx="462.9" cy="156.3" r="1.3" fill="#22c0f5"/>
<circle cx="448.25" cy="161.22" r="1.3" fill="#22c0f5"/>
<circle cx="453.72" cy="157.9" r="1.3" fill="#22c0f5"/>
<circle cx="455.38" cy="143.94" r="1.3" fill="#22c0f5"/>
<circle cx="454.23" cy="158.75" r="1.3" fill="#22c0f5"/>
<circle cx="452.2" cy="150.95" r="1.3" fill="#22c0f5"/>
<circle cx="457.38" cy="162.47" r="1.3" fill="#22c0f5"/>
<circle cx="445.25" cy="153.04" r="1.3" fill="#22c0f5"/>
<circle cx="449.19" cy="156.79" r="1.3" fill="#22c0f5"/>
<circle cx="458.32" cy="157.33" r="1.3" fill="#22c0f5"/>
<circle cx="459.98" cy="159.85" r="1.3" fill="#22c0f5"/>
<circle cx="449.97" cy="150.98" r="1.3" fill="#22c0f5"/>
<circle cx="454.41" cy="151.11" r="1.3" fill="#22c0f5"/>
<circle cx="448.93" cy="159.42" r="1.3" fill="#22c0f5"/>
<circle cx="458.18" cy="151.67" r="1.3" fill="#22c0f5"/>
<circle cx="457.74" cy="159.73" r="1.3" fill="#22c0f5"/>
<circle cx="450.79" cy="160.51" r="1.3" fill="#22c0f5"/>
<circle cx="451.08" cy="156.09" r="1.3" fill="#22c0f5"/>
<circle cx="461.97" cy="162.47" r="1.3" fill="#22c0f5"/>
<circle cx="448.36" cy="151.75" r="1.3" fill="#22c0f5"/>
<circle cx="456.18" cy="136.91" r="1.3" fill="#22c0f5"/>
<circle cx="453.63" cy="155.67" r="1.3" fill="#22c0f5"/>
<circle cx="447.44" cy="153.13" r="1.3" fill="#22c0f5"/>
<circle cx="457.89" cy="146.89" r="1.3" fill="#22c0f5"/>
<circle cx="464.27" cy="150.9" r="1.3" fill="#22c0f5"/>
<circle cx="455.65" cy="150.81" r="1.3" fill="#22c0f5"/>
<circle cx="449.64" cy="151.35" r="1.3" fill="#22c0f5"/>
<circle cx="455.66" cy="141.11" r="1.3" fill="#22c0f5"/>
<circle cx="447.2" cy="154.45" r="1.3" fill="#22c0f5"/>
<circle cx="467" cy="154.09" r="1.3" fill="#22c0f5"/>
<circle cx="447.3" cy="152.24" r="1.3" fill="#22c0f5"/>
<circle cx="457.57" cy="143.45" r="1.3" fill="#22c0f5"/>
<circle cx="455" cy="150.57" r="1.3" fill="#22c0f5"/>
<circle cx="447.29" cy="161.13" r="1.3" fill="#22c0f5"/>
<circle cx="464.06" cy="156.07" r="1.3" fill="#22c0f5"/>
<circle cx="453.54" cy="153.08" r="1.3" fill="#22c0f5"/>
<circle cx="449.74" cy="150.23" r="1.3" fill="#22c0f5"/>
<circle cx="462.84" cy="156.46" r="1.3" fill="#22c0f5"/>
<circle cx="464.72" cy="155.6" r="1.3" fill="#22c0f5"/>
<circle cx="455.69" cy="159.24" r="1.3" fill="#22c0f5"/>
<circle cx="461.56" cy="159.45" r="1.3" fill="#22c0f5"/>
<circle cx="462.41" cy="156.13" r="1.3" fill="#22c0f5"/>
<circle cx="454.84" cy="143.86" r="1.3" fill="#22c0f5"/>
<circle cx="455.6" cy="133.72" r="1.2" fill="#22c0f5"/>
<line x1="455.6" y1="174.1" x2="455.6" y2="175.9" stroke="#000" stroke-width="0.7"/>
<text x="455.6" y="180.8" font-size="4.9" text-anchor="middle" font-weight="bold" dominant-baseline="central" stroke="#000" stroke-width="0.1">458IR shIDH1</text>
<path d="M414.4 118.6V113.2H455.6V131.8" stroke="#000" stroke-width="0.85" fill="none"/>
<text x="435.1" y="108.3" font-size="5.15" text-anchor="middle" dominant-baseline="central" stroke="#000" stroke-width="0.1">P &lt; 0.0001</text>
<line x1="541" y1="110.5" x2="541" y2="174.6" stroke="#000" stroke-width="1"/>
<line x1="540.5" y1="174.1" x2="637.8" y2="174.1" stroke="#000" stroke-width="1"/>
<line x1="539.2" y1="174.1" x2="541" y2="174.1" stroke="#000" stroke-width="0.7"/>
<text x="538.3" y="174.1" font-size="5" text-anchor="end" font-weight="bold" dominant-baseline="central" stroke="#000" stroke-width="0.1">0</text>
<line x1="539.2" y1="158.28" x2="541" y2="158.28" stroke="#000" stroke-width="0.7"/>
<text x="538.3" y="158.28" font-size="5" text-anchor="end" font-weight="bold" dominant-baseline="central" stroke="#000" stroke-width="0.1">100</text>
<line x1="539.2" y1="142.45" x2="541" y2="142.45" stroke="#000" stroke-width="0.7"/>
<text x="538.3" y="142.45" font-size="5" text-anchor="end" font-weight="bold" dominant-baseline="central" stroke="#000" stroke-width="0.1">200</text>
<line x1="539.2" y1="126.62" x2="541" y2="126.62" stroke="#000" stroke-width="0.7"/>
<text x="538.3" y="126.62" font-size="5" text-anchor="end" font-weight="bold" dominant-baseline="central" stroke="#000" stroke-width="0.1">300</text>
<line x1="539.2" y1="110.8" x2="541" y2="110.8" stroke="#000" stroke-width="0.7"/>
<text x="538.3" y="110.8" font-size="5" text-anchor="end" font-weight="bold" dominant-baseline="central" stroke="#000" stroke-width="0.1">400</text>
<text x="523.9" y="142" font-size="7" text-anchor="middle" font-weight="bold" dominant-baseline="central" transform="rotate(-90 523.9 142)" stroke="#000" stroke-width="0.1">AVG Sphere size µm</text>
<line x1="569.4" y1="113.97" x2="569.4" y2="145.62" stroke="#6a50b0" stroke-width="0.7"/>
<line x1="569.4" y1="158.28" x2="569.4" y2="162.23" stroke="#6a50b0" stroke-width="0.7"/>
<line x1="562.38" y1="113.97" x2="576.42" y2="113.97" stroke="#6a50b0" stroke-width="0.7"/>
<line x1="562.38" y1="162.23" x2="576.42" y2="162.23" stroke="#6a50b0" stroke-width="0.7"/>
<rect x="555.9" y="145.62" width="27" height="12.66" fill="#ddd3f3" stroke="#6a50b0" stroke-width="0.6" fill-opacity="0.8"/>
<line x1="555.9" y1="151.94" x2="582.9" y2="151.94" stroke="#6a50b0" stroke-width="0.7"/>
<circle cx="568.82" cy="161.55" r="1.3" fill="#b09ce0"/>
<circle cx="571.39" cy="148.98" r="1.3" fill="#b09ce0"/>
<circle cx="575.85" cy="148.19" r="1.3" fill="#b09ce0"/>
<circle cx="565.93" cy="143.33" r="1.3" fill="#b09ce0"/>
<circle cx="562.7" cy="139.91" r="1.3" fill="#b09ce0"/>
<circle cx="577.99" cy="144.23" r="1.3" fill="#b09ce0"/>
<circle cx="559.76" cy="158.11" r="1.3" fill="#b09ce0"/>
<circle cx="561.74" cy="160.88" r="1.3" fill="#b09ce0"/>
<circle cx="569.01" cy="130.93" r="1.3" fill="#b09ce0"/>
<circle cx="569.79" cy="146.51" r="1.3" fill="#b09ce0"/>
<circle cx="568.54" cy="157.82" r="1.3" fill="#b09ce0"/>
<circle cx="578.86" cy="159.07" r="1.3" fill="#b09ce0"/>
<circle cx="567.19" cy="136.92" r="1.3" fill="#b09ce0"/>
<circle cx="564.12" cy="152.35" r="1.3" fill="#b09ce0"/>
<circle cx="574.45" cy="139.84" r="1.3" fill="#b09ce0"/>
<circle cx="578.68" cy="146.23" r="1.3" fill="#b09ce0"/>
<circle cx="579.76" cy="151.8" r="1.3" fill="#b09ce0"/>
<circle cx="581.5" cy="152.16" r="1.3" fill="#b09ce0"/>
<circle cx="575.86" cy="154.39" r="1.3" fill="#b09ce0"/>
<circle cx="559.6" cy="150.11" r="1.3" fill="#b09ce0"/>
<circle cx="563.11" cy="161.91" r="1.3" fill="#b09ce0"/>
<circle cx="565.54" cy="134.36" r="1.3" fill="#b09ce0"/>
<circle cx="570.21" cy="138.91" r="1.3" fill="#b09ce0"/>
<circle cx="562.97" cy="146.79" r="1.3" fill="#b09ce0"/>
<circle cx="559.83" cy="152.42" r="1.3" fill="#b09ce0"/>
<circle cx="563.17" cy="156.08" r="1.3" fill="#b09ce0"/>
<circle cx="564.88" cy="154.54" r="1.3" fill="#b09ce0"/>
<circle cx="567.42" cy="131.23" r="1.3" fill="#b09ce0"/>
<circle cx="562.82" cy="161.91" r="1.3" fill="#b09ce0"/>
<circle cx="564.56" cy="142.45" r="1.3" fill="#b09ce0"/>
<circle cx="564.36" cy="152.65" r="1.3" fill="#b09ce0"/>
<circle cx="563.94" cy="138.45" r="1.3" fill="#b09ce0"/>
<circle cx="566.73" cy="157.03" r="1.3" fill="#b09ce0"/>
<circle cx="579.86" cy="154.85" r="1.3" fill="#b09ce0"/>
<circle cx="564.18" cy="161.91" r="1.3" fill="#b09ce0"/>
<circle cx="579.38" cy="150.9" r="1.3" fill="#b09ce0"/>
<circle cx="574.95" cy="149.49" r="1.3" fill="#b09ce0"/>
<circle cx="563.17" cy="157.36" r="1.3" fill="#b09ce0"/>
<circle cx="568.49" cy="136.5" r="1.3" fill="#b09ce0"/>
<circle cx="559.76" cy="156.95" r="1.3" fill="#b09ce0"/>
<circle cx="564.46" cy="146.31" r="1.3" fill="#b09ce0"/>
<circle cx="571.73" cy="153.29" r="1.3" fill="#b09ce0"/>
<circle cx="558.96" cy="153.26" r="1.3" fill="#b09ce0"/>
<circle cx="570.66" cy="147.25" r="1.3" fill="#b09ce0"/>
<circle cx="577.57" cy="145.45" r="1.3" fill="#b09ce0"/>
<circle cx="560.88" cy="160.61" r="1.3" fill="#b09ce0"/>
<circle cx="567.47" cy="140.04" r="1.3" fill="#b09ce0"/>
<circle cx="562.84" cy="143.48" r="1.3" fill="#b09ce0"/>
<circle cx="571.98" cy="161.91" r="1.3" fill="#b09ce0"/>
<circle cx="570.59" cy="139.36" r="1.3" fill="#b09ce0"/>
<circle cx="569.91" cy="116.81" r="1.3" fill="#b09ce0"/>
<circle cx="557.94" cy="150.33" r="1.3" fill="#b09ce0"/>
<circle cx="565.76" cy="157.85" r="1.3" fill="#b09ce0"/>
<circle cx="561.2" cy="158.74" r="1.3" fill="#b09ce0"/>
<circle cx="573.3" cy="161.91" r="1.3" fill="#b09ce0"/>
<circle cx="575.88" cy="155.61" r="1.3" fill="#b09ce0"/>
<circle cx="577.32" cy="145.65" r="1.3" fill="#b09ce0"/>
<circle cx="567.57" cy="155.67" r="1.3" fill="#b09ce0"/>
<circle cx="572.13" cy="148" r="1.3" fill="#b09ce0"/>
<circle cx="570.76" cy="161.91" r="1.3" fill="#b09ce0"/>
<circle cx="580.82" cy="154.43" r="1.3" fill="#b09ce0"/>
<circle cx="574.78" cy="153.97" r="1.3" fill="#b09ce0"/>
<circle cx="568.41" cy="161.72" r="1.3" fill="#b09ce0"/>
<circle cx="561.91" cy="143.69" r="1.3" fill="#b09ce0"/>
<circle cx="568.92" cy="151.94" r="1.3" fill="#b09ce0"/>
<circle cx="574.09" cy="153.88" r="1.3" fill="#b09ce0"/>
<circle cx="565.38" cy="161.91" r="1.3" fill="#b09ce0"/>
<circle cx="571.4" cy="136.09" r="1.3" fill="#b09ce0"/>
<circle cx="573.26" cy="150.54" r="1.3" fill="#b09ce0"/>
<circle cx="577.74" cy="147.37" r="1.3" fill="#b09ce0"/>
<circle cx="567.98" cy="157.35" r="1.3" fill="#b09ce0"/>
<circle cx="576.1" cy="141.65" r="1.3" fill="#b09ce0"/>
<circle cx="565.67" cy="146.3" r="1.3" fill="#b09ce0"/>
<circle cx="569.33" cy="157.23" r="1.3" fill="#b09ce0"/>
<circle cx="577.63" cy="144.01" r="1.3" fill="#b09ce0"/>
<circle cx="563.95" cy="161.91" r="1.3" fill="#b09ce0"/>
<circle cx="567.68" cy="157.94" r="1.3" fill="#b09ce0"/>
<circle cx="569.26" cy="150.02" r="1.3" fill="#b09ce0"/>
<circle cx="568.45" cy="157.94" r="1.3" fill="#b09ce0"/>
<circle cx="563.27" cy="138.19" r="1.3" fill="#b09ce0"/>
<circle cx="569.4" cy="113.97" r="1.2" fill="#b09ce0"/>
<line x1="569.4" y1="174.1" x2="569.4" y2="175.9" stroke="#000" stroke-width="0.7"/>
<text x="569.4" y="180.9" font-size="4.9" text-anchor="middle" font-weight="bold" dominant-baseline="central" stroke="#000" stroke-width="0.1">425 IR shNull</text>
<line x1="610.6" y1="138.49" x2="610.6" y2="147.99" stroke="#3f70e8" stroke-width="0.7"/>
<line x1="610.6" y1="159.07" x2="610.6" y2="163.02" stroke="#3f70e8" stroke-width="0.7"/>
<line x1="603.58" y1="138.49" x2="617.62" y2="138.49" stroke="#3f70e8" stroke-width="0.7"/>
<line x1="603.58" y1="163.02" x2="617.62" y2="163.02" stroke="#3f70e8" stroke-width="0.7"/>
<rect x="597.1" y="147.99" width="27" height="11.08" fill="#a8e4fa" stroke="#3f70e8" stroke-width="0.6" fill-opacity="0.8"/>
<line x1="597.1" y1="153.53" x2="624.1" y2="153.53" stroke="#3f70e8" stroke-width="0.7"/>
<rect x="611.12" y="151.03" width="2.2" height="2.2" fill="#22c0f5"/>
<rect x="616.16" y="153.86" width="2.2" height="2.2" fill="#22c0f5"/>
<rect x="600.52" y="148.74" width="2.2" height="2.2" fill="#22c0f5"/>
<rect x="603.04" y="151.98" width="2.2" height="2.2" fill="#22c0f5"/>
<rect x="608.27" y="151.08" width="2.2" height="2.2" fill="#22c0f5"/>
<rect x="612.99" y="150.78" width="2.2" height="2.2" fill="#22c0f5"/>
<rect x="605.1" y="146.32" width="2.2" height="2.2" fill="#22c0f5"/>
<rect x="606.53" y="161.61" width="2.2" height="2.2" fill="#22c0f5"/>
<rect x="605.73" y="144.68" width="2.2" height="2.2" fill="#22c0f5"/>
<rect x="605.73" y="151.9" width="2.2" height="2.2" fill="#22c0f5"/>
<rect x="614.78" y="155.13" width="2.2" height="2.2" fill="#22c0f5"/>
<rect x="612.87" y="160.3" width="2.2" height="2.2" fill="#22c0f5"/>
<rect x="614.19" y="149.99" width="2.2" height="2.2" fill="#22c0f5"/>
<rect x="608.45" y="154.06" width="2.2" height="2.2" fill="#22c0f5"/>
<rect x="610.14" y="161.61" width="2.2" height="2.2" fill="#22c0f5"/>
<rect x="612.24" y="161.61" width="2.2" height="2.2" fill="#22c0f5"/>
<rect x="605.75" y="145.23" width="2.2" height="2.2" fill="#22c0f5"/>
<rect x="616.11" y="155.06" width="2.2" height="2.2" fill="#22c0f5"/>
<rect x="614.81" y="159.3" width="2.2" height="2.2" fill="#22c0f5"/>
<rect x="614.49" y="160.91" width="2.2" height="2.2" fill="#22c0f5"/>
<rect x="613.29" y="161.61" width="2.2" height="2.2" fill="#22c0f5"/>
<rect x="606.4" y="155.22" width="2.2" height="2.2" fill="#22c0f5"/>
<rect x="613.28" y="146" width="2.2" height="2.2" fill="#22c0f5"/>
<rect x="600.58" y="148.75" width="2.2" height="2.2" fill="#22c0f5"/>
<rect x="601.72" y="151.52" width="2.2" height="2.2" fill="#22c0f5"/>
<rect x="615.63" y="154.76" width="2.2" height="2.2" fill="#22c0f5"/>
<rect x="614.2" y="149.95" width="2.2" height="2.2" fill="#22c0f5"/>
<rect x="613.3" y="149.42" width="2.2" height="2.2" fill="#22c0f5"/>
<rect x="604.48" y="144.89" width="2.2" height="2.2" fill="#22c0f5"/>
<rect x="610.05" y="155.1" width="2.2" height="2.2" fill="#22c0f5"/>
<rect x="609.97" y="155.2" width="2.2" height="2.2" fill="#22c0f5"/>
<rect x="609.89" y="141.68" width="2.2" height="2.2" fill="#22c0f5"/>
<rect x="617.87" y="154.97" width="2.2" height="2.2" fill="#22c0f5"/>
<rect x="614.56" y="146.2" width="2.2" height="2.2" fill="#22c0f5"/>
<rect x="606.23" y="144.22" width="2.2" height="2.2" fill="#22c0f5"/>
<rect x="609.57" y="154.08" width="2.2" height="2.2" fill="#22c0f5"/>
<rect x="609.87" y="153.71" width="2.2" height="2.2" fill="#22c0f5"/>
<rect x="616.61" y="153.43" width="2.2" height="2.2" fill="#22c0f5"/>
<rect x="604.11" y="159.8" width="2.2" height="2.2" fill="#22c0f5"/>
<rect x="607.78" y="155.5" width="2.2" height="2.2" fill="#22c0f5"/>
<rect x="609.43" y="138.19" width="2.2" height="2.2" fill="#22c0f5"/>
<rect x="608.3" y="156.6" width="2.2" height="2.2" fill="#22c0f5"/>
<rect x="606.76" y="146.51" width="2.2" height="2.2" fill="#22c0f5"/>
<rect x="610.59" y="161.61" width="2.2" height="2.2" fill="#22c0f5"/>
<rect x="600.1" y="149.2" width="2.2" height="2.2" fill="#22c0f5"/>
<rect x="603.36" y="154.06" width="2.2" height="2.2" fill="#22c0f5"/>
<rect x="612.05" y="154.76" width="2.2" height="2.2" fill="#22c0f5"/>
<rect x="613.09" y="158.02" width="2.2" height="2.2" fill="#22c0f5"/>
<rect x="604.96" y="146.54" width="2.2" height="2.2" fill="#22c0f5"/>
<rect x="608.53" y="146.7" width="2.2" height="2.2" fill="#22c0f5"/>
<rect x="603.88" y="157.47" width="2.2" height="2.2" fill="#22c0f5"/>
<rect x="611.68" y="147.43" width="2.2" height="2.2" fill="#22c0f5"/>
<rect x="611.27" y="157.87" width="2.2" height="2.2" fill="#22c0f5"/>
<rect x="605.75" y="158.87" width="2.2" height="2.2" fill="#22c0f5"/>
<rect x="605.06" y="153.15" width="2.2" height="2.2" fill="#22c0f5"/>
<rect x="613.4" y="161.61" width="2.2" height="2.2" fill="#22c0f5"/>
<rect x="603.36" y="147.54" width="2.2" height="2.2" fill="#22c0f5"/>
<rect x="610.08" y="138.19" width="2.2" height="2.2" fill="#22c0f5"/>
<rect x="607.54" y="152.61" width="2.2" height="2.2" fill="#22c0f5"/>
<rect x="602.05" y="149.33" width="2.2" height="2.2" fill="#22c0f5"/>
<rect x="611.74" y="144.98" width="2.2" height="2.2" fill="#22c0f5"/>
<rect x="616.45" y="146.44" width="2.2" height="2.2" fill="#22c0f5"/>
<rect x="609.54" y="146.33" width="2.2" height="2.2" fill="#22c0f5"/>
<rect x="604.57" y="147.02" width="2.2" height="2.2" fill="#22c0f5"/>
<rect x="609.6" y="141.65" width="2.2" height="2.2" fill="#22c0f5"/>
<rect x="601.4" y="151.03" width="2.2" height="2.2" fill="#22c0f5"/>
<rect x="620.34" y="150.57" width="2.2" height="2.2" fill="#22c0f5"/>
<rect x="602.25" y="148.18" width="2.2" height="2.2" fill="#22c0f5"/>
<rect x="610.17" y="138.19" width="2.2" height="2.2" fill="#22c0f5"/>
<rect x="609.03" y="146.02" width="2.2" height="2.2" fill="#22c0f5"/>
<rect x="603.35" y="159.68" width="2.2" height="2.2" fill="#22c0f5"/>
<rect x="617.81" y="153.13" width="2.2" height="2.2" fill="#22c0f5"/>
<rect x="607.62" y="149.27" width="2.2" height="2.2" fill="#22c0f5"/>
<rect x="605.04" y="145.57" width="2.2" height="2.2" fill="#22c0f5"/>
<rect x="616.52" y="153.63" width="2.2" height="2.2" fill="#22c0f5"/>
<rect x="618.59" y="152.52" width="2.2" height="2.2" fill="#22c0f5"/>
<rect x="609.57" y="157.23" width="2.2" height="2.2" fill="#22c0f5"/>
<rect x="614.51" y="157.51" width="2.2" height="2.2" fill="#22c0f5"/>
<rect x="616.17" y="153.21" width="2.2" height="2.2" fill="#22c0f5"/>
<rect x="609.26" y="138.19" width="2.2" height="2.2" fill="#22c0f5"/>
<circle cx="610.6" cy="138.49" r="1.2" fill="#22c0f5"/>
<line x1="610.6" y1="174.1" x2="610.6" y2="175.9" stroke="#000" stroke-width="0.7"/>
<text x="610.6" y="180.9" font-size="4.9" text-anchor="middle" font-weight="bold" dominant-baseline="central" stroke="#000" stroke-width="0.1">425 IR shIDH1</text>
<path d="M569.4 111.3V106H610.6V135.7" stroke="#000" stroke-width="0.85" fill="none"/>
<text x="590.4" y="100.3" font-size="5.15" text-anchor="middle" dominant-baseline="central" stroke="#000" stroke-width="0.1">P = 0.0347</text>
</g>
<g id="panelD">
<text x="-1.1" y="203.1" font-size="16.8">D</text>
<path d="M29.1 206.28 L30.24 206.3 L31.38 206.32 L32.52 206.34 L33.66 206.37 L34.8 206.41 L35.94 206.45 L37.08 206.5 L38.22 206.56 L39.36 206.63 L40.5 206.71 L41.64 206.81 L42.78 206.94 L43.92 207.08 L45.06 207.25 L46.2 207.46 L47.34 207.71 L48.48 208 L49.62 208.35 L50.76 208.76 L51.9 209.25 L53.04 209.83 L54.18 210.51 L55.32 211.32 L56.46 212.26 L57.6 213.36 L58.74 214.64 L59.88 216.12 L61.02 217.81 L62.16 219.74 L63.3 221.92 L64.44 224.36 L65.58 227.07 L66.72 230.02 L67.86 233.21 L69 236.61 L70.14 240.17 L71.28 243.86 L72.42 247.6 L73.56 251.34 L74.7 255.03 L75.84 258.59 L76.98 261.99 L78.12 265.18 L79.26 268.13 L80.4 270.84 L81.54 273.28 L82.68 275.46 L83.82 277.39 L84.96 279.08 L86.1 280.56 L87.24 281.84 L88.38 282.94 L89.52 283.88 L90.66 284.69 L91.8 285.37 L92.94 285.95 L94.08 286.44 L95.22 286.85 L96.36 287.2 L97.5 287.49 L98.64 287.74 L99.78 287.95 L100.92 288.12 L102.06 288.26 L103.2 288.39 L104.34 288.49 L105.48 288.57 L106.62 288.64 L107.76 288.7 L108.9 288.75 L110.04 288.79 L111.18 288.83 L112.32 288.86 L113.46 288.88 L114.6 288.9 L115.74 288.92 L116.88 288.93 L118.02 288.94 L119.16 288.95 L120.3 288.96" stroke="#a58be0" stroke-width="0.8" fill="none"/>
<path d="M29.1 206.26 L30.24 206.27 L31.38 206.28 L32.52 206.3 L33.66 206.32 L34.8 206.34 L35.94 206.37 L37.08 206.41 L38.22 206.45 L39.36 206.5 L40.5 206.56 L41.64 206.63 L42.78 206.71 L43.92 206.81 L45.06 206.94 L46.2 207.08 L47.34 207.25 L48.48 207.46 L49.62 207.71 L50.76 208 L51.9 208.35 L53.04 208.76 L54.18 209.25 L55.32 209.83 L56.46 210.51 L57.6 211.32 L58.74 212.26 L59.88 213.36 L61.02 214.64 L62.16 216.12 L63.3 217.81 L64.44 219.74 L65.58 221.92 L66.72 224.36 L67.86 227.07 L69 230.02 L70.14 233.21 L71.28 236.61 L72.42 240.17 L73.56 243.86 L74.7 247.6 L75.84 251.34 L76.98 255.03 L78.12 258.59 L79.26 261.99 L80.4 265.18 L81.54 268.13 L82.68 270.84 L83.82 273.28 L84.96 275.46 L86.1 277.39 L87.24 279.08 L88.38 280.56 L89.52 281.84 L90.66 282.94 L91.8 283.88 L92.94 284.69 L94.08 285.37 L95.22 285.95 L96.36 286.44 L97.5 286.85 L98.64 287.2 L99.78 287.49 L100.92 287.74 L102.06 287.95 L103.2 288.12 L104.34 288.26 L105.48 288.39 L106.62 288.49 L107.76 288.57 L108.9 288.64 L110.04 288.7 L111.18 288.75 L112.32 288.79 L113.46 288.83 L114.6 288.86 L115.74 288.88 L116.88 288.9 L118.02 288.92 L119.16 288.93 L120.3 288.94" stroke="#29c4f5" stroke-width="0.8" fill="none"/>
<path d="M29.1 206.27 L30.24 206.28 L31.38 206.3 L32.52 206.32 L33.66 206.34 L34.8 206.37 L35.94 206.41 L37.08 206.45 L38.22 206.5 L39.36 206.55 L40.5 206.62 L41.64 206.71 L42.78 206.81 L43.92 206.93 L45.06 207.07 L46.2 207.24 L47.34 207.44 L48.48 207.69 L49.62 207.98 L50.76 208.32 L51.9 208.73 L53.04 209.21 L54.18 209.79 L55.32 210.46 L56.46 211.26 L57.6 212.19 L58.74 213.28 L59.88 214.55 L61.02 216.01 L62.16 217.69 L63.3 219.61 L64.44 221.77 L65.58 224.19 L66.72 226.88 L67.86 229.82 L69 232.99 L70.14 236.38 L71.28 239.93 L72.42 243.61 L73.56 247.35 L74.7 251.09 L75.84 254.78 L76.98 258.36 L78.12 261.77 L79.26 264.97 L80.4 267.95 L81.54 270.66 L82.68 273.12 L83.82 275.32 L84.96 277.27 L86.1 278.98 L87.24 280.47 L88.38 281.76 L89.52 282.87 L90.66 283.82 L91.8 284.64 L92.94 285.33 L94.08 285.91 L95.22 286.41 L96.36 286.83 L97.5 287.18 L98.64 287.48 L99.78 287.73 L100.92 287.93 L102.06 288.11 L103.2 288.26 L104.34 288.38 L105.48 288.48 L106.62 288.57 L107.76 288.64 L108.9 288.7 L110.04 288.75 L111.18 288.79 L112.32 288.82 L113.46 288.85 L114.6 288.88 L115.74 288.9 L116.88 288.91 L118.02 288.93 L119.16 288.94 L120.3 288.95" stroke="#f6a3a3" stroke-width="0.8" fill="none"/>
<path d="M29.1 206.24 L30.24 206.25 L31.38 206.26 L32.52 206.27 L33.66 206.28 L34.8 206.3 L35.94 206.32 L37.08 206.34 L38.22 206.37 L39.36 206.41 L40.5 206.45 L41.64 206.5 L42.78 206.56 L43.92 206.63 L45.06 206.71 L46.2 206.81 L47.34 206.94 L48.48 207.08 L49.62 207.25 L50.76 207.46 L51.9 207.71 L53.04 208 L54.18 208.35 L55.32 208.76 L56.46 209.25 L57.6 209.83 L58.74 210.51 L59.88 211.32 L61.02 212.26 L62.16 213.36 L63.3 214.64 L64.44 216.12 L65.58 217.81 L66.72 219.74 L67.86 221.92 L69 224.36 L70.14 227.07 L71.28 230.02 L72.42 233.21 L73.56 236.61 L74.7 240.17 L75.84 243.86 L76.98 247.6 L78.12 251.34 L79.26 255.03 L80.4 258.59 L81.54 261.99 L82.68 265.18 L83.82 268.13 L84.96 270.84 L86.1 273.28 L87.24 275.46 L88.38 277.39 L89.52 279.08 L90.66 280.56 L91.8 281.84 L92.94 282.94 L94.08 283.88 L95.22 284.69 L96.36 285.37 L97.5 285.95 L98.64 286.44 L99.78 286.85 L100.92 287.2 L102.06 287.49 L103.2 287.74 L104.34 287.95 L105.48 288.12 L106.62 288.26 L107.76 288.39 L108.9 288.49 L110.04 288.57 L111.18 288.64 L112.32 288.7 L113.46 288.75 L114.6 288.79 L115.74 288.83 L116.88 288.86 L118.02 288.88 L119.16 288.9 L120.3 288.92" stroke="#12b5ea" stroke-width="0.8" fill="none"/>
<path d="M54.94 203.72V220.28 M53.94 203.72H55.94 M53.94 220.28H55.94" stroke="#a58be0" stroke-width="0.7" fill="none"/>
<circle cx="54.94" cy="212" r="0.7" fill="#a58be0"/>
<path d="M54.94 203.72V216.96 M53.94 203.72H55.94 M53.94 216.96H55.94" stroke="#29c4f5" stroke-width="0.7" fill="none"/>
<circle cx="54.94" cy="210.34" r="0.7" fill="#29c4f5"/>
<path d="M54.94 207.86V217.79 M53.94 207.86H55.94 M53.94 217.79H55.94" stroke="#3b3b8f" stroke-width="0.7" fill="none"/>
<circle cx="54.94" cy="212.82" r="0.7" fill="#3b3b8f"/>
<path d="M54.94 207.86V214.48 M53.94 207.86H55.94 M53.94 214.48H55.94" stroke="#f6a3a3" stroke-width="0.7" fill="none"/>
<circle cx="54.94" cy="211.17" r="0.7" fill="#f6a3a3"/>
<path d="M59.5 207.03V213.65 M58.5 207.03H60.5 M58.5 213.65H60.5" stroke="#12b5ea" stroke-width="0.7" fill="none"/>
<circle cx="59.5" cy="210.34" r="0.8" fill="#fff" stroke="#12b5ea" stroke-width="0.45"/>
<path d="M59.5 207.03V212 M58.5 207.03H60.5 M58.5 212H60.5" stroke="#f6a3a3" stroke-width="0.7" fill="none"/>
<circle cx="59.5" cy="209.51" r="0.7" fill="#f6a3a3"/>
<path d="M64.06 214.48V227.73 M63.06 214.48H65.06 M63.06 227.73H65.06" stroke="#3b3b8f" stroke-width="0.7" fill="none"/>
<circle cx="64.06" cy="221.1" r="0.7" fill="#3b3b8f"/>
<path d="M64.06 199.58V239.32 M63.06 199.58H65.06 M63.06 239.32H65.06" stroke="#29c4f5" stroke-width="0.7" fill="none"/>
<circle cx="64.06" cy="219.45" r="0.7" fill="#29c4f5"/>
<path d="M64.06 217.79V227.73 M63.06 217.79H65.06 M63.06 227.73H65.06" stroke="#a58be0" stroke-width="0.7" fill="none"/>
<circle cx="64.06" cy="222.76" r="0.7" fill="#a58be0"/>
<path d="M70.14 207.86V226.07 M69.14 207.86H71.14 M69.14 226.07H71.14" stroke="#12b5ea" stroke-width="0.7" fill="none"/>
<circle cx="70.14" cy="216.96" r="0.8" fill="#fff" stroke="#12b5ea" stroke-width="0.45"/>
<path d="M70.14 231.04V244.29 M69.14 231.04H71.14 M69.14 244.29H71.14" stroke="#3b3b8f" stroke-width="0.7" fill="none"/>
<circle cx="70.14" cy="237.66" r="0.7" fill="#3b3b8f"/>
<path d="M70.14 245.12V273.27 M69.14 245.12H71.14 M69.14 273.27H71.14" stroke="#4a3a8a" stroke-width="0.7" fill="none"/>
<circle cx="70.14" cy="259.19" r="0.7" fill="#4a3a8a"/>
<path d="M70.14 231.04V247.6 M69.14 231.04H71.14 M69.14 247.6H71.14" stroke="#a58be0" stroke-width="0.7" fill="none"/>
<circle cx="70.14" cy="239.32" r="0.7" fill="#a58be0"/>
<path d="M74.7 223.59V246.77 M73.7 223.59H75.7 M73.7 246.77H75.7" stroke="#12b5ea" stroke-width="0.7" fill="none"/>
<circle cx="74.7" cy="235.18" r="0.8" fill="#fff" stroke="#12b5ea" stroke-width="0.45"/>
<path d="M74.7 243.46V263.33 M73.7 243.46H75.7 M73.7 263.33H75.7" stroke="#3b3b8f" stroke-width="0.7" fill="none"/>
<circle cx="74.7" cy="253.4" r="0.7" fill="#3b3b8f"/>
<path d="M74.7 243.46V260.02 M73.7 243.46H75.7 M73.7 260.02H75.7" stroke="#29c4f5" stroke-width="0.7" fill="none"/>
<circle cx="74.7" cy="251.74" r="0.7" fill="#29c4f5"/>
<path d="M74.7 245.94V265.82 M73.7 245.94H75.7 M73.7 265.82H75.7" stroke="#a58be0" stroke-width="0.7" fill="none"/>
<circle cx="74.7" cy="255.88" r="0.7" fill="#a58be0"/>
<path d="M79.26 255.88V269.13 M78.26 255.88H80.26 M78.26 269.13H80.26" stroke="#3b3b8f" stroke-width="0.7" fill="none"/>
<circle cx="79.26" cy="262.5" r="0.7" fill="#3b3b8f"/>
<path d="M79.26 243.46V276.58 M78.26 243.46H80.26 M78.26 276.58H80.26" stroke="#29c4f5" stroke-width="0.7" fill="none"/>
<circle cx="79.26" cy="260.02" r="0.7" fill="#29c4f5"/>
<path d="M79.26 260.02V276.58 M78.26 260.02H80.26 M78.26 276.58H80.26" stroke="#a58be0" stroke-width="0.7" fill="none"/>
<circle cx="79.26" cy="268.3" r="0.7" fill="#a58be0"/>
<path d="M82 289V289 M81 289H83 M81 289H83" stroke="#29c4f5" stroke-width="0.7" fill="none"/>
<rect x="81.3" y="288.3" width="1.4" height="1.4" fill="#29c4f5"/>
<path d="M120.3 289V289 M119.3 289H121.3 M119.3 289H121.3" stroke="#29c4f5" stroke-width="0.7" fill="none"/>
<rect x="119.6" y="288.3" width="1.4" height="1.4" fill="#29c4f5"/>
<path d="M82 284.86V284.86 M81 284.86H83 M81 284.86H83" stroke="#f6a3a3" stroke-width="0.7" fill="none"/>
<circle cx="82" cy="284.86" r="0.7" fill="#f6a3a3"/>
<path d="M120.3 284.86V284.86 M119.3 284.86H121.3 M119.3 284.86H121.3" stroke="#f6a3a3" stroke-width="0.7" fill="none"/>
<circle cx="120.3" cy="284.86" r="0.7" fill="#f6a3a3"/>
<line x1="29.2" y1="198" x2="29.2" y2="289.4" stroke="#000" stroke-width="0.9"/>
<line x1="28.8" y1="289" x2="120.8" y2="289" stroke="#000" stroke-width="0.9"/>
<line x1="27.4" y1="289" x2="29.2" y2="289" stroke="#000" stroke-width="0.7"/>
<text x="26.6" y="289" font-size="5.3" text-anchor="end" font-weight="bold" dominant-baseline="central" stroke="#000" stroke-width="0.1">0</text>
<line x1="27.4" y1="247.6" x2="29.2" y2="247.6" stroke="#000" stroke-width="0.7"/>
<text x="26.6" y="247.6" font-size="5.3" text-anchor="end" font-weight="bold" dominant-baseline="central" stroke="#000" stroke-width="0.1">50</text>
<line x1="27.4" y1="206.2" x2="29.2" y2="206.2" stroke="#000" stroke-width="0.7"/>
<text x="26.6" y="206.2" font-size="5.3" text-anchor="end" font-weight="bold" dominant-baseline="central" stroke="#000" stroke-width="0.1">100</text>
<line x1="29.1" y1="289" x2="29.1" y2="290.8" stroke="#000" stroke-width="0.7"/>
<text x="29.1" y="295.1" font-size="5.3" text-anchor="middle" font-weight="bold" dominant-baseline="central" stroke="#000" stroke-width="0.1">-2</text>
<line x1="59.5" y1="289" x2="59.5" y2="290.8" stroke="#000" stroke-width="0.7"/>
<text x="59.5" y="295.1" font-size="5.3" text-anchor="middle" font-weight="bold" dominant-baseline="central" stroke="#000" stroke-width="0.1">0</text>
<line x1="89.9" y1="289" x2="89.9" y2="290.8" stroke="#000" stroke-width="0.7"/>
<text x="89.9" y="295.1" font-size="5.3" text-anchor="middle" font-weight="bold" dominant-baseline="central" stroke="#000" stroke-width="0.1">2</text>
<line x1="120.3" y1="289" x2="120.3" y2="290.8" stroke="#000" stroke-width="0.7"/>
<text x="120.3" y="295.1" font-size="5.3" text-anchor="middle" font-weight="bold" dominant-baseline="central" stroke="#000" stroke-width="0.1">4</text>
<text x="65.8" y="302.6" font-size="5.45" text-anchor="middle" font-weight="bold" dominant-baseline="central" stroke="#000" stroke-width="0.1">Log10 IDH305 µM</text>
<text x="13.9" y="243.6" font-size="5.3" text-anchor="middle" font-weight="bold" dominant-baseline="central" transform="rotate(-90 13.9 243.6)" stroke="#000" stroke-width="0.1">% Cell Viability</text>
<line x1="32" y1="268.2" x2="36.6" y2="268.2" stroke="#a58be0" stroke-width="0.6"/>
<path d="M34.3 267.2l1 1.6h-2z" stroke="#a58be0" stroke-width="0.1" fill="#a58be0"/>
<text x="40.4" y="268.2" font-size="5.6" font-weight="bold" dominant-baseline="central" stroke="#000" stroke-width="0.1">D458</text>
<line x1="32" y1="274.1" x2="36.6" y2="274.1" stroke="#29c4f5" stroke-width="0.6"/>
<path d="M34.3 273.1l1 1.6h-2z" stroke="#29c4f5" stroke-width="0.1" fill="#29c4f5"/>
<text x="40.4" y="274.1" font-size="5.6" font-weight="bold" dominant-baseline="central" stroke="#000" stroke-width="0.1">D458IR</text>
<line x1="32" y1="279.9" x2="36.6" y2="279.9" stroke="#f6a3a3" stroke-width="0.6"/>
<circle cx="34.3" cy="279.9" r="0.8" fill="#f6a3a3"/>
<text x="40.4" y="279.9" font-size="5.6" font-weight="bold" dominant-baseline="central" stroke="#000" stroke-width="0.1">D425</text>
<line x1="32" y1="285.6" x2="36.6" y2="285.6" stroke="#12b5ea" stroke-width="0.6"/>
<rect x="33.5" y="284.8" width="1.6" height="1.6" fill="#12b5ea"/>
<text x="40.4" y="285.6" font-size="5.6" font-weight="bold" dominant-baseline="central" stroke="#000" stroke-width="0.1">D425IR</text>
<path d="M29.3 313.55 L30.43 313.56 L31.56 313.57 L32.7 313.58 L33.83 313.6 L34.96 313.62 L36.09 313.65 L37.23 313.68 L38.36 313.71 L39.49 313.76 L40.62 313.81 L41.76 313.87 L42.89 313.95 L44.02 314.05 L45.15 314.16 L46.29 314.3 L47.42 314.46 L48.55 314.66 L49.68 314.9 L50.82 315.19 L51.95 315.53 L53.08 315.94 L54.21 316.43 L55.35 317.02 L56.48 317.72 L57.61 318.55 L58.74 319.53 L59.88 320.68 L61.01 322.02 L62.14 323.59 L63.27 325.39 L64.41 327.45 L65.54 329.79 L66.67 332.41 L67.8 335.32 L68.94 338.49 L70.07 341.9 L71.2 345.52 L72.33 349.29 L73.47 353.15 L74.6 357.04 L75.73 360.88 L76.86 364.61 L78 368.16 L79.13 371.5 L80.26 374.58 L81.39 377.39 L82.53 379.92 L83.66 382.16 L84.79 384.14 L85.92 385.86 L87.06 387.35 L88.19 388.63 L89.32 389.72 L90.45 390.64 L91.59 391.43 L92.72 392.09 L93.85 392.64 L94.98 393.1 L96.12 393.49 L97.25 393.82 L98.38 394.09 L99.52 394.31 L100.65 394.5 L101.78 394.65 L102.91 394.78 L104.04 394.89 L105.18 394.97 L106.31 395.05 L107.44 395.11 L108.57 395.16 L109.71 395.2 L110.84 395.24 L111.97 395.26 L113.1 395.29 L114.24 395.31 L115.37 395.32 L116.5 395.34 L117.63 395.35 L118.77 395.36 L119.9 395.36" stroke="#a58be0" stroke-width="0.8" fill="none"/>
<path d="M29.3 313.53 L30.43 313.54 L31.56 313.55 L32.7 313.56 L33.83 313.57 L34.96 313.58 L36.09 313.6 L37.23 313.62 L38.36 313.65 L39.49 313.67 L40.62 313.71 L41.76 313.75 L42.89 313.8 L44.02 313.86 L45.15 313.93 L46.29 314.01 L47.42 314.12 L48.55 314.24 L49.68 314.38 L50.82 314.55 L51.95 314.76 L53.08 315.01 L54.21 315.3 L55.35 315.65 L56.48 316.06 L57.61 316.55 L58.74 317.13 L59.88 317.82 L61.01 318.62 L62.14 319.56 L63.27 320.66 L64.41 321.94 L65.54 323.41 L66.67 325.11 L67.8 327.03 L68.94 329.21 L70.07 331.64 L71.2 334.33 L72.33 337.26 L73.47 340.44 L74.6 343.81 L75.73 347.34 L76.86 350.99 L78 354.7 L79.13 358.4 L80.26 362.03 L81.39 365.55 L82.53 368.9 L83.66 372.04 L84.79 374.95 L85.92 377.6 L87.06 380 L88.19 382.14 L89.32 384.03 L90.45 385.69 L91.59 387.14 L92.72 388.39 L93.85 389.47 L94.98 390.4 L96.12 391.18 L97.25 391.85 L98.38 392.42 L99.52 392.9 L100.65 393.3 L101.78 393.64 L102.91 393.93 L104.04 394.17 L105.18 394.37 L106.31 394.54 L107.44 394.68 L108.57 394.8 L109.71 394.9 L110.84 394.98 L111.97 395.05 L113.1 395.11 L114.24 395.16 L115.37 395.2 L116.5 395.23 L117.63 395.26 L118.77 395.28 L119.9 395.3" stroke="#29c4f5" stroke-width="0.8" fill="none"/>
<path d="M29.3 313.54 L30.43 313.55 L31.56 313.56 L32.7 313.57 L33.83 313.59 L34.96 313.61 L36.09 313.63 L37.23 313.65 L38.36 313.69 L39.49 313.73 L40.62 313.77 L41.76 313.83 L42.89 313.9 L44.02 313.98 L45.15 314.08 L46.29 314.2 L47.42 314.35 L48.55 314.52 L49.68 314.74 L50.82 314.99 L51.95 315.29 L53.08 315.66 L54.21 316.1 L55.35 316.62 L56.48 317.24 L57.61 317.98 L58.74 318.86 L59.88 319.89 L61.01 321.1 L62.14 322.52 L63.27 324.16 L64.41 326.05 L65.54 328.2 L66.67 330.63 L67.8 333.35 L68.94 336.34 L70.07 339.6 L71.2 343.09 L72.33 346.76 L73.47 350.57 L74.6 354.45 L75.73 358.33 L76.86 362.14 L78 365.81 L79.13 369.3 L80.26 372.56 L81.39 375.55 L82.53 378.27 L83.66 380.7 L84.79 382.85 L85.92 384.74 L87.06 386.38 L88.19 387.8 L89.32 389.01 L90.45 390.04 L91.59 390.92 L92.72 391.66 L93.85 392.28 L94.98 392.8 L96.12 393.24 L97.25 393.61 L98.38 393.91 L99.52 394.16 L100.65 394.38 L101.78 394.55 L102.91 394.7 L104.04 394.82 L105.18 394.92 L106.31 395 L107.44 395.07 L108.57 395.13 L109.71 395.17 L110.84 395.21 L111.97 395.25 L113.1 395.27 L114.24 395.29 L115.37 395.31 L116.5 395.33 L117.63 395.34 L118.77 395.35 L119.9 395.36" stroke="#f6a3a3" stroke-width="0.8" fill="none"/>
<path d="M29.3 313.54 L30.43 313.54 L31.56 313.55 L32.7 313.56 L33.83 313.58 L34.96 313.59 L36.09 313.61 L37.23 313.64 L38.36 313.66 L39.49 313.7 L40.62 313.74 L41.76 313.79 L42.89 313.85 L44.02 313.93 L45.15 314.01 L46.29 314.12 L47.42 314.25 L48.55 314.4 L49.68 314.59 L50.82 314.81 L51.95 315.08 L53.08 315.41 L54.21 315.8 L55.35 316.26 L56.48 316.81 L57.61 317.47 L58.74 318.26 L59.88 319.18 L61.01 320.27 L62.14 321.55 L63.27 323.04 L64.41 324.76 L65.54 326.74 L66.67 328.98 L67.8 331.51 L68.94 334.32 L70.07 337.4 L71.2 340.74 L72.33 344.29 L73.47 348.02 L74.6 351.86 L75.73 355.75 L76.86 359.61 L78 363.38 L79.13 367 L80.26 370.41 L81.39 373.58 L82.53 376.49 L83.66 379.11 L84.79 381.45 L85.92 383.51 L87.06 385.31 L88.19 386.88 L89.32 388.22 L90.45 389.37 L91.59 390.35 L92.72 391.18 L93.85 391.88 L94.98 392.47 L96.12 392.96 L97.25 393.37 L98.38 393.71 L99.52 394 L100.65 394.24 L101.78 394.44 L102.91 394.6 L104.04 394.74 L105.18 394.85 L106.31 394.95 L107.44 395.03 L108.57 395.09 L109.71 395.14 L110.84 395.19 L111.97 395.22 L113.1 395.25 L114.24 395.28 L115.37 395.3 L116.5 395.32 L117.63 395.33 L118.77 395.34 L119.9 395.35" stroke="#9fd8f0" stroke-width="0.8" fill="none"/>
<path d="M29.3 311.04V319.23 M28.3 311.04H30.3 M28.3 319.23H30.3" stroke="#f6a12a" stroke-width="0.7" fill="none"/>
<circle cx="29.3" cy="315.14" r="0.7" fill="#f6a12a"/>
<path d="M29.3 313.5V318.41 M28.3 313.5H30.3 M28.3 318.41H30.3" stroke="#3f6fe8" stroke-width="0.7" fill="none"/>
<circle cx="29.3" cy="315.96" r="0.7" fill="#3f6fe8"/>
<path d="M29.3 316.78V323.33 M28.3 316.78H30.3 M28.3 323.33H30.3" stroke="#e8432e" stroke-width="0.7" fill="none"/>
<circle cx="29.3" cy="320.05" r="0.7" fill="#e8432e"/>
<path d="M29.3 313.5V316.78 M28.3 313.5H30.3 M28.3 316.78H30.3" stroke="#3db6a8" stroke-width="0.7" fill="none"/>
<rect x="28.6" y="314.44" width="1.4" height="1.4" fill="#3db6a8"/>
<path d="M29.3 314.32V320.87 M28.3 314.32H30.3 M28.3 320.87H30.3" stroke="#a58be0" stroke-width="0.7" fill="none"/>
<circle cx="29.3" cy="317.6" r="0.7" fill="#a58be0"/>
<path d="M39.87 315.14V328.24 M38.87 315.14H40.87 M38.87 328.24H40.87" stroke="#f6a12a" stroke-width="0.7" fill="none"/>
<circle cx="39.87" cy="321.69" r="0.7" fill="#f6a12a"/>
<path d="M39.87 319.23V327.42 M38.87 319.23H40.87 M38.87 327.42H40.87" stroke="#3db6a8" stroke-width="0.7" fill="none"/>
<rect x="39.17" y="322.63" width="1.4" height="1.4" fill="#3db6a8"/>
<path d="M39.87 315.96V324.15 M38.87 315.96H40.87 M38.87 324.15H40.87" stroke="#a58be0" stroke-width="0.7" fill="none"/>
<circle cx="39.87" cy="320.05" r="0.7" fill="#a58be0"/>
<path d="M39.87 315.96V320.87 M38.87 315.96H40.87 M38.87 320.87H40.87" stroke="#3f6fe8" stroke-width="0.7" fill="none"/>
<circle cx="39.87" cy="318.41" r="0.7" fill="#3f6fe8"/>
<path d="M44.4 306.95V320.05 M43.4 306.95H45.4 M43.4 320.05H45.4" stroke="#f6a12a" stroke-width="0.7" fill="none"/>
<circle cx="44.4" cy="313.5" r="0.7" fill="#f6a12a"/>
<path d="M44.4 315.96V351.99 M43.4 315.96H45.4 M43.4 351.99H45.4" stroke="#3f6fe8" stroke-width="0.7" fill="none"/>
<circle cx="44.4" cy="333.98" r="0.7" fill="#3f6fe8"/>
<path d="M44.4 313.5V320.05 M43.4 313.5H45.4 M43.4 320.05H45.4" stroke="#f6a3a3" stroke-width="0.7" fill="none"/>
<circle cx="44.4" cy="316.78" r="0.7" fill="#f6a3a3"/>
<path d="M44.4 312.68V317.6 M43.4 312.68H45.4 M43.4 317.6H45.4" stroke="#29c4f5" stroke-width="0.7" fill="none"/>
<circle cx="44.4" cy="315.14" r="0.7" fill="#29c4f5"/>
<path d="M50.44 315.14V344.62 M49.44 315.14H51.44 M49.44 344.62H51.44" stroke="#3f6fe8" stroke-width="0.7" fill="none"/>
<circle cx="50.44" cy="329.88" r="0.7" fill="#3f6fe8"/>
<path d="M50.44 318.41V334.79 M49.44 318.41H51.44 M49.44 334.79H51.44" stroke="#a58be0" stroke-width="0.7" fill="none"/>
<circle cx="50.44" cy="326.6" r="0.7" fill="#a58be0"/>
<path d="M50.44 324.15V332.34 M49.44 324.15H51.44 M49.44 332.34H51.44" stroke="#e8432e" stroke-width="0.7" fill="none"/>
<circle cx="50.44" cy="328.24" r="0.7" fill="#e8432e"/>
<path d="M50.44 327.42V333.98 M49.44 327.42H51.44 M49.44 333.98H51.44" stroke="#3db6a8" stroke-width="0.7" fill="none"/>
<rect x="49.74" y="330" width="1.4" height="1.4" fill="#3db6a8"/>
<path d="M54.97 321.69V334.79 M53.97 321.69H55.97 M53.97 334.79H55.97" stroke="#a58be0" stroke-width="0.7" fill="none"/>
<circle cx="54.97" cy="328.24" r="0.7" fill="#a58be0"/>
<path d="M54.97 319.23V327.42 M53.97 319.23H55.97 M53.97 327.42H55.97" stroke="#3f6fe8" stroke-width="0.7" fill="none"/>
<circle cx="54.97" cy="323.33" r="0.7" fill="#3f6fe8"/>
<path d="M54.97 324.97V334.79 M53.97 324.97H55.97 M53.97 334.79H55.97" stroke="#f6a12a" stroke-width="0.7" fill="none"/>
<circle cx="54.97" cy="329.88" r="0.7" fill="#f6a12a"/>
<path d="M54.97 323.33V329.88 M53.97 323.33H55.97 M53.97 329.88H55.97" stroke="#e8432e" stroke-width="0.7" fill="none"/>
<circle cx="54.97" cy="326.6" r="0.7" fill="#e8432e"/>
<path d="M59.5 316.78V346.26 M58.5 316.78H60.5 M58.5 346.26H60.5" stroke="#3f6fe8" stroke-width="0.7" fill="none"/>
<circle cx="59.5" cy="331.52" r="0.7" fill="#3f6fe8"/>
<path d="M59.5 321.69V344.62 M58.5 321.69H60.5 M58.5 344.62H60.5" stroke="#f6a12a" stroke-width="0.7" fill="none"/>
<circle cx="59.5" cy="333.16" r="0.7" fill="#f6a12a"/>
<path d="M59.5 318.41V324.97 M58.5 318.41H60.5 M58.5 324.97H60.5" stroke="#a58be0" stroke-width="0.7" fill="none"/>
<circle cx="59.5" cy="321.69" r="0.7" fill="#a58be0"/>
<path d="M59.5 321.69V329.88 M58.5 321.69H60.5 M58.5 329.88H60.5" stroke="#3db6a8" stroke-width="0.7" fill="none"/>
<rect x="58.8" y="325.08" width="1.4" height="1.4" fill="#3db6a8"/>
<path d="M65.54 320.05V346.26 M64.54 320.05H66.54 M64.54 346.26H66.54" stroke="#f6a12a" stroke-width="0.7" fill="none"/>
<circle cx="65.54" cy="333.16" r="0.7" fill="#f6a12a"/>
<path d="M65.54 327.42V335.61 M64.54 327.42H66.54 M64.54 335.61H66.54" stroke="#3db6a8" stroke-width="0.7" fill="none"/>
<rect x="64.84" y="330.82" width="1.4" height="1.4" fill="#3db6a8"/>
<path d="M65.54 328.24V341.35 M64.54 328.24H66.54 M64.54 341.35H66.54" stroke="#a58be0" stroke-width="0.7" fill="none"/>
<circle cx="65.54" cy="334.79" r="0.7" fill="#a58be0"/>
<path d="M65.54 324.97V334.79 M64.54 324.97H66.54 M64.54 334.79H66.54" stroke="#29c4f5" stroke-width="0.7" fill="none"/>
<circle cx="65.54" cy="329.88" r="0.7" fill="#29c4f5"/>
<path d="M70.07 334.79V354.45 M69.07 334.79H71.07 M69.07 354.45H71.07" stroke="#f6a12a" stroke-width="0.7" fill="none"/>
<circle cx="70.07" cy="344.62" r="0.7" fill="#f6a12a"/>
<path d="M70.07 328.24V344.62 M69.07 328.24H71.07 M69.07 344.62H71.07" stroke="#e8432e" stroke-width="0.7" fill="none"/>
<circle cx="70.07" cy="336.43" r="0.7" fill="#e8432e"/>
<path d="M70.07 333.16V349.54 M69.07 333.16H71.07 M69.07 349.54H71.07" stroke="#3f6fe8" stroke-width="0.7" fill="none"/>
<circle cx="70.07" cy="341.35" r="0.7" fill="#3f6fe8"/>
<path d="M70.07 341.35V351.17 M69.07 341.35H71.07 M69.07 351.17H71.07" stroke="#a58be0" stroke-width="0.7" fill="none"/>
<circle cx="70.07" cy="346.26" r="0.7" fill="#a58be0"/>
<path d="M74.6 338.07V354.45 M73.6 338.07H75.6 M73.6 354.45H75.6" stroke="#e8432e" stroke-width="0.7" fill="none"/>
<circle cx="74.6" cy="346.26" r="0.7" fill="#e8432e"/>
<path d="M74.6 341.35V367.55 M73.6 341.35H75.6 M73.6 367.55H75.6" stroke="#3f6fe8" stroke-width="0.7" fill="none"/>
<circle cx="74.6" cy="354.45" r="0.7" fill="#3f6fe8"/>
<path d="M74.6 348.72V368.37 M73.6 348.72H75.6 M73.6 368.37H75.6" stroke="#a58be0" stroke-width="0.7" fill="none"/>
<circle cx="74.6" cy="358.54" r="0.7" fill="#a58be0"/>
<path d="M74.6 342.98V356.09 M73.6 342.98H75.6 M73.6 356.09H75.6" stroke="#f6a12a" stroke-width="0.7" fill="none"/>
<circle cx="74.6" cy="349.54" r="0.7" fill="#f6a12a"/>
<path d="M74.6 340.53V348.72 M73.6 340.53H75.6 M73.6 348.72H75.6" stroke="#3db6a8" stroke-width="0.7" fill="none"/>
<rect x="73.9" y="343.92" width="1.4" height="1.4" fill="#3db6a8"/>
<path d="M82.15 384.75V392.94 M81.15 384.75H83.15 M81.15 392.94H83.15" stroke="#e8432e" stroke-width="0.7" fill="none"/>
<circle cx="82.15" cy="388.85" r="0.7" fill="#e8432e"/>
<path d="M82.15 387.21V393.76 M81.15 387.21H83.15 M81.15 393.76H83.15" stroke="#a58be0" stroke-width="0.7" fill="none"/>
<circle cx="82.15" cy="390.49" r="0.7" fill="#a58be0"/>
<path d="M82.15 387.21V392.12 M81.15 387.21H83.15 M81.15 392.12H83.15" stroke="#3db6a8" stroke-width="0.7" fill="none"/>
<rect x="81.45" y="388.97" width="1.4" height="1.4" fill="#3db6a8"/>
<path d="M119.9 383.93V393.76 M118.9 383.93H120.9 M118.9 393.76H120.9" stroke="#e8432e" stroke-width="0.7" fill="none"/>
<circle cx="119.9" cy="388.85" r="0.7" fill="#e8432e"/>
<path d="M119.9 386.39V394.58 M118.9 386.39H120.9 M118.9 394.58H120.9" stroke="#3f6fe8" stroke-width="0.7" fill="none"/>
<circle cx="119.9" cy="390.49" r="0.7" fill="#3f6fe8"/>
<path d="M119.9 386.39V392.94 M118.9 386.39H120.9 M118.9 392.94H120.9" stroke="#a58be0" stroke-width="0.7" fill="none"/>
<circle cx="119.9" cy="389.67" r="0.7" fill="#a58be0"/>
<path d="M119.9 387.21V392.12 M118.9 387.21H120.9 M118.9 392.12H120.9" stroke="#3db6a8" stroke-width="0.7" fill="none"/>
<rect x="119.2" y="388.97" width="1.4" height="1.4" fill="#3db6a8"/>
<line x1="29.2" y1="305.1" x2="29.2" y2="395.8" stroke="#000" stroke-width="0.9"/>
<line x1="28.8" y1="395.4" x2="122.4" y2="395.4" stroke="#000" stroke-width="0.9"/>
<line x1="27.4" y1="395.4" x2="29.2" y2="395.4" stroke="#000" stroke-width="0.7"/>
<text x="26.6" y="395.4" font-size="5.3" text-anchor="end" font-weight="bold" dominant-baseline="central" stroke="#000" stroke-width="0.1">0</text>
<line x1="27.4" y1="354.45" x2="29.2" y2="354.45" stroke="#000" stroke-width="0.7"/>
<text x="26.6" y="354.45" font-size="5.3" text-anchor="end" font-weight="bold" dominant-baseline="central" stroke="#000" stroke-width="0.1">50</text>
<line x1="27.4" y1="313.5" x2="29.2" y2="313.5" stroke="#000" stroke-width="0.7"/>
<text x="26.6" y="313.5" font-size="5.3" text-anchor="end" font-weight="bold" dominant-baseline="central" stroke="#000" stroke-width="0.1">100</text>
<line x1="44.4" y1="395.4" x2="44.4" y2="397.2" stroke="#000" stroke-width="0.7"/>
<text x="44.4" y="401.6" font-size="5.3" text-anchor="middle" font-weight="bold" dominant-baseline="central" stroke="#000" stroke-width="0.1">-2</text>
<line x1="74.6" y1="395.4" x2="74.6" y2="397.2" stroke="#000" stroke-width="0.7"/>
<text x="74.6" y="401.6" font-size="5.3" text-anchor="middle" font-weight="bold" dominant-baseline="central" stroke="#000" stroke-width="0.1">0</text>
<line x1="104.8" y1="395.4" x2="104.8" y2="397.2" stroke="#000" stroke-width="0.7"/>
<text x="104.8" y="401.6" font-size="5.3" text-anchor="middle" font-weight="bold" dominant-baseline="central" stroke="#000" stroke-width="0.1">2</text>
<text x="65.8" y="408.9" font-size="5.45" text-anchor="middle" font-weight="bold" dominant-baseline="central" stroke="#000" stroke-width="0.1">Log10 GSK321  µM</text>
<text x="13.9" y="350.45" font-size="5.3" text-anchor="middle" font-weight="bold" dominant-baseline="central" transform="rotate(-90 13.9 350.45)" stroke="#000" stroke-width="0.1">% Cell Viability</text>
<line x1="32" y1="374.2" x2="36.6" y2="374.2" stroke="#a58be0" stroke-width="0.6"/>
<path d="M34.3 373.2l1 1.6h-2z" stroke="#a58be0" stroke-width="0.1" fill="#a58be0"/>
<text x="40.4" y="374.2" font-size="5.6" font-weight="bold" dominant-baseline="central" stroke="#000" stroke-width="0.1">D458</text>
<line x1="32" y1="380.5" x2="36.6" y2="380.5" stroke="#29c4f5" stroke-width="0.6"/>
<path d="M34.3 379.5l1 1.6h-2z" stroke="#29c4f5" stroke-width="0.1" fill="#29c4f5"/>
<text x="40.4" y="380.5" font-size="5.6" font-weight="bold" dominant-baseline="central" stroke="#000" stroke-width="0.1">D458 IR</text>
<line x1="32" y1="386.8" x2="36.6" y2="386.8" stroke="#f6a3a3" stroke-width="0.6"/>
<circle cx="34.3" cy="386.8" r="0.8" fill="#f6a3a3"/>
<text x="40.4" y="386.8" font-size="5.6" font-weight="bold" dominant-baseline="central" stroke="#000" stroke-width="0.1">D425</text>
<line x1="32" y1="393" x2="36.6" y2="393" stroke="#3db6a8" stroke-width="0.6"/>
<rect x="33.5" y="392.2" width="1.6" height="1.6" fill="#3db6a8"/>
<text x="40.4" y="393" font-size="5.6" font-weight="bold" dominant-baseline="central" stroke="#000" stroke-width="0.1">D425 IR</text>
<path d="M29.3 417.71 L30.43 417.72 L31.56 417.72 L32.7 417.73 L33.83 417.73 L34.96 417.74 L36.09 417.75 L37.23 417.76 L38.36 417.78 L39.49 417.8 L40.62 417.82 L41.76 417.84 L42.89 417.88 L44.02 417.92 L45.15 417.97 L46.29 418.03 L47.42 418.1 L48.55 418.2 L49.68 418.31 L50.82 418.45 L51.95 418.62 L53.08 418.83 L54.21 419.09 L55.35 419.4 L56.48 419.78 L57.61 420.24 L58.74 420.81 L59.88 421.49 L61.01 422.31 L62.14 423.3 L63.27 424.49 L64.41 425.89 L65.54 427.55 L66.67 429.5 L67.8 431.75 L68.94 434.32 L70.07 437.24 L71.2 440.49 L72.33 444.05 L73.47 447.88 L74.6 451.92 L75.73 456.11 L76.86 460.35 L78 464.55 L79.13 468.63 L80.26 472.51 L81.39 476.13 L82.53 479.44 L83.66 482.42 L84.79 485.06 L85.92 487.38 L87.06 489.38 L88.19 491.1 L89.32 492.55 L90.45 493.78 L91.59 494.8 L92.72 495.66 L93.85 496.37 L94.98 496.95 L96.12 497.43 L97.25 497.83 L98.38 498.16 L99.52 498.42 L100.65 498.64 L101.78 498.82 L102.91 498.96 L104.04 499.08 L105.18 499.18 L106.31 499.26 L107.44 499.32 L108.57 499.37 L109.71 499.42 L110.84 499.45 L111.97 499.48 L113.1 499.5 L114.24 499.52 L115.37 499.53 L116.5 499.55 L117.63 499.56 L118.77 499.56 L119.9 499.57" stroke="#a58be0" stroke-width="0.8" fill="none"/>
<path d="M29.3 417.71 L30.43 417.72 L31.56 417.72 L32.7 417.72 L33.83 417.73 L34.96 417.74 L36.09 417.74 L37.23 417.75 L38.36 417.77 L39.49 417.78 L40.62 417.8 L41.76 417.82 L42.89 417.85 L44.02 417.88 L45.15 417.93 L46.29 417.98 L47.42 418.04 L48.55 418.12 L49.68 418.22 L50.82 418.34 L51.95 418.48 L53.08 418.66 L54.21 418.88 L55.35 419.14 L56.48 419.47 L57.61 419.87 L58.74 420.35 L59.88 420.93 L61.01 421.64 L62.14 422.5 L63.27 423.52 L64.41 424.75 L65.54 426.2 L66.67 427.92 L67.8 429.92 L68.94 432.24 L70.07 434.88 L71.2 437.86 L72.33 441.17 L73.47 444.79 L74.6 448.67 L75.73 452.75 L76.86 456.95 L78 461.19 L79.13 465.38 L80.26 469.42 L81.39 473.25 L82.53 476.81 L83.66 480.06 L84.79 482.98 L85.92 485.55 L87.06 487.8 L88.19 489.75 L89.32 491.41 L90.45 492.81 L91.59 494 L92.72 494.99 L93.85 495.81 L94.98 496.49 L96.12 497.06 L97.25 497.52 L98.38 497.9 L99.52 498.21 L100.65 498.47 L101.78 498.68 L102.91 498.85 L104.04 498.99 L105.18 499.1 L106.31 499.2 L107.44 499.27 L108.57 499.33 L109.71 499.38 L110.84 499.42 L111.97 499.46 L113.1 499.48 L114.24 499.5 L115.37 499.52 L116.5 499.54 L117.63 499.55 L118.77 499.56 L119.9 499.57" stroke="#29c4f5" stroke-width="0.8" fill="none"/>
<path d="M29.3 417.72 L30.43 417.72 L31.56 417.73 L32.7 417.74 L33.83 417.74 L34.96 417.75 L36.09 417.77 L37.23 417.78 L38.36 417.8 L39.49 417.83 L40.62 417.85 L41.76 417.89 L42.89 417.93 L44.02 417.99 L45.15 418.05 L46.29 418.13 L47.42 418.23 L48.55 418.35 L49.68 418.5 L50.82 418.69 L51.95 418.91 L53.08 419.18 L54.21 419.52 L55.35 419.92 L56.48 420.42 L57.61 421.02 L58.74 421.75 L59.88 422.62 L61.01 423.68 L62.14 424.93 L63.27 426.42 L64.41 428.17 L65.54 430.21 L66.67 432.57 L67.8 435.26 L68.94 438.29 L70.07 441.64 L71.2 445.3 L72.33 449.21 L73.47 453.31 L74.6 457.52 L75.73 461.76 L76.86 465.93 L78 469.95 L79.13 473.75 L80.26 477.26 L81.39 480.47 L82.53 483.34 L83.66 485.87 L84.79 488.08 L85.92 489.98 L87.06 491.61 L88.19 492.98 L89.32 494.14 L90.45 495.1 L91.59 495.91 L92.72 496.57 L93.85 497.12 L94.98 497.58 L96.12 497.95 L97.25 498.25 L98.38 498.5 L99.52 498.7 L100.65 498.87 L101.78 499.01 L102.91 499.12 L104.04 499.21 L105.18 499.28 L106.31 499.34 L107.44 499.39 L108.57 499.43 L109.71 499.46 L110.84 499.49 L111.97 499.51 L113.1 499.52 L114.24 499.54 L115.37 499.55 L116.5 499.56 L117.63 499.57 L118.77 499.57 L119.9 499.58" stroke="#f6a3a3" stroke-width="0.8" fill="none"/>
<path d="M29.3 417.72 L30.43 417.73 L31.56 417.73 L32.7 417.74 L33.83 417.75 L34.96 417.76 L36.09 417.77 L37.23 417.79 L38.36 417.81 L39.49 417.83 L40.62 417.86 L41.76 417.9 L42.89 417.95 L44.02 418 L45.15 418.07 L46.29 418.16 L47.42 418.26 L48.55 418.39 L49.68 418.55 L50.82 418.74 L51.95 418.98 L53.08 419.27 L54.21 419.62 L55.35 420.05 L56.48 420.57 L57.61 421.2 L58.74 421.97 L59.88 422.89 L61.01 423.99 L62.14 425.3 L63.27 426.86 L64.41 428.68 L65.54 430.81 L66.67 433.25 L67.8 436.03 L68.94 439.15 L70.07 442.59 L71.2 446.32 L72.33 450.28 L73.47 454.42 L74.6 458.65 L75.73 462.88 L76.86 467.02 L78 470.98 L79.13 474.71 L80.26 478.15 L81.39 481.27 L82.53 484.05 L83.66 486.49 L84.79 488.62 L85.92 490.44 L87.06 492 L88.19 493.31 L89.32 494.41 L90.45 495.33 L91.59 496.1 L92.72 496.73 L93.85 497.25 L94.98 497.68 L96.12 498.03 L97.25 498.32 L98.38 498.56 L99.52 498.75 L100.65 498.91 L101.78 499.04 L102.91 499.14 L104.04 499.23 L105.18 499.3 L106.31 499.35 L107.44 499.4 L108.57 499.44 L109.71 499.47 L110.84 499.49 L111.97 499.51 L113.1 499.53 L114.24 499.54 L115.37 499.55 L116.5 499.56 L117.63 499.57 L118.77 499.57 L119.9 499.58" stroke="#12b5ea" stroke-width="0.8" fill="none"/>
<path d="M54.97 411.15V437.36 M53.97 411.15H55.97 M53.97 437.36H55.97" stroke="#e8432e" stroke-width="0.7" fill="none"/>
<circle cx="54.97" cy="424.25" r="0.7" fill="#e8432e"/>
<path d="M54.97 416.88V421.79 M53.97 416.88H55.97 M53.97 421.79H55.97" stroke="#3f6fe8" stroke-width="0.7" fill="none"/>
<circle cx="54.97" cy="419.34" r="0.7" fill="#3f6fe8"/>
<path d="M54.97 417.7V424.25 M53.97 417.7H55.97 M53.97 424.25H55.97" stroke="#a58be0" stroke-width="0.7" fill="none"/>
<circle cx="54.97" cy="420.98" r="0.7" fill="#a58be0"/>
<path d="M54.97 417.7V422.61 M53.97 417.7H55.97 M53.97 422.61H55.97" stroke="#29c4f5" stroke-width="0.7" fill="none"/>
<circle cx="54.97" cy="420.16" r="0.7" fill="#29c4f5"/>
<path d="M59.5 418.52V426.71 M58.5 418.52H60.5 M58.5 426.71H60.5" stroke="#f6a12a" stroke-width="0.7" fill="none"/>
<circle cx="59.5" cy="422.61" r="0.7" fill="#f6a12a"/>
<path d="M59.5 420.98V427.53 M58.5 420.98H60.5 M58.5 427.53H60.5" stroke="#3f6fe8" stroke-width="0.7" fill="none"/>
<circle cx="59.5" cy="424.25" r="0.7" fill="#3f6fe8"/>
<path d="M59.5 419.34V424.25 M58.5 419.34H60.5 M58.5 424.25H60.5" stroke="#3db6a8" stroke-width="0.7" fill="none"/>
<rect x="58.8" y="421.09" width="1.4" height="1.4" fill="#3db6a8"/>
<path d="M59.5 422.61V429.17 M58.5 422.61H60.5 M58.5 429.17H60.5" stroke="#a58be0" stroke-width="0.7" fill="none"/>
<circle cx="59.5" cy="425.89" r="0.7" fill="#a58be0"/>
<path d="M65.54 429.17V435.72 M64.54 429.17H66.54 M64.54 435.72H66.54" stroke="#f6a12a" stroke-width="0.7" fill="none"/>
<circle cx="65.54" cy="432.44" r="0.7" fill="#f6a12a"/>
<path d="M65.54 427.53V434.08 M64.54 427.53H66.54 M64.54 434.08H66.54" stroke="#29c4f5" stroke-width="0.7" fill="none"/>
<circle cx="65.54" cy="430.8" r="0.7" fill="#29c4f5"/>
<path d="M65.54 431.62V436.54 M64.54 431.62H66.54 M64.54 436.54H66.54" stroke="#3db6a8" stroke-width="0.7" fill="none"/>
<rect x="64.84" y="433.38" width="1.4" height="1.4" fill="#3db6a8"/>
<path d="M70.07 417.7V437.36 M69.07 417.7H71.07 M69.07 437.36H71.07" stroke="#3f6fe8" stroke-width="0.7" fill="none"/>
<circle cx="70.07" cy="427.53" r="0.7" fill="#3f6fe8"/>
<path d="M70.07 422.61V435.72 M69.07 422.61H71.07 M69.07 435.72H71.07" stroke="#e8432e" stroke-width="0.7" fill="none"/>
<circle cx="70.07" cy="429.17" r="0.7" fill="#e8432e"/>
<path d="M70.07 444.73V452.92 M69.07 444.73H71.07 M69.07 452.92H71.07" stroke="#f6a12a" stroke-width="0.7" fill="none"/>
<circle cx="70.07" cy="448.82" r="0.7" fill="#f6a12a"/>
<path d="M70.07 445.55V455.37 M69.07 445.55H71.07 M69.07 455.37H71.07" stroke="#3db6a8" stroke-width="0.7" fill="none"/>
<rect x="69.37" y="449.76" width="1.4" height="1.4" fill="#3db6a8"/>
<path d="M70.07 422.61V438.99 M69.07 422.61H71.07 M69.07 438.99H71.07" stroke="#a58be0" stroke-width="0.7" fill="none"/>
<circle cx="70.07" cy="430.8" r="0.7" fill="#a58be0"/>
<path d="M74.6 437.36V453.74 M73.6 437.36H75.6 M73.6 453.74H75.6" stroke="#3f6fe8" stroke-width="0.7" fill="none"/>
<circle cx="74.6" cy="445.55" r="0.7" fill="#3f6fe8"/>
<path d="M74.6 448.82V461.93 M73.6 448.82H75.6 M73.6 461.93H75.6" stroke="#f6a12a" stroke-width="0.7" fill="none"/>
<circle cx="74.6" cy="455.37" r="0.7" fill="#f6a12a"/>
<path d="M74.6 445.55V455.37 M73.6 445.55H75.6 M73.6 455.37H75.6" stroke="#e8432e" stroke-width="0.7" fill="none"/>
<circle cx="74.6" cy="450.46" r="0.7" fill="#e8432e"/>
<path d="M74.6 442.27V455.37 M73.6 442.27H75.6 M73.6 455.37H75.6" stroke="#a58be0" stroke-width="0.7" fill="none"/>
<circle cx="74.6" cy="448.82" r="0.7" fill="#a58be0"/>
<path d="M85.17 476.67V493.05 M84.17 476.67H86.17 M84.17 493.05H86.17" stroke="#f6a12a" stroke-width="0.7" fill="none"/>
<circle cx="85.17" cy="484.86" r="0.7" fill="#f6a12a"/>
<path d="M85.17 483.22V496.32 M84.17 483.22H86.17 M84.17 496.32H86.17" stroke="#3f6fe8" stroke-width="0.7" fill="none"/>
<circle cx="85.17" cy="489.77" r="0.7" fill="#3f6fe8"/>
<path d="M85.17 484.86V497.96 M84.17 484.86H86.17 M84.17 497.96H86.17" stroke="#a58be0" stroke-width="0.7" fill="none"/>
<circle cx="85.17" cy="491.41" r="0.7" fill="#a58be0"/>
<path d="M85.17 481.58V491.41 M84.17 481.58H86.17 M84.17 491.41H86.17" stroke="#e8432e" stroke-width="0.7" fill="none"/>
<circle cx="85.17" cy="486.5" r="0.7" fill="#e8432e"/>
<path d="M85.17 492.23V498.78 M84.17 492.23H86.17 M84.17 498.78H86.17" stroke="#3db6a8" stroke-width="0.7" fill="none"/>
<rect x="84.47" y="494.81" width="1.4" height="1.4" fill="#3db6a8"/>
<path d="M65.54 417.7V417.7 M64.54 417.7H66.54 M64.54 417.7H66.54" stroke="#e8432e" stroke-width="0.7" fill="none"/>
<circle cx="65.54" cy="417.7" r="0.7" fill="#e8432e"/>
<path d="M59.5 441.45V441.45 M58.5 441.45H60.5 M58.5 441.45H60.5" stroke="#e8432e" stroke-width="0.7" fill="none"/>
<circle cx="59.5" cy="441.45" r="0.7" fill="#e8432e"/>
<path d="M68.56 429.99V429.99 M67.56 429.99H69.56 M67.56 429.99H69.56" stroke="#e8432e" stroke-width="0.7" fill="none"/>
<circle cx="68.56" cy="429.99" r="0.7" fill="#e8432e"/>
<path d="M89.7 499.6V499.6 M88.7 499.6H90.7 M88.7 499.6H90.7" stroke="#29c4f5" stroke-width="0.7" fill="none"/>
<rect x="89" y="498.9" width="1.4" height="1.4" fill="#29c4f5"/>
<line x1="29.2" y1="409.5" x2="29.2" y2="500" stroke="#000" stroke-width="0.9"/>
<line x1="28.8" y1="499.6" x2="119.8" y2="499.6" stroke="#000" stroke-width="0.9"/>
<line x1="27.4" y1="499.6" x2="29.2" y2="499.6" stroke="#000" stroke-width="0.7"/>
<text x="26.6" y="499.6" font-size="5.3" text-anchor="end" font-weight="bold" dominant-baseline="central" stroke="#000" stroke-width="0.1">0</text>
<line x1="27.4" y1="458.65" x2="29.2" y2="458.65" stroke="#000" stroke-width="0.7"/>
<text x="26.6" y="458.65" font-size="5.3" text-anchor="end" font-weight="bold" dominant-baseline="central" stroke="#000" stroke-width="0.1">50</text>
<line x1="27.4" y1="417.7" x2="29.2" y2="417.7" stroke="#000" stroke-width="0.7"/>
<text x="26.6" y="417.7" font-size="5.3" text-anchor="end" font-weight="bold" dominant-baseline="central" stroke="#000" stroke-width="0.1">100</text>
<line x1="44.4" y1="499.6" x2="44.4" y2="501.4" stroke="#000" stroke-width="0.7"/>
<text x="44.4" y="505.8" font-size="5.3" text-anchor="middle" font-weight="bold" dominant-baseline="central" stroke="#000" stroke-width="0.1">-2</text>
<line x1="74.6" y1="499.6" x2="74.6" y2="501.4" stroke="#000" stroke-width="0.7"/>
<text x="74.6" y="505.8" font-size="5.3" text-anchor="middle" font-weight="bold" dominant-baseline="central" stroke="#000" stroke-width="0.1">0</text>
<line x1="104.8" y1="499.6" x2="104.8" y2="501.4" stroke="#000" stroke-width="0.7"/>
<text x="104.8" y="505.8" font-size="5.3" text-anchor="middle" font-weight="bold" dominant-baseline="central" stroke="#000" stroke-width="0.1">2</text>
<text x="65.8" y="513" font-size="5.45" text-anchor="middle" font-weight="bold" dominant-baseline="central" stroke="#000" stroke-width="0.1">Log10 IDH1-13 µM</text>
<text x="13.9" y="454.65" font-size="5.3" text-anchor="middle" font-weight="bold" dominant-baseline="central" transform="rotate(-90 13.9 454.65)" stroke="#000" stroke-width="0.1">% Cell Viability</text>
<line x1="32" y1="478.2" x2="36.6" y2="478.2" stroke="#a58be0" stroke-width="0.6"/>
<path d="M34.3 477.2l1 1.6h-2z" stroke="#a58be0" stroke-width="0.1" fill="#a58be0"/>
<text x="40.4" y="478.2" font-size="5.6" font-weight="bold" dominant-baseline="central" stroke="#000" stroke-width="0.1">D458</text>
<line x1="32" y1="484.5" x2="36.6" y2="484.5" stroke="#29c4f5" stroke-width="0.6"/>
<path d="M34.3 483.5l1 1.6h-2z" stroke="#29c4f5" stroke-width="0.1" fill="#29c4f5"/>
<text x="40.4" y="484.5" font-size="5.6" font-weight="bold" dominant-baseline="central" stroke="#000" stroke-width="0.1">D458IR</text>
<line x1="32" y1="490.8" x2="36.6" y2="490.8" stroke="#e8432e" stroke-width="0.6"/>
<circle cx="34.3" cy="490.8" r="0.8" fill="#e8432e"/>
<text x="40.4" y="490.8" font-size="5.6" font-weight="bold" dominant-baseline="central" stroke="#000" stroke-width="0.1">D425</text>
<line x1="32" y1="497.2" x2="36.6" y2="497.2" stroke="#12b5ea" stroke-width="0.6"/>
<rect x="33.5" y="496.4" width="1.6" height="1.6" fill="#12b5ea"/>
<text x="40.4" y="497.2" font-size="5.6" font-weight="bold" dominant-baseline="central" stroke="#000" stroke-width="0.1">D425IR</text>
</g>
<g id="panelE">
<text x="150.2" y="215.8" font-size="16.8">E</text>
<line x1="187.3" y1="248.92" x2="187.3" y2="266.15" stroke="#000" stroke-width="1"/>
<line x1="184" y1="248.92" x2="190.6" y2="248.92" stroke="#000" stroke-width="1"/>
<line x1="184" y1="266.15" x2="190.6" y2="266.15" stroke="#000" stroke-width="1"/>
<line x1="184" y1="249.41" x2="190.6" y2="249.41" stroke="#000" stroke-width="0.8"/>
<circle cx="187.3" cy="248.92" r="1.2" fill="#000"/>
<circle cx="187.3" cy="249.9" r="1.2" fill="#000"/>
<circle cx="187.3" cy="266.15" r="1.2" fill="#000"/>
<line x1="197.9" y1="236.11" x2="197.9" y2="237.1" stroke="#000" stroke-width="1"/>
<line x1="197.9" y1="253.84" x2="197.9" y2="258.76" stroke="#000" stroke-width="1"/>
<rect x="194.1" y="237.1" width="7.6" height="16.74" fill="#c9c9c9" stroke="#000" stroke-width="1"/>
<line x1="194.6" y1="236.11" x2="201.2" y2="236.11" stroke="#000" stroke-width="1"/>
<line x1="194.6" y1="258.76" x2="201.2" y2="258.76" stroke="#000" stroke-width="1"/>
<line x1="194.1" y1="242.02" x2="201.7" y2="242.02" stroke="#000" stroke-width="0.8"/>
<circle cx="197.9" cy="236.6" r="1.2" fill="#000"/>
<circle cx="197.9" cy="241.53" r="1.2" fill="#000"/>
<circle cx="197.9" cy="244.98" r="1.2" fill="#000"/>
<circle cx="197.9" cy="258.27" r="1.2" fill="#000"/>
<line x1="208.5" y1="249.9" x2="208.5" y2="253.84" stroke="#000" stroke-width="1"/>
<line x1="208.5" y1="281.42" x2="208.5" y2="283.39" stroke="#000" stroke-width="1"/>
<rect x="204.7" y="253.84" width="7.6" height="27.58" fill="#9e9e9e" stroke="#000" stroke-width="1"/>
<line x1="205.2" y1="249.9" x2="211.8" y2="249.9" stroke="#000" stroke-width="1"/>
<line x1="205.2" y1="283.39" x2="211.8" y2="283.39" stroke="#000" stroke-width="1"/>
<line x1="204.7" y1="262.7" x2="212.3" y2="262.7" stroke="#000" stroke-width="0.8"/>
<circle cx="208.5" cy="249.9" r="1.2" fill="#000"/>
<circle cx="208.5" cy="257.29" r="1.2" fill="#000"/>
<circle cx="208.5" cy="263.2" r="1.2" fill="#000"/>
<circle cx="208.5" cy="280.93" r="1.2" fill="#000"/>
<circle cx="208.5" cy="283.39" r="1.2" fill="#000"/>
<line x1="219.1" y1="256.8" x2="219.1" y2="282.41" stroke="#000" stroke-width="1"/>
<line x1="215.8" y1="256.8" x2="222.4" y2="256.8" stroke="#000" stroke-width="1"/>
<line x1="215.8" y1="282.41" x2="222.4" y2="282.41" stroke="#000" stroke-width="1"/>
<line x1="215.8" y1="269.6" x2="222.4" y2="269.6" stroke="#000" stroke-width="0.8"/>
<circle cx="219.1" cy="256.8" r="1.2" fill="#000"/>
<circle cx="219.1" cy="282.41" r="1.2" fill="#000"/>
<line x1="229.7" y1="259.75" x2="229.7" y2="259.75" stroke="#000" stroke-width="1"/>
<line x1="229.7" y1="276.5" x2="229.7" y2="279.45" stroke="#000" stroke-width="1"/>
<rect x="225.9" y="259.75" width="7.6" height="16.75" fill="#7d7d7d" stroke="#000" stroke-width="1"/>
<line x1="226.4" y1="259.75" x2="233" y2="259.75" stroke="#000" stroke-width="1"/>
<line x1="226.4" y1="279.45" x2="233" y2="279.45" stroke="#000" stroke-width="1"/>
<line x1="225.9" y1="262.7" x2="233.5" y2="262.7" stroke="#000" stroke-width="0.8"/>
<circle cx="229.7" cy="259.75" r="1.2" fill="#000"/>
<circle cx="229.7" cy="261.72" r="1.2" fill="#000"/>
<circle cx="229.7" cy="266.65" r="1.2" fill="#000"/>
<circle cx="229.7" cy="279.45" r="1.2" fill="#000"/>
<circle cx="237.7" cy="266.15" r="1.2" fill="#000"/>
<circle cx="242.9" cy="266.65" r="1.2" fill="#000"/>
<circle cx="240.3" cy="271.57" r="1.2" fill="#000"/>
<line x1="250.9" y1="273.54" x2="250.9" y2="273.54" stroke="#000" stroke-width="1"/>
<line x1="250.9" y1="285.36" x2="250.9" y2="288.31" stroke="#000" stroke-width="1"/>
<rect x="247.1" y="273.54" width="7.6" height="11.82" fill="#717171" stroke="#000" stroke-width="1"/>
<line x1="247.6" y1="273.54" x2="254.2" y2="273.54" stroke="#000" stroke-width="1"/>
<line x1="247.6" y1="288.31" x2="254.2" y2="288.31" stroke="#000" stroke-width="1"/>
<line x1="247.1" y1="274.53" x2="254.7" y2="274.53" stroke="#000" stroke-width="0.8"/>
<circle cx="250.9" cy="273.54" r="1.2" fill="#000"/>
<circle cx="250.9" cy="274.53" r="1.2" fill="#000"/>
<circle cx="250.9" cy="278.47" r="1.2" fill="#000"/>
<circle cx="250.9" cy="288.31" r="1.2" fill="#000"/>
<line x1="261.5" y1="268.62" x2="261.5" y2="269.6" stroke="#000" stroke-width="1"/>
<line x1="261.5" y1="282.41" x2="261.5" y2="285.36" stroke="#000" stroke-width="1"/>
<rect x="257.7" y="269.6" width="7.6" height="12.81" fill="#ebebeb" stroke="#000" stroke-width="1"/>
<line x1="258.2" y1="268.62" x2="264.8" y2="268.62" stroke="#000" stroke-width="1"/>
<line x1="258.2" y1="285.36" x2="264.8" y2="285.36" stroke="#000" stroke-width="1"/>
<line x1="257.7" y1="271.57" x2="265.3" y2="271.57" stroke="#000" stroke-width="0.8"/>
<circle cx="261.5" cy="268.62" r="1.2" fill="#000"/>
<circle cx="261.5" cy="269.6" r="1.2" fill="#000"/>
<circle cx="261.5" cy="274.53" r="1.2" fill="#000"/>
<circle cx="261.5" cy="284.87" r="1.2" fill="#000"/>
<line x1="178.3" y1="229.8" x2="178.3" y2="289.75" stroke="#000" stroke-width="0.9"/>
<line x1="177.85" y1="289.3" x2="269.2" y2="289.3" stroke="#000" stroke-width="0.9"/>
<line x1="176.1" y1="289.3" x2="178.3" y2="289.3" stroke="#000" stroke-width="0.8"/>
<text x="175.3" y="289.3" font-size="6.3" text-anchor="end" font-weight="bold" dominant-baseline="central" stroke="#000" stroke-width="0.1">0</text>
<line x1="176.1" y1="269.6" x2="178.3" y2="269.6" stroke="#000" stroke-width="0.8"/>
<text x="175.3" y="269.6" font-size="6.3" text-anchor="end" font-weight="bold" dominant-baseline="central" stroke="#000" stroke-width="0.1">2</text>
<line x1="176.1" y1="249.9" x2="178.3" y2="249.9" stroke="#000" stroke-width="0.8"/>
<text x="175.3" y="249.9" font-size="6.3" text-anchor="end" font-weight="bold" dominant-baseline="central" stroke="#000" stroke-width="0.1">4</text>
<line x1="176.1" y1="230.2" x2="178.3" y2="230.2" stroke="#000" stroke-width="0.8"/>
<text x="175.3" y="230.2" font-size="6.3" text-anchor="end" font-weight="bold" dominant-baseline="central" stroke="#000" stroke-width="0.1">6</text>
<line x1="187.3" y1="289.3" x2="187.3" y2="291.3" stroke="#000" stroke-width="0.8"/>
<text x="187.3" y="292.6" font-size="7.35" text-anchor="end" font-weight="bold" dominant-baseline="central" transform="rotate(-90 187.3 292.6)" stroke="#000" stroke-width="0.1">D458</text>
<line x1="197.9" y1="289.3" x2="197.9" y2="291.3" stroke="#000" stroke-width="0.8"/>
<text x="197.9" y="292.6" font-size="7.35" text-anchor="end" font-weight="bold" dominant-baseline="central" transform="rotate(-90 197.9 292.6)" stroke="#000" stroke-width="0.1">D458IR</text>
<line x1="208.5" y1="289.3" x2="208.5" y2="291.3" stroke="#000" stroke-width="0.8"/>
<text x="208.5" y="292.6" font-size="7.35" text-anchor="end" font-weight="bold" dominant-baseline="central" transform="rotate(-90 208.5 292.6)" stroke="#000" stroke-width="0.1">D458 IR IDH305</text>
<line x1="219.1" y1="289.3" x2="219.1" y2="291.3" stroke="#000" stroke-width="0.8"/>
<text x="219.1" y="292.6" font-size="7.35" text-anchor="end" font-weight="bold" dominant-baseline="central" transform="rotate(-90 219.1 292.6)" stroke="#000" stroke-width="0.1">D458IR GSK321</text>
<line x1="229.7" y1="289.3" x2="229.7" y2="291.3" stroke="#000" stroke-width="0.8"/>
<text x="229.7" y="292.6" font-size="7.35" text-anchor="end" font-weight="bold" dominant-baseline="central" transform="rotate(-90 229.7 292.6)" stroke="#000" stroke-width="0.1">D425</text>
<line x1="240.3" y1="289.3" x2="240.3" y2="291.3" stroke="#000" stroke-width="0.8"/>
<text x="240.3" y="292.6" font-size="7.35" text-anchor="end" font-weight="bold" dominant-baseline="central" transform="rotate(-90 240.3 292.6)" stroke="#000" stroke-width="0.1">D425IR</text>
<line x1="250.9" y1="289.3" x2="250.9" y2="291.3" stroke="#000" stroke-width="0.8"/>
<text x="250.9" y="292.6" font-size="7.35" text-anchor="end" font-weight="bold" dominant-baseline="central" transform="rotate(-90 250.9 292.6)" stroke="#000" stroke-width="0.1">D425IR IDH305</text>
<line x1="261.5" y1="289.3" x2="261.5" y2="291.3" stroke="#000" stroke-width="0.8"/>
<text x="261.5" y="292.6" font-size="7.35" text-anchor="end" font-weight="bold" dominant-baseline="central" transform="rotate(-90 261.5 292.6)" stroke="#000" stroke-width="0.1">D425IR GSK321</text>
<text x="167" y="258.2" font-size="7.6" text-anchor="middle" dominant-baseline="central" transform="rotate(-90 167 258.2)" stroke="#000" stroke-width="0.1">α-KG ng/µL</text>
<path d="M197.9 233.7V229.6H208.5V247.4" stroke="#000" stroke-width="0.7" fill="none"/>
<text x="203.2" y="224.4" font-size="4.8" text-anchor="middle" dominant-baseline="central" stroke="#000" stroke-width="0.1">P = 0.0367</text>
<path d="M240.3 236.8V231.3H261.5V258.2" stroke="#000" stroke-width="0.7" fill="none"/>
<text x="250.9" y="226.6" font-size="4.85" text-anchor="middle" dominant-baseline="central" stroke="#000" stroke-width="0.1">P=0.0121</text>
<path d="M240.3 260.3V249H250.9V269.5" stroke="#000" stroke-width="0.7" fill="none"/>
<text x="245.6" y="244.3" font-size="4.85" text-anchor="middle" dominant-baseline="central" stroke="#000" stroke-width="0.1">P=0.0027</text>
</g>
<g id="panelF">
<text x="284.3" y="215.8" font-size="16.8">F</text>
<rect x="326.05" y="246.86" width="6.1" height="43.34" fill="#a596cb" stroke="#9d8cc8" stroke-width="0.5"/>
<path d="M329.1 238.98V254.74 M327.5 238.98H330.7 M327.5 254.74H330.7" stroke="#9d8cc8" stroke-width="0.7" fill="none"/>
<circle cx="327.9" cy="238.98" r="1.05" fill="#3a2a8a"/>
<circle cx="329.7" cy="247.84" r="1.05" fill="#3a2a8a"/>
<circle cx="330.5" cy="252.77" r="1.05" fill="#3a2a8a"/>
<rect x="334.35" y="263.61" width="6.1" height="26.59" fill="#a596cb" stroke="#9d8cc8" stroke-width="0.5"/>
<path d="M337.4 262.23V264.98 M335.8 262.23H339 M335.8 264.98H339" stroke="#9d8cc8" stroke-width="0.7" fill="none"/>
<circle cx="336.2" cy="262.23" r="1.05" fill="#3a2a8a"/>
<circle cx="338" cy="263.41" r="1.05" fill="#3a2a8a"/>
<circle cx="338.8" cy="264.2" r="1.05" fill="#3a2a8a"/>
<rect x="348.55" y="251.78" width="6.1" height="38.41" fill="#6aa6ec" stroke="#35c2f5" stroke-width="0.5"/>
<path d="M351.6 244.89V258.68 M350 244.89H353.2 M350 258.68H353.2" stroke="#35c2f5" stroke-width="0.7" fill="none"/>
<circle cx="350.4" cy="244.89" r="1.05" fill="#1f6fe0"/>
<circle cx="352.2" cy="249.81" r="1.05" fill="#1f6fe0"/>
<circle cx="353" cy="259.66" r="1.05" fill="#1f6fe0"/>
<rect x="357.35" y="259.66" width="6.1" height="30.54" fill="#6aa6ec" stroke="#35c2f5" stroke-width="0.5"/>
<path d="M360.4 252.77V266.56 M358.8 252.77H362 M358.8 266.56H362" stroke="#35c2f5" stroke-width="0.7" fill="none"/>
<circle cx="359.2" cy="250.8" r="1.05" fill="#1f6fe0"/>
<circle cx="361" cy="262.62" r="1.05" fill="#1f6fe0"/>
<circle cx="361.8" cy="264.59" r="1.05" fill="#1f6fe0"/>
<rect x="371.55" y="248.24" width="6.1" height="41.96" fill="#62bcbc" stroke="#4fb3b3" stroke-width="0.5"/>
<path d="M374.6 241.34V255.13 M373 241.34H376.2 M373 255.13H376.2" stroke="#4fb3b3" stroke-width="0.7" fill="none"/>
<circle cx="373.4" cy="240.95" r="1.05" fill="#1a8a96"/>
<circle cx="375.2" cy="248.83" r="1.05" fill="#1a8a96"/>
<circle cx="376" cy="254.15" r="1.05" fill="#1a8a96"/>
<rect x="380.35" y="264.2" width="6.1" height="26" fill="#62bcbc" stroke="#4fb3b3" stroke-width="0.5"/>
<path d="M383.4 259.27V269.12 M381.8 259.27H385 M381.8 269.12H385" stroke="#4fb3b3" stroke-width="0.7" fill="none"/>
<circle cx="382.2" cy="260.65" r="1.05" fill="#1a8a96"/>
<circle cx="384" cy="262.03" r="1.05" fill="#1a8a96"/>
<circle cx="384.8" cy="268.53" r="1.05" fill="#1a8a96"/>
<rect x="394.55" y="252.77" width="6.1" height="37.43" fill="#fbab7a" stroke="#fb9a60" stroke-width="0.5"/>
<path d="M397.6 244.89V260.65 M396 244.89H399.2 M396 260.65H399.2" stroke="#fb9a60" stroke-width="0.7" fill="none"/>
<circle cx="396.4" cy="245.88" r="1.05" fill="#f4631e"/>
<circle cx="398.2" cy="253.75" r="1.05" fill="#f4631e"/>
<circle cx="399" cy="258.68" r="1.05" fill="#f4631e"/>
<rect x="403.35" y="275.43" width="6.1" height="14.77" fill="#fbab7a" stroke="#fb9a60" stroke-width="0.5"/>
<path d="M406.4 273.45V277.39 M404.8 273.45H408 M404.8 277.39H408" stroke="#fb9a60" stroke-width="0.7" fill="none"/>
<circle cx="405.2" cy="273.85" r="1.05" fill="#f4631e"/>
<circle cx="407" cy="276.02" r="1.05" fill="#f4631e"/>
<circle cx="407.8" cy="276.41" r="1.05" fill="#f4631e"/>
<line x1="321.6" y1="230.7" x2="321.6" y2="290.65" stroke="#000" stroke-width="0.9"/>
<line x1="321.15" y1="290.2" x2="412" y2="290.2" stroke="#000" stroke-width="0.9"/>
<line x1="319.4" y1="290.2" x2="321.6" y2="290.2" stroke="#000" stroke-width="0.8"/>
<text x="318.7" y="290.2" font-size="6.5" text-anchor="end" font-weight="bold" dominant-baseline="central" stroke="#000" stroke-width="0.1">0</text>
<line x1="319.4" y1="270.5" x2="321.6" y2="270.5" stroke="#000" stroke-width="0.8"/>
<text x="318.7" y="270.5" font-size="6.5" text-anchor="end" font-weight="bold" dominant-baseline="central" stroke="#000" stroke-width="0.1">10</text>
<line x1="319.4" y1="250.8" x2="321.6" y2="250.8" stroke="#000" stroke-width="0.8"/>
<text x="318.7" y="250.8" font-size="6.5" text-anchor="end" font-weight="bold" dominant-baseline="central" stroke="#000" stroke-width="0.1">20</text>
<line x1="319.4" y1="231.1" x2="321.6" y2="231.1" stroke="#000" stroke-width="0.8"/>
<text x="318.7" y="231.1" font-size="6.5" text-anchor="end" font-weight="bold" dominant-baseline="central" stroke="#000" stroke-width="0.1">30</text>
<text x="305.7" y="260.5" font-size="7.2" text-anchor="middle" font-weight="bold" dominant-baseline="central" transform="rotate(-90 305.7 260.5)" stroke="#000" stroke-width="0.1">% ALDH + Cells</text>
<line x1="329.1" y1="290.2" x2="329.1" y2="292.2" stroke="#000" stroke-width="0.8"/>
<text x="329.5" y="295.8" font-size="7.3" text-anchor="end" font-weight="bold" dominant-baseline="central" transform="rotate(-45 329.5 295.8)" stroke="#000" stroke-width="0.1">DMSO</text>
<line x1="337.4" y1="290.2" x2="337.4" y2="292.2" stroke="#000" stroke-width="0.8"/>
<text x="337.8" y="295.8" font-size="7.3" text-anchor="end" font-weight="bold" dominant-baseline="central" transform="rotate(-45 337.8 295.8)" stroke="#000" stroke-width="0.1">IDH305</text>
<line x1="351.6" y1="290.2" x2="351.6" y2="292.2" stroke="#000" stroke-width="0.8"/>
<text x="352" y="295.8" font-size="7.3" text-anchor="end" font-weight="bold" dominant-baseline="central" transform="rotate(-45 352 295.8)" stroke="#000" stroke-width="0.1">DMSO</text>
<line x1="360.4" y1="290.2" x2="360.4" y2="292.2" stroke="#000" stroke-width="0.8"/>
<text x="360.8" y="295.8" font-size="7.3" text-anchor="end" font-weight="bold" dominant-baseline="central" transform="rotate(-45 360.8 295.8)" stroke="#000" stroke-width="0.1">IDH305</text>
<line x1="374.6" y1="290.2" x2="374.6" y2="292.2" stroke="#000" stroke-width="0.8"/>
<text x="375" y="295.8" font-size="7.3" text-anchor="end" font-weight="bold" dominant-baseline="central" transform="rotate(-45 375 295.8)" stroke="#000" stroke-width="0.1">DMSO</text>
<line x1="383.4" y1="290.2" x2="383.4" y2="292.2" stroke="#000" stroke-width="0.8"/>
<text x="383.8" y="295.8" font-size="7.3" text-anchor="end" font-weight="bold" dominant-baseline="central" transform="rotate(-45 383.8 295.8)" stroke="#000" stroke-width="0.1">IDH305</text>
<line x1="397.6" y1="290.2" x2="397.6" y2="292.2" stroke="#000" stroke-width="0.8"/>
<text x="398" y="295.8" font-size="7.3" text-anchor="end" font-weight="bold" dominant-baseline="central" transform="rotate(-45 398 295.8)" stroke="#000" stroke-width="0.1">DMSO</text>
<line x1="406.4" y1="290.2" x2="406.4" y2="292.2" stroke="#000" stroke-width="0.8"/>
<text x="406.8" y="295.8" font-size="7.3" text-anchor="end" font-weight="bold" dominant-baseline="central" transform="rotate(-45 406.8 295.8)" stroke="#000" stroke-width="0.1">IDH305</text>
<path d="M329.1 236.6V232.7H337.4V260.7" stroke="#000" stroke-width="0.7" fill="none"/>
<text x="333.5" y="227.4" font-size="4.75" text-anchor="middle" dominant-baseline="central" stroke="#000" stroke-width="0.1">P = 0.0043</text>
<path d="M374.6 237.7V232.7H383.4V257.4" stroke="#000" stroke-width="0.7" fill="none"/>
<text x="379" y="227.4" font-size="4.75" text-anchor="middle" dominant-baseline="central" stroke="#000" stroke-width="0.1">P = 0.0054</text>
<path d="M397.6 242.1V220.2H406.4V270.5" stroke="#000" stroke-width="0.7" fill="none"/>
<text x="402" y="215.1" font-size="4.75" text-anchor="middle" dominant-baseline="central" stroke="#000" stroke-width="0.1">P = 0.0003</text>
<text x="333.7" y="325.3" font-size="6.3" text-anchor="middle" dominant-baseline="central" stroke="#000" stroke-width="0.1">D458</text>
<text x="357.1" y="325.3" font-size="6.3" text-anchor="middle" dominant-baseline="central" stroke="#000" stroke-width="0.1">D425</text>
<text x="380.1" y="325.3" font-size="6.3" text-anchor="middle" dominant-baseline="central" stroke="#000" stroke-width="0.1">D458</text>
<text x="403.5" y="325.3" font-size="6.3" text-anchor="middle" dominant-baseline="central" stroke="#000" stroke-width="0.1">D425</text>
<line x1="324.9" y1="329.3" x2="365.4" y2="329.3" stroke="#000" stroke-width="0.6"/>
<line x1="370.7" y1="329.3" x2="411.9" y2="329.3" stroke="#000" stroke-width="0.6"/>
<text x="342.4" y="334.8" font-size="6.2" text-anchor="middle" dominant-baseline="central" stroke="#000" stroke-width="0.1">Sensitive</text>
<text x="390" y="334.8" font-size="6.3" text-anchor="middle" dominant-baseline="central" stroke="#000" stroke-width="0.1">IR resistant</text>
</g>
<g id="panelG">
<text x="435.3" y="215.3" font-size="16.8">G</text>
<clipPath id="clip474"><rect x="474.3" y="213.8" width="85.7" height="75.8"/></clipPath>
<g clip-path="url(#clip474)">
<line x1="475.1" y1="214.1" x2="503.6" y2="289.6" stroke="#000" stroke-width="1.25"/>
<line x1="475.1" y1="214.1" x2="560" y2="275.3" stroke="#6a2fb5" stroke-width="1.25"/>
<line x1="475.1" y1="214.1" x2="560" y2="269.6" stroke="#f4511e" stroke-width="1.25"/>
</g>
<circle cx="478.8" cy="216" r="1.25" fill="#f4511e"/>
<circle cx="493.4" cy="220" r="1.25" fill="#f4511e"/>
<circle cx="493.4" cy="223.8" r="1.25" fill="#6a2fb5"/>
<circle cx="516.9" cy="241.7" r="1.25" fill="#f4511e"/>
<circle cx="556.7" cy="286.6" r="1.25" fill="#6a2fb5"/>
<circle cx="556.7" cy="287.4" r="1.25" fill="#f4511e"/>
<circle cx="493.4" cy="269.6" r="1.25" fill="#000"/>
<circle cx="516.9" cy="287" r="1.25" fill="#000"/>
<rect x="474.3" y="213.8" width="85.7" height="75.8" fill="none" stroke="#000" stroke-width="0.9"/>
<line x1="477" y1="289.6" x2="477" y2="291.2" stroke="#000" stroke-width="0.6"/>
<text x="477" y="293.6" font-size="5" text-anchor="middle" font-weight="bold" dominant-baseline="central" stroke="#000" stroke-width="0.1">0</text>
<line x1="493" y1="289.6" x2="493" y2="291.2" stroke="#000" stroke-width="0.6"/>
<text x="493" y="293.6" font-size="5" text-anchor="middle" font-weight="bold" dominant-baseline="central" stroke="#000" stroke-width="0.1">10</text>
<line x1="509" y1="289.6" x2="509" y2="291.2" stroke="#000" stroke-width="0.6"/>
<text x="509" y="293.6" font-size="5" text-anchor="middle" font-weight="bold" dominant-baseline="central" stroke="#000" stroke-width="0.1">20</text>
<line x1="525" y1="289.6" x2="525" y2="291.2" stroke="#000" stroke-width="0.6"/>
<text x="525" y="293.6" font-size="5" text-anchor="middle" font-weight="bold" dominant-baseline="central" stroke="#000" stroke-width="0.1">30</text>
<line x1="541" y1="289.6" x2="541" y2="291.2" stroke="#000" stroke-width="0.6"/>
<text x="541" y="293.6" font-size="5" text-anchor="middle" font-weight="bold" dominant-baseline="central" stroke="#000" stroke-width="0.1">40</text>
<line x1="557" y1="289.6" x2="557" y2="291.2" stroke="#000" stroke-width="0.6"/>
<text x="557" y="293.6" font-size="5" text-anchor="middle" font-weight="bold" dominant-baseline="central" stroke="#000" stroke-width="0.1">50</text>
<text x="471.2" y="215" font-size="5" text-anchor="middle" font-weight="bold" dominant-baseline="central" transform="rotate(-90 471.2 215)" stroke="#000" stroke-width="0.1">0.0</text>
<text x="471.2" y="228.1" font-size="5" text-anchor="middle" font-weight="bold" dominant-baseline="central" transform="rotate(-90 471.2 228.1)" stroke="#000" stroke-width="0.1">-0.5</text>
<text x="471.2" y="241.2" font-size="5" text-anchor="middle" font-weight="bold" dominant-baseline="central" transform="rotate(-90 471.2 241.2)" stroke="#000" stroke-width="0.1">-1.0</text>
<text x="471.2" y="254.3" font-size="5" text-anchor="middle" font-weight="bold" dominant-baseline="central" transform="rotate(-90 471.2 254.3)" stroke="#000" stroke-width="0.1">-1.5</text>
<text x="471.2" y="267.4" font-size="5" text-anchor="middle" font-weight="bold" dominant-baseline="central" transform="rotate(-90 471.2 267.4)" stroke="#000" stroke-width="0.1">-2.0</text>
<text x="471.2" y="280.5" font-size="5" text-anchor="middle" font-weight="bold" dominant-baseline="central" transform="rotate(-90 471.2 280.5)" stroke="#000" stroke-width="0.1">-2.5</text>
<text x="465.4" y="248.6" font-size="5.4" text-anchor="middle" font-weight="bold" dominant-baseline="central" transform="rotate(-90 465.4 248.6)" stroke="#000" stroke-width="0.1">log fraction nonresponding</text>
<text x="518.9" y="299.6" font-size="5.45" text-anchor="middle" font-weight="bold" dominant-baseline="central" stroke="#000" stroke-width="0.1">dose (number of cells)</text>
<text x="531.6" y="249" font-size="5.25" dominant-baseline="central" stroke="#000" stroke-width="0.1">P=0.00132</text>
<text x="522.6" y="268" font-size="5.25" dominant-baseline="central" stroke="#000" stroke-width="0.1">P=0.0028</text>
<line x1="468.4" y1="306.4" x2="471.6" y2="306.4" stroke="#000" stroke-width="0.9"/>
<text x="473.8" y="306.4" font-size="5.2" font-weight="bold" dominant-baseline="central" stroke="#000" stroke-width="0.1">D458IR</text>
<line x1="501.4" y1="306.4" x2="505" y2="306.4" stroke="#6a2fb5" stroke-width="0.9"/>
<text x="506" y="306.4" font-size="5.2" font-weight="bold" dominant-baseline="central" stroke="#000" stroke-width="0.1">D458IR</text>
<text x="506" y="312.8" font-size="5.2" font-weight="bold" dominant-baseline="central" stroke="#000" stroke-width="0.1">IDH305</text>
<line x1="532.8" y1="306.4" x2="536.6" y2="306.4" stroke="#f4511e" stroke-width="0.9"/>
<text x="537.7" y="306.4" font-size="5.2" font-weight="bold" dominant-baseline="central" stroke="#000" stroke-width="0.1">D458IR</text>
<text x="537.7" y="312.8" font-size="5.2" font-weight="bold" dominant-baseline="central" stroke="#000" stroke-width="0.1">GSK321</text>
<clipPath id="clip584"><rect x="584.4" y="213.8" width="85.7" height="76.2"/></clipPath>
<g clip-path="url(#clip584)">
<line x1="585.2" y1="214.1" x2="607.3" y2="290" stroke="#000" stroke-width="1.25"/>
<line x1="585.2" y1="214.1" x2="635.5" y2="290" stroke="#22c022" stroke-width="1.25"/>
<line x1="585.2" y1="214.1" x2="668.6" y2="290" stroke="#1f77c8" stroke-width="1.25"/>
</g>
<circle cx="588.9" cy="217.1" r="1.25" fill="#22c022"/>
<circle cx="603.7" cy="217" r="1.25" fill="#1f77c8"/>
<circle cx="603.7" cy="234.4" r="1.25" fill="#22c022"/>
<circle cx="588.9" cy="224.6" r="1.25" fill="#000"/>
<circle cx="603.7" cy="268.6" r="1.25" fill="#000"/>
<circle cx="627.2" cy="285.8" r="1.25" fill="#1f77c8"/>
<circle cx="627.2" cy="287.4" r="1.25" fill="#22c022"/>
<circle cx="666.6" cy="287.2" r="1.25" fill="#1f77c8"/>
<rect x="584.4" y="213.8" width="85.7" height="76.2" fill="none" stroke="#000" stroke-width="0.9"/>
<line x1="586.9" y1="290" x2="586.9" y2="291.6" stroke="#000" stroke-width="0.6"/>
<text x="586.9" y="294" font-size="5" text-anchor="middle" font-weight="bold" dominant-baseline="central" stroke="#000" stroke-width="0.1">0</text>
<line x1="603" y1="290" x2="603" y2="291.6" stroke="#000" stroke-width="0.6"/>
<text x="603" y="294" font-size="5" text-anchor="middle" font-weight="bold" dominant-baseline="central" stroke="#000" stroke-width="0.1">10</text>
<line x1="619.1" y1="290" x2="619.1" y2="291.6" stroke="#000" stroke-width="0.6"/>
<text x="619.1" y="294" font-size="5" text-anchor="middle" font-weight="bold" dominant-baseline="central" stroke="#000" stroke-width="0.1">20</text>
<line x1="635.2" y1="290" x2="635.2" y2="291.6" stroke="#000" stroke-width="0.6"/>
<text x="635.2" y="294" font-size="5" text-anchor="middle" font-weight="bold" dominant-baseline="central" stroke="#000" stroke-width="0.1">30</text>
<line x1="651.3" y1="290" x2="651.3" y2="291.6" stroke="#000" stroke-width="0.6"/>
<text x="651.3" y="294" font-size="5" text-anchor="middle" font-weight="bold" dominant-baseline="central" stroke="#000" stroke-width="0.1">40</text>
<line x1="667.4" y1="290" x2="667.4" y2="291.6" stroke="#000" stroke-width="0.6"/>
<text x="667.4" y="294" font-size="5" text-anchor="middle" font-weight="bold" dominant-baseline="central" stroke="#000" stroke-width="0.1">50</text>
<text x="581.8" y="215" font-size="5" text-anchor="middle" font-weight="bold" dominant-baseline="central" transform="rotate(-90 581.8 215)" stroke="#000" stroke-width="0.1">0.0</text>
<text x="581.8" y="228.1" font-size="5" text-anchor="middle" font-weight="bold" dominant-baseline="central" transform="rotate(-90 581.8 228.1)" stroke="#000" stroke-width="0.1">-0.5</text>
<text x="581.8" y="241.2" font-size="5" text-anchor="middle" font-weight="bold" dominant-baseline="central" transform="rotate(-90 581.8 241.2)" stroke="#000" stroke-width="0.1">-1.0</text>
<text x="581.8" y="254.3" font-size="5" text-anchor="middle" font-weight="bold" dominant-baseline="central" transform="rotate(-90 581.8 254.3)" stroke="#000" stroke-width="0.1">-1.5</text>
<text x="581.8" y="267.4" font-size="5" text-anchor="middle" font-weight="bold" dominant-baseline="central" transform="rotate(-90 581.8 267.4)" stroke="#000" stroke-width="0.1">-2.0</text>
<text x="581.8" y="280.5" font-size="5" text-anchor="middle" font-weight="bold" dominant-baseline="central" transform="rotate(-90 581.8 280.5)" stroke="#000" stroke-width="0.1">-2.5</text>
<text x="576" y="248.8" font-size="5.4" text-anchor="middle" font-weight="bold" dominant-baseline="central" transform="rotate(-90 576 248.8)" stroke="#000" stroke-width="0.1">log fraction nonresponding</text>
<text x="629.8" y="300" font-size="5.45" text-anchor="middle" font-weight="bold" dominant-baseline="central" stroke="#000" stroke-width="0.1">dose (number of cells)</text>
<text x="641.1" y="264.1" font-size="5.25" dominant-baseline="central" stroke="#000" stroke-width="0.1">P=0.00274</text>
<line x1="583.4" y1="307" x2="587.3" y2="307" stroke="#000" stroke-width="0.9"/>
<text x="589.6" y="307" font-size="5.2" font-weight="bold" dominant-baseline="central" stroke="#000" stroke-width="0.1">D425IR</text>
<line x1="614.5" y1="307" x2="618.6" y2="307" stroke="#22c022" stroke-width="0.9"/>
<text x="620.2" y="307" font-size="5.2" font-weight="bold" dominant-baseline="central" stroke="#000" stroke-width="0.1">D425IR</text>
<text x="620.2" y="313.4" font-size="5.2" font-weight="bold" dominant-baseline="central" stroke="#000" stroke-width="0.1">IDH305</text>
<line x1="645.1" y1="307" x2="649.6" y2="307" stroke="#1f77c8" stroke-width="0.9"/>
<text x="650.9" y="307" font-size="5.2" font-weight="bold" dominant-baseline="central" stroke="#000" stroke-width="0.1">D425IR</text>
<text x="650.9" y="313.4" font-size="5.2" font-weight="bold" dominant-baseline="central" stroke="#000" stroke-width="0.1">GSK321</text>
</g>
<g id="panelH">
<text x="150.3" y="369.9" font-size="16.8">H</text>
<clipPath id="cliph"><rect x="200.6" y="391.4" width="90" height="62.4"/></clipPath>
<g clip-path="url(#cliph)">
<line x1="200.6" y1="394.4" x2="289.8" y2="427.22" stroke="#5cc6d0" stroke-width="0.9"/>
<line x1="200.6" y1="394.4" x2="289.8" y2="447.02" stroke="#a78bdb" stroke-width="0.9"/>
<line x1="200.6" y1="394.4" x2="284.23" y2="453.8" stroke="#f9a27c" stroke-width="0.9"/>
<line x1="200.6" y1="394.4" x2="274.19" y2="453.8" stroke="#7c7c7c" stroke-width="0.9"/>
</g>
<path d="M222.9 398.1V406.32 M221.3 398.1H224.5 M221.3 406.32H224.5" stroke="#2aa3b0" stroke-width="0.9" fill="none"/>
<circle cx="222.9" cy="402.28" r="0.8" fill="#2aa3b0"/>
<path d="M222.9 401.86V408.24 M221.3 401.86H224.5 M221.3 408.24H224.5" stroke="#2a2a7a" stroke-width="0.9" fill="none"/>
<circle cx="222.9" cy="403.93" r="0.8" fill="#2a2a7a"/>
<path d="M222.9 406.32V415.11 M221.3 406.32H224.5 M221.3 415.11H224.5" stroke="#f47a3a" stroke-width="0.9" fill="none"/>
<circle cx="222.9" cy="411.31" r="0.8" fill="#f47a3a"/>
<path d="M222.9 404.75V412.63 M221.3 404.75H224.5 M221.3 412.63H224.5" stroke="#a78bdb" stroke-width="0.9" fill="none"/>
<circle cx="222.9" cy="408.24" r="0.8" fill="#a78bdb"/>
<path d="M245.2 416.12V428.04 M243.6 416.12H246.8 M243.6 428.04H246.8" stroke="#f47a3a" stroke-width="0.9" fill="none"/>
<circle cx="245.2" cy="422.08" r="0.8" fill="#f47a3a"/>
<path d="M245.2 426.12V432.43 M243.6 426.12H246.8 M243.6 432.43H246.8" stroke="#2aa3b0" stroke-width="0.9" fill="none"/>
<circle cx="245.2" cy="428.95" r="0.8" fill="#2aa3b0"/>
<path d="M245.2 428.04V438.39 M243.6 428.04H246.8 M243.6 438.39H246.8" stroke="#2a2a7a" stroke-width="0.9" fill="none"/>
<circle cx="245.2" cy="431.74" r="0.8" fill="#2a2a7a"/>
<path d="M245.2 431.11V439.96 M243.6 431.11H246.8 M243.6 439.96H246.8" stroke="#a78bdb" stroke-width="0.9" fill="none"/>
<circle cx="245.2" cy="434.91" r="0.8" fill="#a78bdb"/>
<line x1="200.6" y1="394" x2="200.6" y2="454.25" stroke="#000" stroke-width="0.9"/>
<line x1="200.15" y1="453.8" x2="290.1" y2="453.8" stroke="#000" stroke-width="0.9"/>
<line x1="198.2" y1="394.4" x2="200.6" y2="394.4" stroke="#000" stroke-width="0.8"/>
<text x="197.6" y="394.4" font-size="7.2" text-anchor="end" font-weight="bold" dominant-baseline="central" stroke="#000" stroke-width="0.1">1</text>
<line x1="198.2" y1="414.2" x2="200.6" y2="414.2" stroke="#000" stroke-width="0.8"/>
<text x="197.6" y="414.2" font-size="7.2" text-anchor="end" font-weight="bold" dominant-baseline="central" stroke="#000" stroke-width="0.1">0.1</text>
<line x1="198.2" y1="434" x2="200.6" y2="434" stroke="#000" stroke-width="0.8"/>
<text x="197.6" y="434" font-size="7.2" text-anchor="end" font-weight="bold" dominant-baseline="central" stroke="#000" stroke-width="0.1">0.01</text>
<line x1="198.2" y1="453.8" x2="200.6" y2="453.8" stroke="#000" stroke-width="0.8"/>
<text x="197.6" y="453.8" font-size="7.2" text-anchor="end" font-weight="bold" dominant-baseline="central" stroke="#000" stroke-width="0.1">0.001</text>
<line x1="200.6" y1="453.8" x2="200.6" y2="456.1" stroke="#000" stroke-width="0.8"/>
<text x="200.6" y="461.6" font-size="7" text-anchor="middle" font-weight="bold" dominant-baseline="central" stroke="#000" stroke-width="0.1">0</text>
<line x1="222.9" y1="453.8" x2="222.9" y2="456.1" stroke="#000" stroke-width="0.8"/>
<text x="222.9" y="461.6" font-size="7" text-anchor="middle" font-weight="bold" dominant-baseline="central" stroke="#000" stroke-width="0.1">2</text>
<line x1="245.2" y1="453.8" x2="245.2" y2="456.1" stroke="#000" stroke-width="0.8"/>
<text x="245.2" y="461.6" font-size="7" text-anchor="middle" font-weight="bold" dominant-baseline="central" stroke="#000" stroke-width="0.1">4</text>
<line x1="267.5" y1="453.8" x2="267.5" y2="456.1" stroke="#000" stroke-width="0.8"/>
<text x="267.5" y="461.6" font-size="7" text-anchor="middle" font-weight="bold" dominant-baseline="central" stroke="#000" stroke-width="0.1">6</text>
<line x1="289.8" y1="453.8" x2="289.8" y2="456.1" stroke="#000" stroke-width="0.8"/>
<text x="289.8" y="461.6" font-size="7" text-anchor="middle" font-weight="bold" dominant-baseline="central" stroke="#000" stroke-width="0.1">8</text>
<text x="245.4" y="471.4" font-size="7.15" text-anchor="middle" font-weight="bold" dominant-baseline="central" stroke="#000" stroke-width="0.1">IR (Gy) Dose</text>
<text x="173.5" y="422.5" font-size="7.15" text-anchor="middle" font-weight="bold" dominant-baseline="central" transform="rotate(-90 173.5 422.5)" stroke="#000" stroke-width="0.1">Survival  Fraction</text>
<line x1="236.1" y1="378.1" x2="242.6" y2="378.1" stroke="#a78bdb" stroke-width="0.9"/>
<text x="245.9" y="378.1" font-size="7.15" dominant-baseline="central" stroke="#000" stroke-width="0.1">D458 DMSO</text>
<line x1="236.1" y1="386.5" x2="242.6" y2="386.5" stroke="#5cc6d0" stroke-width="0.9"/>
<text x="245.9" y="386.5" font-size="7.15" dominant-baseline="central" stroke="#000" stroke-width="0.1">D458IR DMSO</text>
<line x1="236.1" y1="394.9" x2="242.6" y2="394.9" stroke="#f9a27c" stroke-width="0.9"/>
<text x="245.9" y="394.9" font-size="7.15" dominant-baseline="central" stroke="#000" stroke-width="0.1">D458IR IDH305</text>
<line x1="236.1" y1="403.1" x2="242.6" y2="403.1" stroke="#7c7c7c" stroke-width="0.9"/>
<text x="245.9" y="403.1" font-size="7.15" dominant-baseline="central" stroke="#000" stroke-width="0.1">D458IR GSK321</text>
<rect x="359.9" y="429.3" width="7" height="26" fill="#b7a3e2" stroke="#8a68cf" stroke-width="0.8"/>
<rect x="369.9" y="437.62" width="7" height="17.68" fill="#74ced6" stroke="#35a4b2" stroke-width="0.8"/>
<path d="M373.4 436.58V438.66 M371.9 436.58H374.9 M371.9 438.66H374.9" stroke="#35a4b2" stroke-width="0.7" fill="none"/>
<rect x="380.1" y="414.22" width="7" height="41.08" fill="#f9ab8c" stroke="#f27b52" stroke-width="0.8"/>
<path d="M383.6 406.94V421.5 M382.1 406.94H385.1 M382.1 421.5H385.1" stroke="#f06a6a" stroke-width="0.7" fill="none"/>
<rect x="390.1" y="405.9" width="7" height="49.4" fill="#a4a4a4" stroke="#9a9a9a" stroke-width="0.8"/>
<circle cx="362.2" cy="429.1" r="0.5" fill="#7a5ac0"/>
<circle cx="392.4" cy="405.6" r="0.5" fill="#6a6a6a"/>
<circle cx="372.2" cy="437.42" r="0.6" fill="none" stroke="#2a8a98" stroke-width="0.3"/>
<circle cx="363.4" cy="429.1" r="0.5" fill="#7a5ac0"/>
<circle cx="393.6" cy="405.6" r="0.5" fill="#6a6a6a"/>
<circle cx="373.4" cy="437.42" r="0.6" fill="none" stroke="#2a8a98" stroke-width="0.3"/>
<circle cx="364.6" cy="429.1" r="0.5" fill="#7a5ac0"/>
<circle cx="394.8" cy="405.6" r="0.5" fill="#6a6a6a"/>
<circle cx="374.6" cy="437.42" r="0.6" fill="none" stroke="#2a8a98" stroke-width="0.3"/>
<path d="M383.6 405.94l1 1.8h-2z" stroke="#f06a6a" stroke-width="0.1" fill="#f06a6a"/>
<path d="M383.6 420.5l1 1.8h-2z" stroke="#f06a6a" stroke-width="0.1" fill="#f06a6a"/>
<line x1="356.5" y1="389.9" x2="356.5" y2="455.75" stroke="#000" stroke-width="0.9"/>
<line x1="356.05" y1="455.3" x2="399.4" y2="455.3" stroke="#000" stroke-width="0.9"/>
<line x1="353.9" y1="455.3" x2="356.5" y2="455.3" stroke="#000" stroke-width="0.8"/>
<text x="353.3" y="455.3" font-size="8.4" text-anchor="end" font-weight="bold" dominant-baseline="central" stroke="#000" stroke-width="0.1">0.0</text>
<line x1="353.9" y1="442.3" x2="356.5" y2="442.3" stroke="#000" stroke-width="0.8"/>
<text x="353.3" y="442.3" font-size="8.4" text-anchor="end" font-weight="bold" dominant-baseline="central" stroke="#000" stroke-width="0.1">0.5</text>
<line x1="353.9" y1="429.3" x2="356.5" y2="429.3" stroke="#000" stroke-width="0.8"/>
<text x="353.3" y="429.3" font-size="8.4" text-anchor="end" font-weight="bold" dominant-baseline="central" stroke="#000" stroke-width="0.1">1.0</text>
<line x1="353.9" y1="416.3" x2="356.5" y2="416.3" stroke="#000" stroke-width="0.8"/>
<text x="353.3" y="416.3" font-size="8.4" text-anchor="end" font-weight="bold" dominant-baseline="central" stroke="#000" stroke-width="0.1">1.5</text>
<line x1="353.9" y1="403.3" x2="356.5" y2="403.3" stroke="#000" stroke-width="0.8"/>
<text x="353.3" y="403.3" font-size="8.4" text-anchor="end" font-weight="bold" dominant-baseline="central" stroke="#000" stroke-width="0.1">2.0</text>
<line x1="353.9" y1="390.3" x2="356.5" y2="390.3" stroke="#000" stroke-width="0.8"/>
<text x="353.3" y="390.3" font-size="8.4" text-anchor="end" font-weight="bold" dominant-baseline="central" stroke="#000" stroke-width="0.1">2.5</text>
<line x1="378.4" y1="455.3" x2="378.4" y2="457.7" stroke="#000" stroke-width="0.8"/>
<text x="369.1" y="463.2" font-size="7.7" font-weight="bold" dominant-baseline="central" stroke="#000" stroke-width="0.1">SF<tspan font-size="5.7" dy="2.6">0.1</tspan></text>
<text x="331.2" y="423.1" font-size="7.95" text-anchor="middle" font-weight="bold" dominant-baseline="central" transform="rotate(-90 331.2 423.1)" stroke="#000" stroke-width="0.1">Sensitivity Enhancement Ratio (SER)</text>
<path d="M373.6 387.8V383.6H393.8V387.8" stroke="#000" stroke-width="0.8" fill="none"/>
<text x="383.6" y="378.4" font-size="5.2" text-anchor="middle" dominant-baseline="central" stroke="#000" stroke-width="0.1">P &lt; 0.0001</text>
<path d="M373.6 435.1V396.5H383.6V404.4" stroke="#000" stroke-width="0.8" fill="none"/>
<text x="378.8" y="392.3" font-size="5.2" text-anchor="middle" dominant-baseline="central" stroke="#000" stroke-width="0.1">P = 0.0001</text>
<rect x="403" y="421.5" width="6.8" height="6.8" fill="#b7a3e2"/>
<text x="413.5" y="424.9" font-size="8" dominant-baseline="central" stroke="#000" stroke-width="0.1">D458 DMSO</text>
<rect x="403" y="430.1" width="6.8" height="6.8" fill="#74ced6"/>
<text x="413.5" y="433.5" font-size="8" dominant-baseline="central" stroke="#000" stroke-width="0.1">D458IR DMSO</text>
<rect x="403" y="438.8" width="6.8" height="6.8" fill="#f9ab8c"/>
<text x="413.5" y="442.2" font-size="8" dominant-baseline="central" stroke="#000" stroke-width="0.1">D458IR IDH305</text>
<rect x="403" y="447.5" width="6.8" height="6.8" fill="#a4a4a4"/>
<text x="413.5" y="450.9" font-size="8" dominant-baseline="central" stroke="#000" stroke-width="0.1">D458IR GSK321</text>
</g>
<g id="panelI">
<text x="477.5" y="367.9" font-size="16.8">I</text>
<path d="M544.97 396.18l1.15 -2.07h-2.3z" stroke="#15158c" stroke-width="0.1" fill="#15158c"/>
<path d="M545.8 396.62l1.15 -2.07h-2.3z" stroke="#15158c" stroke-width="0.1" fill="#15158c"/>
<path d="M546.48 396.58l1.15 -2.07h-2.3z" stroke="#15158c" stroke-width="0.1" fill="#15158c"/>
<path d="M546.78 395.57l1.15 -2.07h-2.3z" stroke="#15158c" stroke-width="0.1" fill="#15158c"/>
<path d="M548.05 395.98l1.15 -2.07h-2.3z" stroke="#15158c" stroke-width="0.1" fill="#15158c"/>
<path d="M548.74 394.8l1.15 -2.07h-2.3z" stroke="#15158c" stroke-width="0.1" fill="#15158c"/>
<path d="M549.2 396.29l1.15 -2.07h-2.3z" stroke="#15158c" stroke-width="0.1" fill="#15158c"/>
<path d="M549.97 397.01l1.15 -2.07h-2.3z" stroke="#15158c" stroke-width="0.1" fill="#15158c"/>
<path d="M550.37 396.23l1.15 -2.07h-2.3z" stroke="#15158c" stroke-width="0.1" fill="#15158c"/>
<path d="M551.25 397.77l1.15 -2.07h-2.3z" stroke="#15158c" stroke-width="0.1" fill="#15158c"/>
<path d="M552.26 394.9l1.15 -2.07h-2.3z" stroke="#15158c" stroke-width="0.1" fill="#15158c"/>
<path d="M553 394.86l1.15 -2.07h-2.3z" stroke="#15158c" stroke-width="0.1" fill="#15158c"/>
<path d="M553.61 394.83l1.15 -2.07h-2.3z" stroke="#15158c" stroke-width="0.1" fill="#15158c"/>
<path d="M553.96 396.47l1.15 -2.07h-2.3z" stroke="#15158c" stroke-width="0.1" fill="#15158c"/>
<path d="M554.81 395.02l1.15 -2.07h-2.3z" stroke="#15158c" stroke-width="0.1" fill="#15158c"/>
<path d="M555.99 396.47l1.15 -2.07h-2.3z" stroke="#15158c" stroke-width="0.1" fill="#15158c"/>
<line x1="544" y1="393.6" x2="556.4" y2="393.6" stroke="#15158c" stroke-width="1.4"/>
<line x1="562" y1="430.5" x2="562" y2="448.1" stroke="#111" stroke-width="0.7"/>
<line x1="559" y1="430.5" x2="565" y2="430.5" stroke="#111" stroke-width="0.7"/>
<line x1="559" y1="448.1" x2="565" y2="448.1" stroke="#111" stroke-width="0.7"/>
<rect x="556.9" y="435.5" width="11" height="7.5" fill="#cfa2ec" stroke="#111" stroke-width="0.7"/>
<line x1="556.9" y1="438.6" x2="567.9" y2="438.6" stroke="#111" stroke-width="0.7"/>
<rect x="556.25" y="431.65" width="1.9" height="1.9" fill="#8a22cc"/>
<rect x="566.05" y="430.05" width="1.9" height="1.9" fill="#8a22cc"/>
<rect x="556.05" y="435.25" width="1.9" height="1.9" fill="#8a22cc"/>
<rect x="560.85" y="435.05" width="1.9" height="1.9" fill="#8a22cc"/>
<rect x="566.25" y="434.45" width="1.9" height="1.9" fill="#8a22cc"/>
<rect x="556.45" y="438.65" width="1.9" height="1.9" fill="#8a22cc"/>
<rect x="561.45" y="439.25" width="1.9" height="1.9" fill="#8a22cc"/>
<rect x="566.05" y="438.25" width="1.9" height="1.9" fill="#8a22cc"/>
<rect x="556.05" y="442.05" width="1.9" height="1.9" fill="#8a22cc"/>
<rect x="560.65" y="442.45" width="1.9" height="1.9" fill="#8a22cc"/>
<rect x="566.25" y="441.25" width="1.9" height="1.9" fill="#8a22cc"/>
<rect x="561.05" y="445.45" width="1.9" height="1.9" fill="#8a22cc"/>
<rect x="561.45" y="430.65" width="1.9" height="1.9" fill="#8a22cc"/>
<rect x="558.65" y="437.05" width="1.9" height="1.9" fill="#8a22cc"/>
<rect x="564.05" y="440.05" width="1.9" height="1.9" fill="#8a22cc"/>
<rect x="563.65" y="435.45" width="1.9" height="1.9" fill="#8a22cc"/>
<rect x="558.45" y="440.65" width="1.9" height="1.9" fill="#8a22cc"/>
<line x1="574.5" y1="396.9" x2="574.5" y2="410.1" stroke="#111" stroke-width="0.7"/>
<line x1="571.6" y1="396.9" x2="577.4" y2="396.9" stroke="#111" stroke-width="0.7"/>
<line x1="571.6" y1="410.1" x2="577.4" y2="410.1" stroke="#111" stroke-width="0.7"/>
<rect x="569.2" y="398.5" width="11.3" height="5.3" fill="#e7a6e0" stroke="#111" stroke-width="0.7"/>
<line x1="569.2" y1="401" x2="580.5" y2="401" stroke="#111" stroke-width="0.7"/>
<path d="M573.8 396.55l0.85 1.53h-1.7z" stroke="#d23cc4" stroke-width="0.1" fill="#d23cc4"/>
<path d="M570.8 400.55l0.85 1.53h-1.7z" stroke="#d23cc4" stroke-width="0.1" fill="#d23cc4"/>
<path d="M572.8 400.95l0.85 1.53h-1.7z" stroke="#d23cc4" stroke-width="0.1" fill="#d23cc4"/>
<path d="M575 400.35l0.85 1.53h-1.7z" stroke="#d23cc4" stroke-width="0.1" fill="#d23cc4"/>
<path d="M577.2 400.75l0.85 1.53h-1.7z" stroke="#d23cc4" stroke-width="0.1" fill="#d23cc4"/>
<path d="M579.2 399.75l0.85 1.53h-1.7z" stroke="#d23cc4" stroke-width="0.1" fill="#d23cc4"/>
<path d="M574.6 405.95l0.85 1.53h-1.7z" stroke="#d23cc4" stroke-width="0.1" fill="#d23cc4"/>
<path d="M574.6 408.75l0.85 1.53h-1.7z" stroke="#d23cc4" stroke-width="0.1" fill="#d23cc4"/>
<path d="M571.6 398.75l0.85 1.53h-1.7z" stroke="#d23cc4" stroke-width="0.1" fill="#d23cc4"/>
<path d="M578 398.55l0.85 1.53h-1.7z" stroke="#d23cc4" stroke-width="0.1" fill="#d23cc4"/>
<line x1="587.1" y1="405.4" x2="587.1" y2="417.9" stroke="#111" stroke-width="0.7"/>
<line x1="584.2" y1="405.4" x2="590" y2="405.4" stroke="#111" stroke-width="0.7"/>
<line x1="584.2" y1="417.9" x2="590" y2="417.9" stroke="#111" stroke-width="0.7"/>
<rect x="581.4" y="407.9" width="11.3" height="9.4" fill="#f7b9b2" stroke="#111" stroke-width="0.7"/>
<line x1="581.4" y1="409.6" x2="592.7" y2="409.6" stroke="#111" stroke-width="0.7"/>
<path d="M586.6 406.65l0.85 -1.53h-1.7z" stroke="#f2665c" stroke-width="0.1" fill="#f2665c"/>
<path d="M582.2 409.25l0.85 -1.53h-1.7z" stroke="#f2665c" stroke-width="0.1" fill="#f2665c"/>
<path d="M591.6 409.05l0.85 -1.53h-1.7z" stroke="#f2665c" stroke-width="0.1" fill="#f2665c"/>
<path d="M584.6 411.45l0.85 -1.53h-1.7z" stroke="#f2665c" stroke-width="0.1" fill="#f2665c"/>
<path d="M589.6 411.25l0.85 -1.53h-1.7z" stroke="#f2665c" stroke-width="0.1" fill="#f2665c"/>
<path d="M587.2 413.25l0.85 -1.53h-1.7z" stroke="#f2665c" stroke-width="0.1" fill="#f2665c"/>
<path d="M582.4 417.45l0.85 -1.53h-1.7z" stroke="#f2665c" stroke-width="0.1" fill="#f2665c"/>
<path d="M585.8 418.05l0.85 -1.53h-1.7z" stroke="#f2665c" stroke-width="0.1" fill="#f2665c"/>
<path d="M589.4 417.85l0.85 -1.53h-1.7z" stroke="#f2665c" stroke-width="0.1" fill="#f2665c"/>
<path d="M592 417.05l0.85 -1.53h-1.7z" stroke="#f2665c" stroke-width="0.1" fill="#f2665c"/>
<line x1="536.9" y1="388.8" x2="536.9" y2="451.25" stroke="#000" stroke-width="0.9"/>
<line x1="536.45" y1="450.8" x2="599.4" y2="450.8" stroke="#000" stroke-width="0.9"/>
<line x1="534.5" y1="389.2" x2="536.9" y2="389.2" stroke="#000" stroke-width="0.8"/>
<text x="534.3" y="389.2" font-size="7" text-anchor="end" font-weight="bold" dominant-baseline="central" stroke="#000" stroke-width="0.1">10<tspan font-size="4.6" dy="-2.6">6</tspan></text>
<line x1="534.5" y1="420" x2="536.9" y2="420" stroke="#000" stroke-width="0.8"/>
<text x="534.3" y="420" font-size="7" text-anchor="end" font-weight="bold" dominant-baseline="central" stroke="#000" stroke-width="0.1">10<tspan font-size="4.6" dy="-2.6">5</tspan></text>
<line x1="534.5" y1="450.8" x2="536.9" y2="450.8" stroke="#000" stroke-width="0.8"/>
<text x="534.3" y="450.8" font-size="7" text-anchor="end" font-weight="bold" dominant-baseline="central" stroke="#000" stroke-width="0.1">10<tspan font-size="4.6" dy="-2.6">4</tspan></text>
<line x1="535.6" y1="441.53" x2="536.9" y2="441.53" stroke="#000" stroke-width="0.4"/>
<line x1="535.6" y1="436.1" x2="536.9" y2="436.1" stroke="#000" stroke-width="0.4"/>
<line x1="535.6" y1="432.26" x2="536.9" y2="432.26" stroke="#000" stroke-width="0.4"/>
<line x1="535.6" y1="429.27" x2="536.9" y2="429.27" stroke="#000" stroke-width="0.4"/>
<line x1="535.6" y1="426.83" x2="536.9" y2="426.83" stroke="#000" stroke-width="0.4"/>
<line x1="535.6" y1="424.77" x2="536.9" y2="424.77" stroke="#000" stroke-width="0.4"/>
<line x1="535.6" y1="422.98" x2="536.9" y2="422.98" stroke="#000" stroke-width="0.4"/>
<line x1="535.6" y1="421.41" x2="536.9" y2="421.41" stroke="#000" stroke-width="0.4"/>
<line x1="535.6" y1="410.73" x2="536.9" y2="410.73" stroke="#000" stroke-width="0.4"/>
<line x1="535.6" y1="405.3" x2="536.9" y2="405.3" stroke="#000" stroke-width="0.4"/>
<line x1="535.6" y1="401.46" x2="536.9" y2="401.46" stroke="#000" stroke-width="0.4"/>
<line x1="535.6" y1="398.47" x2="536.9" y2="398.47" stroke="#000" stroke-width="0.4"/>
<line x1="535.6" y1="396.03" x2="536.9" y2="396.03" stroke="#000" stroke-width="0.4"/>
<line x1="535.6" y1="393.97" x2="536.9" y2="393.97" stroke="#000" stroke-width="0.4"/>
<line x1="535.6" y1="392.18" x2="536.9" y2="392.18" stroke="#000" stroke-width="0.4"/>
<line x1="535.6" y1="390.61" x2="536.9" y2="390.61" stroke="#000" stroke-width="0.4"/>
<text x="515.5" y="418.4" font-size="7.4" text-anchor="middle" font-weight="bold" dominant-baseline="central" transform="rotate(-90 515.5 418.4)" stroke="#000" stroke-width="0.1">Avg Object Area µm2</text>
<line x1="549.4" y1="450.8" x2="549.4" y2="453" stroke="#000" stroke-width="0.8"/>
<text x="550.3" y="457.2" font-size="7.95" text-anchor="end" font-weight="bold" dominant-baseline="central" transform="rotate(-45 550.3 457.2)" stroke="#000" stroke-width="0.1">DMSO</text>
<line x1="562" y1="450.8" x2="562" y2="453" stroke="#000" stroke-width="0.8"/>
<text x="562.9" y="457.2" font-size="7.95" text-anchor="end" font-weight="bold" dominant-baseline="central" transform="rotate(-45 562.9 457.2)" stroke="#000" stroke-width="0.1">IDH1-13</text>
<line x1="574.5" y1="450.8" x2="574.5" y2="453" stroke="#000" stroke-width="0.8"/>
<text x="575.4" y="457.2" font-size="7.95" text-anchor="end" font-weight="bold" dominant-baseline="central" transform="rotate(-45 575.4 457.2)" stroke="#000" stroke-width="0.1">2mM αKG</text>
<line x1="587.1" y1="450.8" x2="587.1" y2="453" stroke="#000" stroke-width="0.8"/>
<text x="588" y="457.2" font-size="7.95" text-anchor="end" font-weight="bold" dominant-baseline="central" transform="rotate(-45 588 457.2)" stroke="#000" stroke-width="0.1">IDH1-13 + 2mM αKG</text>
<path d="M549.4 358.3V339.2H587.1V342.5" stroke="#000" stroke-width="0.9" fill="none"/>
<text x="568.5" y="333.4" font-size="7.63" text-anchor="middle" dominant-baseline="central" stroke="#000" stroke-width="0.1">P &lt; 0.0001</text>
<path d="M562 358.3V354.8H587.1V402.1" stroke="#000" stroke-width="0.9" fill="none"/>
<text x="574.4" y="348.6" font-size="7.63" text-anchor="middle" dominant-baseline="central" stroke="#000" stroke-width="0.1">P &lt; 0.0001</text>
<path d="M549.4 373.5V370H574.5V373.5" stroke="#000" stroke-width="0.9" fill="none"/>
<text x="562.1" y="363.9" font-size="7.63" text-anchor="middle" dominant-baseline="central" stroke="#000" stroke-width="0.1">P &lt; 0.0001</text>
<path d="M549.4 388.7V385.5H562V429.9" stroke="#000" stroke-width="0.9" fill="none"/>
<text x="555.7" y="379.3" font-size="7.63" text-anchor="middle" dominant-baseline="central" stroke="#000" stroke-width="0.1">P &lt; 0.0001</text>
<rect x="604.3" y="412" width="6.3" height="6.3" fill="#6a78d0" stroke="#2a3db0" stroke-width="0.5"/>
<text x="614.4" y="415.1" font-size="7.45" dominant-baseline="central" stroke="#000" stroke-width="0.1">DMSO</text>
<rect x="604.3" y="420.8" width="6.3" height="6.3" fill="#c98ae8" stroke="#8a30c0" stroke-width="0.5"/>
<text x="614.4" y="423.9" font-size="7.45" dominant-baseline="central" stroke="#000" stroke-width="0.1">IDH1-13</text>
<rect x="604.3" y="429.3" width="6.3" height="6.3" fill="#e6a3de" stroke="#b050a8" stroke-width="0.5"/>
<text x="614.4" y="432.4" font-size="7.45" dominant-baseline="central" stroke="#000" stroke-width="0.1">2mM αKG</text>
<rect x="604.3" y="438.1" width="6.3" height="6.3" fill="#f6b3ac" stroke="#d06860" stroke-width="0.5"/>
<text x="614.4" y="441.2" font-size="7.45" dominant-baseline="central" stroke="#000" stroke-width="0.1">IDH1-13 + 2mM αKG</text>
</g>
<g id="panelJ">
<text x="0.4" y="535.2" font-size="16.8">J</text>
<path d="M23.1 641.6 C23.5 626 34 615.3 49.4 615.3 C62 615.3 72 621.5 82.3 626.3 C95 632.2 104 638 115.1 643.8 C125 649 133 652.5 139.2 656.9 C144.5 660.8 146.6 666 146.2 672.3 C145.8 681 144.5 688 141.4 694.2 C137.5 702 131.5 706.5 123.9 708.4 C115 710.4 106 710.6 97.6 709.5 C85 707.8 74.5 704 64.7 698.5 C54 692.4 45 687.5 38.5 681 C31.5 674 27 668.5 25.3 661.3 C23.8 655 23 648.5 23.1 641.6Z" stroke="none" stroke-width="0" fill="#e8e8e8"/>
<path d="M23.1 641.6 C23.5 626 34 615.3 49.4 615.3 C62 615.3 72 621.5 82.3 626.3 C95 632.2 104 638 115.1 643.8 C125 649 133 652.5 139.2 656.9 C144.5 660.8 146.6 666 146.2 672.3 C145.8 681 144.5 688 141.4 694.2 C137.5 702 131.5 706.5 123.9 708.4 C115 710.4 106 710.6 97.6 709.5 C85 707.8 74.5 704 64.7 698.5 C54 692.4 45 687.5 38.5 681 C31.5 674 27 668.5 25.3 661.3 C23.8 655 23 648.5 23.1 641.6Z" stroke="none" stroke-width="0" fill="#efefef" transform="translate(85 663.5) scale(0.9 0.88) translate(-85 -663.5)"/>
<path d="M55.27 626.91L39.39 648.09A1.9 1.9 0 0 1 36.35 645.81L52.23 624.63A1.9 1.9 0 0 1 55.27 626.91Z" stroke="#fbfbfb" stroke-width="1.9" fill="none" stroke-linejoin="round"/>
<path d="M60.58 639.39L43.9 661.63A1.9 1.9 0 0 1 40.86 659.35L57.54 637.11A1.9 1.9 0 0 1 60.58 639.39Z" stroke="#fbfbfb" stroke-width="1.9" fill="none" stroke-linejoin="round"/>
<path d="M77.01 637.05L59.53 660.35A1.9 1.9 0 0 1 56.49 658.07L73.97 634.77A1.9 1.9 0 0 1 77.01 637.05Z" stroke="#fbfbfb" stroke-width="1.9" fill="none" stroke-linejoin="round"/>
<path d="M81.59 650.49L63.87 674.11A1.9 1.9 0 0 1 60.83 671.83L78.55 648.21A1.9 1.9 0 0 1 81.59 650.49Z" stroke="#fbfbfb" stroke-width="1.9" fill="none" stroke-linejoin="round"/>
<path d="M97.3 649.1L80.38 671.66A1.9 1.9 0 0 1 77.34 669.38L94.26 646.82A1.9 1.9 0 0 1 97.3 649.1Z" stroke="#fbfbfb" stroke-width="1.9" fill="none" stroke-linejoin="round"/>
<path d="M101.73 662.75L85.61 684.25A1.9 1.9 0 0 1 82.57 681.97L98.69 660.47A1.9 1.9 0 0 1 101.73 662.75Z" stroke="#fbfbfb" stroke-width="1.9" fill="none" stroke-linejoin="round"/>
<path d="M116.9 662.08L101.58 682.5A1.9 1.9 0 0 1 98.54 680.22L113.86 659.8A1.9 1.9 0 0 1 116.9 662.08Z" stroke="#fbfbfb" stroke-width="1.9" fill="none" stroke-linejoin="round"/>
<path d="M121.86 675.02L107.34 694.38A1.9 1.9 0 0 1 104.3 692.1L118.82 672.74A1.9 1.9 0 0 1 121.86 675.02Z" stroke="#fbfbfb" stroke-width="1.9" fill="none" stroke-linejoin="round"/>
<path d="M136.5 675.06L122.78 693.35A1.9 1.9 0 0 1 119.74 691.07L133.46 672.78A1.9 1.9 0 0 1 136.5 675.06Z" stroke="#fbfbfb" stroke-width="1.9" fill="none" stroke-linejoin="round"/>
<text x="87.5" y="546.7" font-size="8.85" text-anchor="middle" font-weight="bold" fill="#a51c30" dominant-baseline="central" stroke="#a51c30" stroke-width="0.1">Glucose</text>
<text x="121.2" y="563.2" font-size="9.6" fill="#222" dominant-baseline="central">ATP</text>
<text x="87.5" y="588.6" font-size="10.15" text-anchor="middle" fill="#222" dominant-baseline="central">Pyruvate</text>
<text x="145.7" y="588.6" font-size="10.2" fill="#222" dominant-baseline="central">Lactate</text>
<text x="87.6" y="627" font-size="9.25" text-anchor="middle" fill="#222" dominant-baseline="central">Acetyl-CoA</text>
<text x="20" y="646.7" font-size="9.4" fill="#222" dominant-baseline="central">Oxaloacetate</text>
<text x="98.4" y="658.4" font-size="9.5" fill="#222" dominant-baseline="central">Citrate</text>
<text x="84.3" y="666.7" font-size="8.5" text-anchor="middle" font-weight="bold" fill="#222" dominant-baseline="central" stroke="#222" stroke-width="0.1">TCA</text>
<text x="84.3" y="677.2" font-size="8.7" text-anchor="middle" font-weight="bold" fill="#222" dominant-baseline="central" stroke="#222" stroke-width="0.1">cycle</text>
<text x="6.8" y="685.7" font-size="9.36" fill="#222" dominant-baseline="central">Succinyl-CoA</text>
<text x="97.6" y="696.6" font-size="8.6" fill="#222" dominant-baseline="central" stroke="#222" stroke-width="0.1">α-KG</text>
<text x="156.6" y="620.3" font-size="9.25" fill="#222" dominant-baseline="central">Acetyl-CoA</text>
<text x="236.9" y="616.6" font-size="8.6" text-anchor="middle" font-weight="bold" fill="#a51c30" dominant-baseline="central" stroke="#a51c30" stroke-width="0.1">Lipid</text>
<text x="236.9" y="627.8" font-size="8.84" text-anchor="middle" font-weight="bold" fill="#a51c30" dominant-baseline="central" stroke="#a51c30" stroke-width="0.1">Synthesis</text>
<text x="167.8" y="658.4" font-size="9.5" fill="#222" dominant-baseline="central">Citrate</text>
<text x="191.5" y="676.9" font-size="9" font-weight="bold" fill="#111" dominant-baseline="central">IDH1</text>
<text x="171.4" y="694.6" font-size="8.6" fill="#222" dominant-baseline="central" stroke="#222" stroke-width="0.1">α-KG</text>
<text x="194.7" y="707.3" font-size="9.66" fill="#222" dominant-baseline="central">Aspartate</text>
<text x="181.9" y="741.4" font-size="9.57" text-anchor="middle" fill="#222" dominant-baseline="central">Glutamate</text>
<text x="181.9" y="782.6" font-size="8.92" text-anchor="middle" font-weight="bold" fill="#a51c30" dominant-baseline="central" stroke="#a51c30" stroke-width="0.1">Glutamine</text>
<line x1="88.3" y1="553.9" x2="88.3" y2="577.64" stroke="#444" stroke-width="0.6"/>
<path d="M88.3 580.6L86.6 576.9L90 576.9Z" stroke="#444" stroke-width="0.1" fill="#444"/>
<line x1="88.3" y1="563.2" x2="117.6" y2="563.2" stroke="#444" stroke-width="0.6"/>
<path d="M119.8 563.2L116.1 564.9L116.1 561.5Z" stroke="#444" stroke-width="0.1" fill="#444"/>
<line x1="111.6" y1="589.3" x2="139.54" y2="589.3" stroke="#444" stroke-width="0.6"/>
<path d="M142.5 589.3L138.8 591L138.8 587.6Z" stroke="#444" stroke-width="0.1" fill="#444"/>
<line x1="88.3" y1="595.3" x2="88.3" y2="617.44" stroke="#444" stroke-width="0.6"/>
<path d="M88.3 620.4L86.6 616.7L90 616.7Z" stroke="#444" stroke-width="0.1" fill="#444"/>
<line x1="204.7" y1="620.3" x2="217.04" y2="620.3" stroke="#444" stroke-width="0.6"/>
<path d="M220 620.3L216.3 622L216.3 618.6Z" stroke="#444" stroke-width="0.1" fill="#444"/>
<line x1="180.3" y1="651.5" x2="180.3" y2="631.36" stroke="#f29a4c" stroke-width="0.8"/>
<path d="M180.3 628.4L182 632.1L178.6 632.1Z" stroke="#f29a4c" stroke-width="0.1" fill="#f29a4c"/>
<line x1="130.5" y1="658.4" x2="161.84" y2="658.4" stroke="#2b62a2" stroke-width="0.8" stroke-dasharray="1.2 1.2"/>
<path d="M164.8 658.4L161.1 660.1L161.1 656.7Z" stroke="#2b62a2" stroke-width="0.1" fill="#2b62a2"/>
<line x1="176.6" y1="683.6" x2="176.6" y2="672.36" stroke="#f29a4c" stroke-width="0.9"/>
<path d="M176.6 669.4L178.3 673.1L174.9 673.1Z" stroke="#f29a4c" stroke-width="0.1" fill="#f29a4c"/>
<line x1="183.1" y1="669.6" x2="183.1" y2="680.84" stroke="#2b62a2" stroke-width="0.9"/>
<path d="M183.1 683.8L181.4 680.1L184.8 680.1Z" stroke="#2b62a2" stroke-width="0.1" fill="#2b62a2"/>
<line x1="132.5" y1="692.8" x2="161.84" y2="692.8" stroke="#333" stroke-width="0.7" stroke-dasharray="1.2 1.2"/>
<path d="M164.8 692.8L161.1 694.5L161.1 691.1Z" stroke="#333" stroke-width="0.1" fill="#333"/>
<line x1="164.6" y1="698.9" x2="135.26" y2="698.9" stroke="#f29a4c" stroke-width="0.8" stroke-dasharray="1.2 1.2"/>
<path d="M132.3 698.9L136 697.2L136 700.6Z" stroke="#f29a4c" stroke-width="0.1" fill="#f29a4c"/>
<line x1="182.2" y1="734.5" x2="182.2" y2="705.16" stroke="#f29a4c" stroke-width="0.8"/>
<path d="M182.2 702.2L183.9 705.9L180.5 705.9Z" stroke="#f29a4c" stroke-width="0.1" fill="#f29a4c"/>
<line x1="182.2" y1="774.6" x2="182.2" y2="751.96" stroke="#f29a4c" stroke-width="0.8"/>
<path d="M182.2 749L183.9 752.7L180.5 752.7Z" stroke="#f29a4c" stroke-width="0.1" fill="#f29a4c"/>
<path d="M182.2 724.4 C182.6 716 186.4 711.5 192.0 709.8" stroke="#f29a4c" stroke-width="0.8" fill="none"/>
<path d="M193.6 709.2L190.61 711.96L189.56 708.72Z" stroke="#f29a4c" stroke-width="0.1" fill="#f29a4c"/>
<path d="M88.8 633.9 C91 641 97 646.5 104.2 650.4" stroke="#444" stroke-width="0.6" fill="none"/>
<path d="M105.9 651.4L101.84 651.02L103.55 648.08Z" stroke="#444" stroke-width="0.1" fill="#444"/>
<path d="M76.8 642.2 C86 640.5 96 643 103.5 649.6" stroke="#444" stroke-width="0.6" fill="none"/>
<path d="M114.2 665.9 C116.2 673 115.6 681 112.2 687.6" stroke="#444" stroke-width="0.6" fill="none"/>
<path d="M111.2 689.5L111.43 685.43L114.44 687.03Z" stroke="#444" stroke-width="0.1" fill="#444"/>
<path d="M97.4 704.6 C84 710.5 68 704.5 59.8 694.2" stroke="#2b62a2" stroke-width="0.7" fill="none"/>
<path d="M58.6 692.7L62.22 694.57L59.54 696.66Z" stroke="#2b62a2" stroke-width="0.1" fill="#2b62a2"/>
<path d="M54.9 676.6 C54.2 669.5 55.8 662 58.6 657.2" stroke="#2b62a2" stroke-width="0.7" fill="none"/>
<path d="M59.5 655.5L59.27 659.57L56.26 657.97Z" stroke="#2b62a2" stroke-width="0.1" fill="#2b62a2"/>
</g>
<g id="panelK">
<text x="284.3" y="535.2" font-size="16.8">K</text>
<rect x="328.2" y="526.7" width="150.3" height="82.3" fill="#fff" stroke="#8ea6d6" stroke-width="0.5"/>
<text x="419.3" y="540.2" font-size="7.8" text-anchor="end" dominant-baseline="central" stroke="#000" stroke-width="0.1">Total</text>
<text x="331.1" y="551.3" font-size="7.58" dominant-baseline="central" stroke="#000" stroke-width="0.1">13C5, 15N2 L-glut tracer</text>
<line x1="386.3" y1="559.4" x2="386.3" y2="601.4" stroke="#4472c4" stroke-width="0.7"/>
<path d="M386.3 604.4l-2.1-4.2h4.2z" stroke="#4472c4" stroke-width="0.1" fill="#4472c4"/>
<circle cx="427.4" cy="540.7" r="1.45" fill="#1a7f8c"/>
<text x="436.6" y="541.2" font-size="6.35" dominant-baseline="central" stroke="#000" stroke-width="0.1">12C, 14N</text>
<circle cx="427.4" cy="551.8" r="1.45" fill="#2d4f9e"/>
<text x="436.6" y="552.3" font-size="6.35" dominant-baseline="central" stroke="#000" stroke-width="0.1">13C4, 15N0</text>
<circle cx="427.4" cy="562.6" r="1.45" fill="#f9a03f"/>
<text x="436.6" y="563.1" font-size="6.35" dominant-baseline="central" stroke="#000" stroke-width="0.1">13C5, 15N0</text>
<circle cx="427.4" cy="572.5" r="1.45" fill="#f26a1b"/>
<text x="436.6" y="573" font-size="6.35" dominant-baseline="central" stroke="#000" stroke-width="0.1">13C5, 15N1</text>
<circle cx="427.4" cy="583" r="1.45" fill="#f48a8a"/>
<text x="436.6" y="583.5" font-size="6.35" dominant-baseline="central" stroke="#000" stroke-width="0.1">13C6, 15N0</text>
<circle cx="427.4" cy="593.2" r="1.45" fill="#e0101a"/>
<text x="436.6" y="593.7" font-size="6.35" dominant-baseline="central" stroke="#000" stroke-width="0.1">13C10, 15N0</text>
<circle cx="427.4" cy="603.5" r="1.45" fill="#3a1060"/>
<text x="436.6" y="604" font-size="6.35" dominant-baseline="central" stroke="#000" stroke-width="0.1">13C10, 15N1</text>
<text x="563" y="522.3" font-size="10.85" text-anchor="middle" dominant-baseline="central">Citrate</text>
<rect x="546" y="552.9" width="3.2" height="45" fill="#1a9aa0" stroke="#1a9aa0" stroke-width="0.35"/>
<path d="M547.6 552.4V553.4 M546.7 552.4H548.5 M546.7 553.4H548.5" stroke="#0f7f88" stroke-width="0.45" fill="none"/>
<circle cx="547.13" cy="552.96" r="0.55" fill="#0f7f88"/>
<circle cx="547.37" cy="553.05" r="0.55" fill="#0f7f88"/>
<circle cx="547.83" cy="552.27" r="0.55" fill="#0f7f88"/>
<rect x="550.05" y="563" width="3.2" height="34.9" fill="#1a5aa4" stroke="#1a5aa4" stroke-width="0.35"/>
<path d="M551.65 562.2V563.8 M550.75 562.2H552.55 M550.75 563.8H552.55" stroke="#58c6de" stroke-width="0.45" fill="none"/>
<circle cx="550.77" cy="563.49" r="0.55" fill="#58c6de"/>
<circle cx="551.22" cy="562.62" r="0.55" fill="#58c6de"/>
<circle cx="552.54" cy="562.96" r="0.55" fill="#58c6de"/>
<rect x="554.1" y="575.5" width="3.2" height="22.4" fill="#fcc484" stroke="#f9a03c" stroke-width="0.55"/>
<path d="M555.7 574.3V576.7 M554.8 574.3H556.6 M554.8 576.7H556.6" stroke="#f9a03c" stroke-width="0.45" fill="none"/>
<circle cx="556.31" cy="575.45" r="0.55" fill="#f9a03c"/>
<circle cx="555.95" cy="574.75" r="0.55" fill="#f9a03c"/>
<circle cx="555.94" cy="576.29" r="0.55" fill="#f9a03c"/>
<rect x="558.15" y="593.1" width="3.2" height="4.8" fill="#fbb7b7" stroke="#f47f7f" stroke-width="0.55"/>
<path d="M559.75 591.1V595.1 M558.85 591.1H560.65 M558.85 595.1H560.65" stroke="#f47f7f" stroke-width="0.45" fill="none"/>
<circle cx="559.79" cy="593.97" r="0.55" fill="#f47f7f"/>
<circle cx="560.06" cy="591.53" r="0.55" fill="#f47f7f"/>
<circle cx="560.21" cy="593.43" r="0.55" fill="#f47f7f"/>
<rect x="563.4" y="545.6" width="3.2" height="52.3" fill="#1a9aa0" stroke="#1a9aa0" stroke-width="0.35"/>
<path d="M565 543.1V548.1 M564.1 543.1H565.9 M564.1 548.1H565.9" stroke="#0f7f88" stroke-width="0.45" fill="none"/>
<circle cx="564.64" cy="543.49" r="0.55" fill="#0f7f88"/>
<circle cx="565.66" cy="545.48" r="0.55" fill="#0f7f88"/>
<circle cx="565.39" cy="547.3" r="0.55" fill="#0f7f88"/>
<rect x="567.45" y="563" width="3.2" height="34.9" fill="#1a5aa4" stroke="#1a5aa4" stroke-width="0.35"/>
<path d="M569.05 562.2V563.8 M568.15 562.2H569.95 M568.15 563.8H569.95" stroke="#58c6de" stroke-width="0.45" fill="none"/>
<circle cx="569.44" cy="563.61" r="0.55" fill="#58c6de"/>
<circle cx="568.86" cy="563.43" r="0.55" fill="#58c6de"/>
<circle cx="568.95" cy="563.63" r="0.55" fill="#58c6de"/>
<rect x="571.5" y="577.4" width="3.2" height="20.5" fill="#fcc484" stroke="#f9a03c" stroke-width="0.55"/>
<path d="M573.1 571.9V582.9 M572.2 571.9H574 M572.2 582.9H574" stroke="#f9a03c" stroke-width="0.45" fill="none"/>
<circle cx="573.78" cy="573.41" r="0.55" fill="#f9a03c"/>
<circle cx="572.44" cy="574.6" r="0.55" fill="#f9a03c"/>
<circle cx="573.94" cy="576.77" r="0.55" fill="#f9a03c"/>
<rect x="575.55" y="594.3" width="3.2" height="3.6" fill="#fbb7b7" stroke="#f47f7f" stroke-width="0.55"/>
<path d="M577.15 593.5V595.1 M576.25 593.5H578.05 M576.25 595.1H578.05" stroke="#f47f7f" stroke-width="0.45" fill="none"/>
<circle cx="577.38" cy="594.01" r="0.55" fill="#f47f7f"/>
<circle cx="577.16" cy="594.14" r="0.55" fill="#f47f7f"/>
<circle cx="576.88" cy="594.42" r="0.55" fill="#f47f7f"/>
<rect x="580.9" y="543.2" width="3.2" height="54.7" fill="#1a9aa0" stroke="#1a9aa0" stroke-width="0.35"/>
<path d="M582.5 540.2V546.2 M581.6 540.2H583.4 M581.6 546.2H583.4" stroke="#0f7f88" stroke-width="0.45" fill="none"/>
<circle cx="582.65" cy="545.38" r="0.55" fill="#0f7f88"/>
<circle cx="582.83" cy="545.52" r="0.55" fill="#0f7f88"/>
<circle cx="583.14" cy="545.85" r="0.55" fill="#0f7f88"/>
<rect x="584.95" y="561.8" width="3.2" height="36.1" fill="#1a5aa4" stroke="#1a5aa4" stroke-width="0.35"/>
<path d="M586.55 561V562.6 M585.65 561H587.45 M585.65 562.6H587.45" stroke="#58c6de" stroke-width="0.45" fill="none"/>
<circle cx="586.86" cy="561.31" r="0.55" fill="#58c6de"/>
<circle cx="587.2" cy="562.47" r="0.55" fill="#58c6de"/>
<circle cx="587.28" cy="561.9" r="0.55" fill="#58c6de"/>
<rect x="589" y="576.7" width="3.2" height="21.2" fill="#fcc484" stroke="#f9a03c" stroke-width="0.55"/>
<path d="M590.6 572.2V581.2 M589.7 572.2H591.5 M589.7 581.2H591.5" stroke="#f9a03c" stroke-width="0.45" fill="none"/>
<circle cx="590.98" cy="574.36" r="0.55" fill="#f9a03c"/>
<circle cx="591.2" cy="577.3" r="0.55" fill="#f9a03c"/>
<circle cx="590.21" cy="573.16" r="0.55" fill="#f9a03c"/>
<rect x="593.05" y="590.7" width="3.2" height="7.2" fill="#fbb7b7" stroke="#f47f7f" stroke-width="0.55"/>
<path d="M594.65 588.7V592.7 M593.75 588.7H595.55 M593.75 592.7H595.55" stroke="#f47f7f" stroke-width="0.45" fill="none"/>
<circle cx="595.29" cy="592.46" r="0.55" fill="#f47f7f"/>
<circle cx="593.91" cy="591.78" r="0.55" fill="#f47f7f"/>
<circle cx="594.49" cy="589.44" r="0.55" fill="#f47f7f"/>
<rect x="598.3" y="551.4" width="3.2" height="46.5" fill="#1a9aa0" stroke="#1a9aa0" stroke-width="0.35"/>
<path d="M599.9 550.6V552.2 M599 550.6H600.8 M599 552.2H600.8" stroke="#0f7f88" stroke-width="0.45" fill="none"/>
<circle cx="599.53" cy="551.79" r="0.55" fill="#0f7f88"/>
<circle cx="600.57" cy="550.74" r="0.55" fill="#0f7f88"/>
<circle cx="600.11" cy="550.74" r="0.55" fill="#0f7f88"/>
<rect x="602.35" y="564.9" width="3.2" height="33" fill="#1a5aa4" stroke="#1a5aa4" stroke-width="0.35"/>
<path d="M603.95 564.5V565.3 M603.05 564.5H604.85 M603.05 565.3H604.85" stroke="#58c6de" stroke-width="0.45" fill="none"/>
<circle cx="604.34" cy="564.66" r="0.55" fill="#58c6de"/>
<circle cx="604.64" cy="565.59" r="0.55" fill="#58c6de"/>
<circle cx="603.96" cy="565.62" r="0.55" fill="#58c6de"/>
<rect x="606.4" y="589.5" width="3.2" height="8.4" fill="#fcc484" stroke="#f9a03c" stroke-width="0.55"/>
<path d="M608 586V593 M607.1 586H608.9 M607.1 593H608.9" stroke="#f9a03c" stroke-width="0.45" fill="none"/>
<circle cx="607.66" cy="586.83" r="0.55" fill="#f9a03c"/>
<circle cx="608.18" cy="586.55" r="0.55" fill="#f9a03c"/>
<circle cx="607.46" cy="588.92" r="0.55" fill="#f9a03c"/>
<rect x="610.45" y="593.8" width="3.2" height="4.1" fill="#fbb7b7" stroke="#f47f7f" stroke-width="0.55"/>
<path d="M612.05 590.8V596.8 M611.15 590.8H612.95 M611.15 596.8H612.95" stroke="#f47f7f" stroke-width="0.45" fill="none"/>
<circle cx="612.25" cy="591.94" r="0.55" fill="#f47f7f"/>
<circle cx="611.23" cy="595.79" r="0.55" fill="#f47f7f"/>
<circle cx="611.71" cy="596.28" r="0.55" fill="#f47f7f"/>
<rect x="545.1" y="566.6" width="69.4" height="2" fill="#fff"/>
<line x1="544.6" y1="537.4" x2="544.6" y2="566.3" stroke="#000" stroke-width="0.6"/>
<line x1="544.6" y1="568.9" x2="544.6" y2="598.2" stroke="#000" stroke-width="0.6"/>
<line x1="543.4" y1="566.3" x2="545.8" y2="566.3" stroke="#000" stroke-width="0.5"/>
<line x1="543.4" y1="568.9" x2="545.8" y2="568.9" stroke="#000" stroke-width="0.5"/>
<line x1="544.3" y1="597.9" x2="614" y2="597.9" stroke="#000" stroke-width="0.6"/>
<line x1="543.1" y1="544.2" x2="544.6" y2="544.2" stroke="#000" stroke-width="0.5"/>
<text x="542" y="544.2" font-size="5" text-anchor="end" dominant-baseline="central" stroke="#000" stroke-width="0.1">4.5×10<tspan font-size="3.5" dy="-2">6</tspan></text>
<line x1="543.1" y1="554.1" x2="544.6" y2="554.1" stroke="#000" stroke-width="0.5"/>
<text x="542" y="554.1" font-size="5" text-anchor="end" dominant-baseline="central" stroke="#000" stroke-width="0.1">2.5×10<tspan font-size="3.5" dy="-2">6</tspan></text>
<line x1="543.1" y1="564.2" x2="544.6" y2="564.2" stroke="#000" stroke-width="0.5"/>
<text x="542" y="564.2" font-size="5" text-anchor="end" dominant-baseline="central" stroke="#000" stroke-width="0.1">5.0×10<tspan font-size="3.5" dy="-2">5</tspan></text>
<line x1="543.1" y1="574.5" x2="544.6" y2="574.5" stroke="#000" stroke-width="0.5"/>
<text x="542" y="574.5" font-size="5" text-anchor="end" dominant-baseline="central" stroke="#000" stroke-width="0.1">8×10<tspan font-size="3.5" dy="-2">4</tspan></text>
<line x1="543.1" y1="586.3" x2="544.6" y2="586.3" stroke="#000" stroke-width="0.5"/>
<text x="542" y="586.3" font-size="5" text-anchor="end" dominant-baseline="central" stroke="#000" stroke-width="0.1">4×10<tspan font-size="3.5" dy="-2">4</tspan></text>
<line x1="543.1" y1="597.9" x2="544.6" y2="597.9" stroke="#000" stroke-width="0.5"/>
<text x="541.6" y="597.9" font-size="5" text-anchor="end" dominant-baseline="central" stroke="#000" stroke-width="0.1">0</text>
<text x="518.3" y="564.4" font-size="5.1" text-anchor="middle" dominant-baseline="central" transform="rotate(-90 518.3 564.4)" stroke="#000" stroke-width="0.1">Peak Area</text>
<line x1="553.68" y1="597.9" x2="553.68" y2="599.4" stroke="#000" stroke-width="0.5"/>
<text x="554.88" y="600.5" font-size="5.5" text-anchor="end" dominant-baseline="central" transform="rotate(-45 554.88 600.5)" stroke="#000" stroke-width="0.1">Sen</text>
<line x1="571.07" y1="597.9" x2="571.07" y2="599.4" stroke="#000" stroke-width="0.5"/>
<text x="572.27" y="600.5" font-size="5.5" text-anchor="end" dominant-baseline="central" transform="rotate(-45 572.27 600.5)" stroke="#000" stroke-width="0.1">Sen+IDH305</text>
<line x1="588.57" y1="597.9" x2="588.57" y2="599.4" stroke="#000" stroke-width="0.5"/>
<text x="589.77" y="600.5" font-size="5.5" text-anchor="end" dominant-baseline="central" transform="rotate(-45 589.77 600.5)" stroke="#000" stroke-width="0.1">IR</text>
<line x1="605.98" y1="597.9" x2="605.98" y2="599.4" stroke="#000" stroke-width="0.5"/>
<text x="607.18" y="600.5" font-size="5.5" text-anchor="end" dominant-baseline="central" transform="rotate(-45 607.18 600.5)" stroke="#000" stroke-width="0.1">IR+IDH305</text>
<path d="M586.2 559.4V524.9H603.8V528" stroke="#000" stroke-width="0.6" fill="none"/>
<text x="595.1" y="521.6" font-size="3.4" text-anchor="middle" dominant-baseline="central" stroke="#000" stroke-width="0.1">P = 0.0255</text>
<path d="M590.3 570.2V534.1H607.4V583.5" stroke="#000" stroke-width="0.6" fill="none"/>
<text x="599" y="531.2" font-size="3.4" text-anchor="middle" dominant-baseline="central" stroke="#000" stroke-width="0.1">P = 0.0240</text>
<circle cx="614.4" cy="544.9" r="0.75" fill="#1a9aa0"/>
<text x="620" y="544.9" font-size="5.27" dominant-baseline="central" stroke="#000" stroke-width="0.1">12C, 14N</text>
<circle cx="614.4" cy="550.5" r="0.75" fill="#6fd3e6"/>
<text x="620" y="550.5" font-size="5.27" dominant-baseline="central" stroke="#000" stroke-width="0.1">13C4, 15N0</text>
<circle cx="614.4" cy="555.8" r="0.75" fill="#f9a03c"/>
<text x="620" y="555.8" font-size="5.27" dominant-baseline="central" stroke="#000" stroke-width="0.1">13C5, 15N0</text>
<circle cx="614.4" cy="561.3" r="0.75" fill="#f47f7f"/>
<text x="620" y="561.3" font-size="5.27" dominant-baseline="central" stroke="#000" stroke-width="0.1">13C6, 15N0</text>
<text x="332.4" y="634.4" font-size="10.98" text-anchor="middle" dominant-baseline="central">Aspartate</text>
<rect x="301.9" y="683.5" width="4" height="41.3" fill="#1a9aa0" stroke="#1a9aa0" stroke-width="0.35"/>
<path d="M303.9 680V687 M303 680H304.8 M303 687H304.8" stroke="#0f7f88" stroke-width="0.45" fill="none"/>
<circle cx="303.42" cy="681" r="0.55" fill="#0f7f88"/>
<circle cx="303.71" cy="681.33" r="0.55" fill="#0f7f88"/>
<circle cx="303.12" cy="682.88" r="0.55" fill="#0f7f88"/>
<rect x="307.2" y="703.6" width="4" height="21.2" fill="#1a5aa4" stroke="#1a5aa4" stroke-width="0.35"/>
<path d="M309.2 698.6V708.6 M308.3 698.6H310.1 M308.3 708.6H310.1" stroke="#58c6de" stroke-width="0.45" fill="none"/>
<circle cx="309.95" cy="706.3" r="0.55" fill="#58c6de"/>
<circle cx="309.68" cy="701.1" r="0.55" fill="#58c6de"/>
<circle cx="309.27" cy="701.59" r="0.55" fill="#58c6de"/>
<rect x="312.5" y="721.2" width="4" height="3.6" fill="#fcc484" stroke="#f9a03c" stroke-width="0.55"/>
<path d="M314.5 720V722.4 M313.6 720H315.4 M313.6 722.4H315.4" stroke="#f9a03c" stroke-width="0.45" fill="none"/>
<circle cx="313.91" cy="720.35" r="0.55" fill="#f9a03c"/>
<circle cx="313.99" cy="722.12" r="0.55" fill="#f9a03c"/>
<circle cx="315.09" cy="721.86" r="0.55" fill="#f9a03c"/>
<rect x="319.5" y="682.4" width="4" height="42.4" fill="#1a9aa0" stroke="#1a9aa0" stroke-width="0.35"/>
<path d="M321.5 680.4V684.4 M320.6 680.4H322.4 M320.6 684.4H322.4" stroke="#0f7f88" stroke-width="0.45" fill="none"/>
<circle cx="322.04" cy="681.3" r="0.55" fill="#0f7f88"/>
<circle cx="321.16" cy="682.86" r="0.55" fill="#0f7f88"/>
<circle cx="321.92" cy="683.68" r="0.55" fill="#0f7f88"/>
<rect x="324.8" y="712.1" width="4" height="12.7" fill="#1a5aa4" stroke="#1a5aa4" stroke-width="0.35"/>
<path d="M326.8 710.9V713.3 M325.9 710.9H327.7 M325.9 713.3H327.7" stroke="#58c6de" stroke-width="0.45" fill="none"/>
<circle cx="327.48" cy="711.21" r="0.55" fill="#58c6de"/>
<circle cx="326.99" cy="712.47" r="0.55" fill="#58c6de"/>
<circle cx="326.81" cy="711.4" r="0.55" fill="#58c6de"/>
<rect x="330.1" y="721.2" width="4" height="3.6" fill="#fcc484" stroke="#f9a03c" stroke-width="0.55"/>
<path d="M332.1 720.4V722 M331.2 720.4H333 M331.2 722H333" stroke="#f9a03c" stroke-width="0.45" fill="none"/>
<circle cx="332.05" cy="720.61" r="0.55" fill="#f9a03c"/>
<circle cx="332.88" cy="721.73" r="0.55" fill="#f9a03c"/>
<circle cx="332.19" cy="720.91" r="0.55" fill="#f9a03c"/>
<rect x="337" y="675.5" width="4" height="49.3" fill="#1a9aa0" stroke="#1a9aa0" stroke-width="0.35"/>
<path d="M339 673V678 M338.1 673H339.9 M338.1 678H339.9" stroke="#0f7f88" stroke-width="0.45" fill="none"/>
<circle cx="339.74" cy="675.83" r="0.55" fill="#0f7f88"/>
<circle cx="339.69" cy="677.07" r="0.55" fill="#0f7f88"/>
<circle cx="339.02" cy="675.11" r="0.55" fill="#0f7f88"/>
<rect x="342.3" y="702.6" width="4" height="22.2" fill="#1a5aa4" stroke="#1a5aa4" stroke-width="0.35"/>
<path d="M344.3 700.4V704.8 M343.4 700.4H345.2 M343.4 704.8H345.2" stroke="#58c6de" stroke-width="0.45" fill="none"/>
<circle cx="344.48" cy="702.33" r="0.55" fill="#58c6de"/>
<circle cx="343.69" cy="701.83" r="0.55" fill="#58c6de"/>
<circle cx="344.86" cy="700.79" r="0.55" fill="#58c6de"/>
<rect x="347.6" y="721.6" width="4" height="3.2" fill="#fcc484" stroke="#f9a03c" stroke-width="0.55"/>
<path d="M349.6 720.8V722.4 M348.7 720.8H350.5 M348.7 722.4H350.5" stroke="#f9a03c" stroke-width="0.45" fill="none"/>
<circle cx="348.78" cy="721.78" r="0.55" fill="#f9a03c"/>
<circle cx="349.2" cy="721.65" r="0.55" fill="#f9a03c"/>
<circle cx="349.55" cy="721.37" r="0.55" fill="#f9a03c"/>
<rect x="354.8" y="677.2" width="4" height="47.6" fill="#1a9aa0" stroke="#1a9aa0" stroke-width="0.35"/>
<path d="M356.8 676.4V678 M355.9 676.4H357.7 M355.9 678H357.7" stroke="#0f7f88" stroke-width="0.45" fill="none"/>
<circle cx="357.7" cy="676.76" r="0.55" fill="#0f7f88"/>
<circle cx="356.64" cy="676.77" r="0.55" fill="#0f7f88"/>
<circle cx="357.04" cy="676.88" r="0.55" fill="#0f7f88"/>
<rect x="360.1" y="710.6" width="4" height="14.2" fill="#1a5aa4" stroke="#1a5aa4" stroke-width="0.35"/>
<path d="M362.1 709.6V711.6 M361.2 709.6H363 M361.2 711.6H363" stroke="#58c6de" stroke-width="0.45" fill="none"/>
<circle cx="361.84" cy="711.04" r="0.55" fill="#58c6de"/>
<circle cx="361.78" cy="710.71" r="0.55" fill="#58c6de"/>
<circle cx="362.83" cy="709.88" r="0.55" fill="#58c6de"/>
<rect x="365.4" y="719.1" width="4" height="5.7" fill="#fcc484" stroke="#f9a03c" stroke-width="0.55"/>
<path d="M367.4 718.5V719.7 M366.5 718.5H368.3 M366.5 719.7H368.3" stroke="#f9a03c" stroke-width="0.45" fill="none"/>
<circle cx="366.61" cy="718.71" r="0.55" fill="#f9a03c"/>
<circle cx="367.88" cy="719.27" r="0.55" fill="#f9a03c"/>
<circle cx="366.93" cy="718.86" r="0.55" fill="#f9a03c"/>
<rect x="300.9" y="693.6" width="71" height="2" fill="#fff"/>
<line x1="300.4" y1="662.7" x2="300.4" y2="693.3" stroke="#000" stroke-width="0.6"/>
<line x1="300.4" y1="695.9" x2="300.4" y2="725.1" stroke="#000" stroke-width="0.6"/>
<line x1="299.2" y1="693.3" x2="301.6" y2="693.3" stroke="#000" stroke-width="0.5"/>
<line x1="299.2" y1="695.9" x2="301.6" y2="695.9" stroke="#000" stroke-width="0.5"/>
<line x1="300.1" y1="724.8" x2="371.4" y2="724.8" stroke="#000" stroke-width="0.6"/>
<line x1="298.9" y1="663" x2="300.4" y2="663" stroke="#000" stroke-width="0.5"/>
<text x="297.8" y="663" font-size="5" text-anchor="end" dominant-baseline="central" stroke="#000" stroke-width="0.1">8×10<tspan font-size="3.5" dy="-2">6</tspan></text>
<line x1="298.9" y1="672.9" x2="300.4" y2="672.9" stroke="#000" stroke-width="0.5"/>
<text x="297.8" y="672.9" font-size="5" text-anchor="end" dominant-baseline="central" stroke="#000" stroke-width="0.1">6×10<tspan font-size="3.5" dy="-2">6</tspan></text>
<line x1="298.9" y1="682.9" x2="300.4" y2="682.9" stroke="#000" stroke-width="0.5"/>
<text x="297.8" y="682.9" font-size="5" text-anchor="end" dominant-baseline="central" stroke="#000" stroke-width="0.1">4×10<tspan font-size="3.5" dy="-2">6</tspan></text>
<line x1="298.9" y1="692.6" x2="300.4" y2="692.6" stroke="#000" stroke-width="0.5"/>
<text x="297.8" y="692.6" font-size="5" text-anchor="end" dominant-baseline="central" stroke="#000" stroke-width="0.1">2×10<tspan font-size="3.5" dy="-2">6</tspan></text>
<line x1="298.9" y1="702.6" x2="300.4" y2="702.6" stroke="#000" stroke-width="0.5"/>
<text x="297.8" y="702.6" font-size="5" text-anchor="end" dominant-baseline="central" stroke="#000" stroke-width="0.1">1×10<tspan font-size="3.5" dy="-2">6</tspan></text>
<line x1="298.9" y1="713.6" x2="300.4" y2="713.6" stroke="#000" stroke-width="0.5"/>
<text x="297.8" y="713.6" font-size="5" text-anchor="end" dominant-baseline="central" stroke="#000" stroke-width="0.1">5×10<tspan font-size="3.5" dy="-2">5</tspan></text>
<line x1="298.9" y1="724.8" x2="300.4" y2="724.8" stroke="#000" stroke-width="0.5"/>
<text x="297.4" y="724.8" font-size="5" text-anchor="end" dominant-baseline="central" stroke="#000" stroke-width="0.1">0</text>
<text x="277.1" y="689.9" font-size="5.1" text-anchor="middle" dominant-baseline="central" transform="rotate(-90 277.1 689.9)" stroke="#000" stroke-width="0.1">Peak Area</text>
<line x1="309.2" y1="724.8" x2="309.2" y2="726.3" stroke="#000" stroke-width="0.5"/>
<text x="310.4" y="727.4" font-size="5.5" text-anchor="end" dominant-baseline="central" transform="rotate(-45 310.4 727.4)" stroke="#000" stroke-width="0.1">Sen</text>
<line x1="326.8" y1="724.8" x2="326.8" y2="726.3" stroke="#000" stroke-width="0.5"/>
<text x="328" y="727.4" font-size="5.5" text-anchor="end" dominant-baseline="central" transform="rotate(-45 328 727.4)" stroke="#000" stroke-width="0.1">Sen+IDH305</text>
<line x1="344.3" y1="724.8" x2="344.3" y2="726.3" stroke="#000" stroke-width="0.5"/>
<text x="345.5" y="727.4" font-size="5.5" text-anchor="end" dominant-baseline="central" transform="rotate(-45 345.5 727.4)" stroke="#000" stroke-width="0.1">IR</text>
<line x1="362.1" y1="724.8" x2="362.1" y2="726.3" stroke="#000" stroke-width="0.5"/>
<text x="363.3" y="727.4" font-size="5.5" text-anchor="end" dominant-baseline="central" transform="rotate(-45 363.3 727.4)" stroke="#000" stroke-width="0.1">IR+IDH305</text>
<path d="M343.8 698.3V658.7H361.8V662.3" stroke="#000" stroke-width="0.6" fill="none"/>
<text x="352.9" y="655.4" font-size="3.4" text-anchor="middle" dominant-baseline="central" stroke="#000" stroke-width="0.1">P = 0.0069</text>
<path d="M349.1 718.4V668.3H367.1V716.3" stroke="#000" stroke-width="0.6" fill="none"/>
<text x="358" y="664.9" font-size="3.4" text-anchor="middle" dominant-baseline="central" stroke="#000" stroke-width="0.1">P = 0.0422</text>
<circle cx="373" cy="671.2" r="0.75" fill="#1a9aa0"/>
<text x="378.7" y="671.2" font-size="5.27" dominant-baseline="central" stroke="#000" stroke-width="0.1">12C, 14N</text>
<circle cx="373" cy="676.3" r="0.75" fill="#6fd3e6"/>
<text x="378.7" y="676.3" font-size="5.27" dominant-baseline="central" stroke="#000" stroke-width="0.1">13C4, 15N0</text>
<circle cx="373" cy="681.4" r="0.75" fill="#f9a03c"/>
<text x="378.7" y="681.4" font-size="5.27" dominant-baseline="central" stroke="#000" stroke-width="0.1">13C3, 15N1</text>
<text x="470.9" y="634.8" font-size="11.1" text-anchor="middle" dominant-baseline="central">α-Ketoglutarate</text>
<rect x="438.1" y="685.2" width="5.3" height="38.9" fill="#1a9aa0" stroke="#1a9aa0" stroke-width="0.35"/>
<path d="M440.75 680.7V689.7 M439.85 680.7H441.65 M439.85 689.7H441.65" stroke="#0f7f88" stroke-width="0.45" fill="none"/>
<circle cx="440.97" cy="687.16" r="0.55" fill="#0f7f88"/>
<circle cx="441.28" cy="688.78" r="0.55" fill="#0f7f88"/>
<circle cx="441.18" cy="688.62" r="0.55" fill="#0f7f88"/>
<rect x="445.5" y="693.5" width="5.3" height="30.6" fill="#fcc484" stroke="#f9a03c" stroke-width="0.55"/>
<path d="M448.15 685.5V701.5 M447.25 685.5H449.05 M447.25 701.5H449.05" stroke="#f9a03c" stroke-width="0.45" fill="none"/>
<circle cx="447.3" cy="693" r="0.55" fill="#f9a03c"/>
<circle cx="448.95" cy="695.65" r="0.55" fill="#f9a03c"/>
<circle cx="448.87" cy="687.93" r="0.55" fill="#f9a03c"/>
<rect x="455" y="705.7" width="5.3" height="18.4" fill="#1a9aa0" stroke="#1a9aa0" stroke-width="0.35"/>
<path d="M457.65 702.7V708.7 M456.75 702.7H458.55 M456.75 708.7H458.55" stroke="#0f7f88" stroke-width="0.45" fill="none"/>
<circle cx="457.59" cy="704.33" r="0.55" fill="#0f7f88"/>
<circle cx="457.73" cy="706.1" r="0.55" fill="#0f7f88"/>
<circle cx="456.77" cy="704.17" r="0.55" fill="#0f7f88"/>
<rect x="462.4" y="686" width="5.3" height="38.1" fill="#fcc484" stroke="#f9a03c" stroke-width="0.55"/>
<path d="M465.05 677V695 M464.15 677H465.95 M464.15 695H465.95" stroke="#f9a03c" stroke-width="0.45" fill="none"/>
<circle cx="464.65" cy="692.74" r="0.55" fill="#f9a03c"/>
<circle cx="465.53" cy="680.49" r="0.55" fill="#f9a03c"/>
<circle cx="465.58" cy="680.15" r="0.55" fill="#f9a03c"/>
<rect x="472.6" y="679.9" width="5.3" height="44.2" fill="#1a9aa0" stroke="#1a9aa0" stroke-width="0.35"/>
<path d="M475.25 675.4V684.4 M474.35 675.4H476.15 M474.35 684.4H476.15" stroke="#0f7f88" stroke-width="0.45" fill="none"/>
<circle cx="475.46" cy="676.88" r="0.55" fill="#0f7f88"/>
<circle cx="474.35" cy="682.91" r="0.55" fill="#0f7f88"/>
<circle cx="474.73" cy="677.6" r="0.55" fill="#0f7f88"/>
<rect x="480" y="686" width="5.3" height="38.1" fill="#fcc484" stroke="#f9a03c" stroke-width="0.55"/>
<path d="M482.65 673V699 M481.75 673H483.55 M481.75 699H483.55" stroke="#f9a03c" stroke-width="0.45" fill="none"/>
<circle cx="483.52" cy="694.71" r="0.55" fill="#f9a03c"/>
<circle cx="482.27" cy="696.8" r="0.55" fill="#f9a03c"/>
<circle cx="482.72" cy="690.16" r="0.55" fill="#f9a03c"/>
<rect x="489.5" y="709.5" width="5.3" height="14.6" fill="#1a9aa0" stroke="#1a9aa0" stroke-width="0.35"/>
<path d="M492.15 705.5V713.5 M491.25 705.5H493.05 M491.25 713.5H493.05" stroke="#0f7f88" stroke-width="0.45" fill="none"/>
<circle cx="491.62" cy="712.68" r="0.55" fill="#0f7f88"/>
<circle cx="492.49" cy="712.86" r="0.55" fill="#0f7f88"/>
<circle cx="492.86" cy="708.05" r="0.55" fill="#0f7f88"/>
<rect x="497.4" y="684.1" width="5.3" height="40" fill="#fcc484" stroke="#f9a03c" stroke-width="0.55"/>
<path d="M500.05 682.5V685.7 M499.15 682.5H500.95 M499.15 685.7H500.95" stroke="#f9a03c" stroke-width="0.45" fill="none"/>
<circle cx="499.8" cy="683.14" r="0.55" fill="#f9a03c"/>
<circle cx="499.41" cy="682.85" r="0.55" fill="#f9a03c"/>
<circle cx="499.69" cy="684.4" r="0.55" fill="#f9a03c"/>
<line x1="434.9" y1="654.6" x2="434.9" y2="724.4" stroke="#000" stroke-width="0.6"/>
<line x1="434.6" y1="724.1" x2="505.3" y2="724.1" stroke="#000" stroke-width="0.6"/>
<line x1="433.4" y1="654.9" x2="434.9" y2="654.9" stroke="#000" stroke-width="0.5"/>
<text x="432.3" y="654.9" font-size="5" text-anchor="end" dominant-baseline="central" stroke="#000" stroke-width="0.1">2.0×10<tspan font-size="3.5" dy="-2">5</tspan></text>
<line x1="433.4" y1="672.3" x2="434.9" y2="672.3" stroke="#000" stroke-width="0.5"/>
<text x="432.3" y="672.3" font-size="5" text-anchor="end" dominant-baseline="central" stroke="#000" stroke-width="0.1">1.5×10<tspan font-size="3.5" dy="-2">5</tspan></text>
<line x1="433.4" y1="689.4" x2="434.9" y2="689.4" stroke="#000" stroke-width="0.5"/>
<text x="432.3" y="689.4" font-size="5" text-anchor="end" dominant-baseline="central" stroke="#000" stroke-width="0.1">1.0×10<tspan font-size="3.5" dy="-2">5</tspan></text>
<line x1="433.4" y1="706.8" x2="434.9" y2="706.8" stroke="#000" stroke-width="0.5"/>
<text x="432.3" y="706.8" font-size="5" text-anchor="end" dominant-baseline="central" stroke="#000" stroke-width="0.1">5.0×10<tspan font-size="3.5" dy="-2">4</tspan></text>
<line x1="433.4" y1="724.1" x2="434.9" y2="724.1" stroke="#000" stroke-width="0.5"/>
<text x="431.9" y="724.1" font-size="5" text-anchor="end" dominant-baseline="central" stroke="#000" stroke-width="0.1">0.0</text>
<text x="412.1" y="683.5" font-size="5.1" text-anchor="middle" dominant-baseline="central" transform="rotate(-90 412.1 683.5)" stroke="#000" stroke-width="0.1">Peak Area</text>
<line x1="444.45" y1="724.1" x2="444.45" y2="725.6" stroke="#000" stroke-width="0.5"/>
<text x="445.65" y="726.7" font-size="5.5" text-anchor="end" dominant-baseline="central" transform="rotate(-45 445.65 726.7)" stroke="#000" stroke-width="0.1">Sen</text>
<line x1="461.35" y1="724.1" x2="461.35" y2="725.6" stroke="#000" stroke-width="0.5"/>
<text x="462.55" y="726.7" font-size="5.5" text-anchor="end" dominant-baseline="central" transform="rotate(-45 462.55 726.7)" stroke="#000" stroke-width="0.1">Sen+IDH305</text>
<line x1="478.95" y1="724.1" x2="478.95" y2="725.6" stroke="#000" stroke-width="0.5"/>
<text x="480.15" y="726.7" font-size="5.5" text-anchor="end" dominant-baseline="central" transform="rotate(-45 480.15 726.7)" stroke="#000" stroke-width="0.1">IR</text>
<line x1="496.1" y1="724.1" x2="496.1" y2="725.6" stroke="#000" stroke-width="0.5"/>
<text x="497.3" y="726.7" font-size="5.5" text-anchor="end" dominant-baseline="central" transform="rotate(-45 497.3 726.7)" stroke="#000" stroke-width="0.1">IR+IDH305</text>
<path d="M447 662V649.2H482.6V660.2" stroke="#000" stroke-width="0.6" fill="none"/>
<text x="465.2" y="645.8" font-size="3.4" text-anchor="middle" dominant-baseline="central" stroke="#000" stroke-width="0.1">P = 0.0254</text>
<path d="M448.3 661.3V658.1H465.6V674" stroke="#000" stroke-width="0.6" fill="none"/>
<text x="456.1" y="654.9" font-size="3.4" text-anchor="middle" dominant-baseline="central" stroke="#000" stroke-width="0.1">P = 0.0289</text>
<path d="M440.2 678.2V667H457.6V699.4" stroke="#000" stroke-width="0.6" fill="none"/>
<text x="449.1" y="664" font-size="3.4" text-anchor="middle" dominant-baseline="central" stroke="#000" stroke-width="0.1">P &lt; 0.0001</text>
<path d="M474.5 671.9V667H492.5V703.6" stroke="#000" stroke-width="0.6" fill="none"/>
<text x="483.6" y="664" font-size="3.4" text-anchor="middle" dominant-baseline="central" stroke="#000" stroke-width="0.1">P &lt; 0.0001</text>
<circle cx="509" cy="664.9" r="0.75" fill="#1a9aa0"/>
<text x="514.3" y="664.9" font-size="5.27" dominant-baseline="central" stroke="#000" stroke-width="0.1">12C, 14N</text>
<circle cx="509" cy="671.4" r="0.75" fill="#fcc484"/>
<text x="514.3" y="671.4" font-size="5.27" dominant-baseline="central" stroke="#000" stroke-width="0.1">13C5, 15N0</text>
<text x="605.8" y="634.4" font-size="10.92" text-anchor="middle" dominant-baseline="central">Glutamate</text>
<rect x="574.5" y="671.9" width="4.3" height="52.5" fill="#1a9aa0" stroke="#1a9aa0" stroke-width="0.35"/>
<path d="M576.65 662.9V680.9 M575.75 662.9H577.55 M575.75 680.9H577.55" stroke="#0f7f88" stroke-width="0.45" fill="none"/>
<circle cx="577.18" cy="677.12" r="0.55" fill="#0f7f88"/>
<circle cx="576.62" cy="668.04" r="0.55" fill="#0f7f88"/>
<circle cx="575.75" cy="674.54" r="0.55" fill="#0f7f88"/>
<rect x="579.9" y="683.5" width="4.3" height="40.9" fill="#fcc484" stroke="#f9a03c" stroke-width="0.55"/>
<path d="M582.05 680V687 M581.15 680H582.95 M581.15 687H582.95" stroke="#f9a03c" stroke-width="0.45" fill="none"/>
<circle cx="582" cy="685.14" r="0.55" fill="#f9a03c"/>
<circle cx="581.82" cy="685.2" r="0.55" fill="#f9a03c"/>
<circle cx="581.64" cy="685.4" r="0.55" fill="#f9a03c"/>
<rect x="585.3" y="708.9" width="4.3" height="15.5" fill="#f98a1c" stroke="#f98a1c" stroke-width="0.35"/>
<path d="M587.45 704.4V713.4 M586.55 704.4H588.35 M586.55 713.4H588.35" stroke="#f98a1c" stroke-width="0.45" fill="none"/>
<circle cx="587.86" cy="708.2" r="0.55" fill="#f98a1c"/>
<circle cx="587.52" cy="710.37" r="0.55" fill="#f98a1c"/>
<circle cx="586.9" cy="709.33" r="0.55" fill="#f98a1c"/>
<rect x="591.9" y="677.2" width="4.3" height="47.2" fill="#1a9aa0" stroke="#1a9aa0" stroke-width="0.35"/>
<path d="M594.05 673.7V680.7 M593.15 673.7H594.95 M593.15 680.7H594.95" stroke="#0f7f88" stroke-width="0.45" fill="none"/>
<circle cx="594.6" cy="675.72" r="0.55" fill="#0f7f88"/>
<circle cx="594.6" cy="678.37" r="0.55" fill="#0f7f88"/>
<circle cx="594.67" cy="676.16" r="0.55" fill="#0f7f88"/>
<rect x="597.3" y="679.9" width="4.3" height="44.5" fill="#fcc484" stroke="#f9a03c" stroke-width="0.55"/>
<path d="M599.45 676.4V683.4 M598.55 676.4H600.35 M598.55 683.4H600.35" stroke="#f9a03c" stroke-width="0.45" fill="none"/>
<circle cx="598.72" cy="681.79" r="0.55" fill="#f9a03c"/>
<circle cx="600" cy="679.55" r="0.55" fill="#f9a03c"/>
<circle cx="598.72" cy="677.99" r="0.55" fill="#f9a03c"/>
<rect x="602.7" y="701.1" width="4.3" height="23.3" fill="#f98a1c" stroke="#f98a1c" stroke-width="0.35"/>
<path d="M604.85 700.3V701.9 M603.95 700.3H605.75 M603.95 701.9H605.75" stroke="#f98a1c" stroke-width="0.45" fill="none"/>
<circle cx="605.09" cy="700.8" r="0.55" fill="#f98a1c"/>
<circle cx="605.66" cy="701.23" r="0.55" fill="#f98a1c"/>
<circle cx="604.31" cy="701.32" r="0.55" fill="#f98a1c"/>
<rect x="609.4" y="675" width="4.3" height="49.4" fill="#1a9aa0" stroke="#1a9aa0" stroke-width="0.35"/>
<path d="M611.55 672.5V677.5 M610.65 672.5H612.45 M610.65 677.5H612.45" stroke="#0f7f88" stroke-width="0.45" fill="none"/>
<circle cx="611.3" cy="676.95" r="0.55" fill="#0f7f88"/>
<circle cx="612.29" cy="675.07" r="0.55" fill="#0f7f88"/>
<circle cx="611.81" cy="675.89" r="0.55" fill="#0f7f88"/>
<rect x="614.8" y="685.6" width="4.3" height="38.8" fill="#fcc484" stroke="#f9a03c" stroke-width="0.55"/>
<path d="M616.95 684.6V686.6 M616.05 684.6H617.85 M616.05 686.6H617.85" stroke="#f9a03c" stroke-width="0.45" fill="none"/>
<circle cx="617.5" cy="686.46" r="0.55" fill="#f9a03c"/>
<circle cx="616.1" cy="685.35" r="0.55" fill="#f9a03c"/>
<circle cx="617.13" cy="685.25" r="0.55" fill="#f9a03c"/>
<rect x="620.2" y="711.7" width="4.3" height="12.7" fill="#f98a1c" stroke="#f98a1c" stroke-width="0.35"/>
<path d="M622.35 710.9V712.5 M621.45 710.9H623.25 M621.45 712.5H623.25" stroke="#f98a1c" stroke-width="0.45" fill="none"/>
<circle cx="622.51" cy="711.11" r="0.55" fill="#f98a1c"/>
<circle cx="623.03" cy="711.74" r="0.55" fill="#f98a1c"/>
<circle cx="621.66" cy="711.93" r="0.55" fill="#f98a1c"/>
<rect x="626.8" y="684.6" width="4.3" height="39.8" fill="#1a9aa0" stroke="#1a9aa0" stroke-width="0.35"/>
<path d="M628.95 683.8V685.4 M628.05 683.8H629.85 M628.05 685.4H629.85" stroke="#0f7f88" stroke-width="0.45" fill="none"/>
<circle cx="628.61" cy="684.16" r="0.55" fill="#0f7f88"/>
<circle cx="628.92" cy="684.08" r="0.55" fill="#0f7f88"/>
<circle cx="628.43" cy="685.13" r="0.55" fill="#0f7f88"/>
<rect x="632.2" y="686.3" width="4.3" height="38.1" fill="#fcc484" stroke="#f9a03c" stroke-width="0.55"/>
<path d="M634.35 685.5V687.1 M633.45 685.5H635.25 M633.45 687.1H635.25" stroke="#f9a03c" stroke-width="0.45" fill="none"/>
<circle cx="634.71" cy="685.6" r="0.55" fill="#f9a03c"/>
<circle cx="634.85" cy="685.6" r="0.55" fill="#f9a03c"/>
<circle cx="634.05" cy="686.88" r="0.55" fill="#f9a03c"/>
<rect x="637.6" y="710" width="4.3" height="14.4" fill="#f98a1c" stroke="#f98a1c" stroke-width="0.35"/>
<path d="M639.75 708.5V711.5 M638.85 708.5H640.65 M638.85 711.5H640.65" stroke="#f98a1c" stroke-width="0.45" fill="none"/>
<circle cx="639.97" cy="709.48" r="0.55" fill="#f98a1c"/>
<circle cx="639.53" cy="709.7" r="0.55" fill="#f98a1c"/>
<circle cx="639.08" cy="711.35" r="0.55" fill="#f98a1c"/>
<rect x="573.3" y="693.3" width="70.4" height="2" fill="#fff"/>
<line x1="572.8" y1="657.4" x2="572.8" y2="693" stroke="#000" stroke-width="0.6"/>
<line x1="572.8" y1="695.6" x2="572.8" y2="724.7" stroke="#000" stroke-width="0.6"/>
<line x1="571.6" y1="693" x2="574" y2="693" stroke="#000" stroke-width="0.5"/>
<line x1="571.6" y1="695.6" x2="574" y2="695.6" stroke="#000" stroke-width="0.5"/>
<line x1="572.5" y1="724.4" x2="643.2" y2="724.4" stroke="#000" stroke-width="0.6"/>
<line x1="571.3" y1="659.2" x2="572.8" y2="659.2" stroke="#000" stroke-width="0.5"/>
<text x="570.2" y="659.2" font-size="5" text-anchor="end" dominant-baseline="central" stroke="#000" stroke-width="0.1">2.5×10<tspan font-size="3.5" dy="-2">7</tspan></text>
<line x1="571.3" y1="667.2" x2="572.8" y2="667.2" stroke="#000" stroke-width="0.5"/>
<text x="570.2" y="667.2" font-size="5" text-anchor="end" dominant-baseline="central" stroke="#000" stroke-width="0.1">2.0×10<tspan font-size="3.5" dy="-2">7</tspan></text>
<line x1="571.3" y1="675.7" x2="572.8" y2="675.7" stroke="#000" stroke-width="0.5"/>
<text x="570.2" y="675.7" font-size="5" text-anchor="end" dominant-baseline="central" stroke="#000" stroke-width="0.1">1.5×10<tspan font-size="3.5" dy="-2">7</tspan></text>
<line x1="571.3" y1="683.9" x2="572.8" y2="683.9" stroke="#000" stroke-width="0.5"/>
<text x="570.2" y="683.9" font-size="5" text-anchor="end" dominant-baseline="central" stroke="#000" stroke-width="0.1">1.0×10<tspan font-size="3.5" dy="-2">7</tspan></text>
<line x1="571.3" y1="692" x2="572.8" y2="692" stroke="#000" stroke-width="0.5"/>
<text x="570.2" y="692" font-size="5" text-anchor="end" dominant-baseline="central" stroke="#000" stroke-width="0.1">5.0×10<tspan font-size="3.5" dy="-2">6</tspan></text>
<line x1="571.3" y1="698.7" x2="572.8" y2="698.7" stroke="#000" stroke-width="0.5"/>
<text x="570.2" y="698.7" font-size="5" text-anchor="end" dominant-baseline="central" stroke="#000" stroke-width="0.1">8×10<tspan font-size="3.5" dy="-2">5</tspan></text>
<line x1="571.3" y1="705.1" x2="572.8" y2="705.1" stroke="#000" stroke-width="0.5"/>
<text x="570.2" y="705.1" font-size="5" text-anchor="end" dominant-baseline="central" stroke="#000" stroke-width="0.1">6×10<tspan font-size="3.5" dy="-2">5</tspan></text>
<line x1="571.3" y1="711.7" x2="572.8" y2="711.7" stroke="#000" stroke-width="0.5"/>
<text x="570.2" y="711.7" font-size="5" text-anchor="end" dominant-baseline="central" stroke="#000" stroke-width="0.1">4×10<tspan font-size="3.5" dy="-2">5</tspan></text>
<line x1="571.3" y1="718" x2="572.8" y2="718" stroke="#000" stroke-width="0.5"/>
<text x="570.2" y="718" font-size="5" text-anchor="end" dominant-baseline="central" stroke="#000" stroke-width="0.1">2×10<tspan font-size="3.5" dy="-2">5</tspan></text>
<line x1="571.3" y1="724.4" x2="572.8" y2="724.4" stroke="#000" stroke-width="0.5"/>
<text x="569.8" y="724.4" font-size="5" text-anchor="end" dominant-baseline="central" stroke="#000" stroke-width="0.1">0</text>
<text x="545.3" y="684.6" font-size="5.1" text-anchor="middle" dominant-baseline="central" transform="rotate(-90 545.3 684.6)" stroke="#000" stroke-width="0.1">Peak Area</text>
<line x1="582.05" y1="724.4" x2="582.05" y2="725.9" stroke="#000" stroke-width="0.5"/>
<text x="583.25" y="727" font-size="5.5" text-anchor="end" dominant-baseline="central" transform="rotate(-45 583.25 727)" stroke="#000" stroke-width="0.1">Sen</text>
<line x1="599.45" y1="724.4" x2="599.45" y2="725.9" stroke="#000" stroke-width="0.5"/>
<text x="600.65" y="727" font-size="5.5" text-anchor="end" dominant-baseline="central" transform="rotate(-45 600.65 727)" stroke="#000" stroke-width="0.1">Sen+IDH305</text>
<line x1="616.95" y1="724.4" x2="616.95" y2="725.9" stroke="#000" stroke-width="0.5"/>
<text x="618.15" y="727" font-size="5.5" text-anchor="end" dominant-baseline="central" transform="rotate(-45 618.15 727)" stroke="#000" stroke-width="0.1">IR</text>
<line x1="634.35" y1="724.4" x2="634.35" y2="725.9" stroke="#000" stroke-width="0.5"/>
<text x="635.55" y="727" font-size="5.5" text-anchor="end" dominant-baseline="central" transform="rotate(-45 635.55 727)" stroke="#000" stroke-width="0.1">IR+IDH305</text>
<path d="M581.7 649.6V646.9H599.9V674" stroke="#000" stroke-width="0.6" fill="none"/>
<text x="590.4" y="643.9" font-size="3.4" text-anchor="middle" dominant-baseline="central" stroke="#000" stroke-width="0.1">P = 0.0466</text>
<path d="M601 674.6V646.9H634.2V683.5" stroke="#000" stroke-width="0.6" fill="none"/>
<text x="617.3" y="643.9" font-size="3.4" text-anchor="middle" dominant-baseline="central" stroke="#000" stroke-width="0.1">P &lt; 0.0001</text>
<path d="M576.4 659.2V656.4H595.5V674.6" stroke="#000" stroke-width="0.6" fill="none"/>
<text x="585.5" y="653.2" font-size="3.4" text-anchor="middle" dominant-baseline="central" stroke="#000" stroke-width="0.1">P = 0.0012</text>
<path d="M611.3 672.9V656.4H628.9V683.1" stroke="#000" stroke-width="0.6" fill="none"/>
<text x="620.4" y="653.2" font-size="3.4" text-anchor="middle" dominant-baseline="central" stroke="#000" stroke-width="0.1">P &lt; 0.0001</text>
<circle cx="642.2" cy="672.9" r="0.75" fill="#1a9aa0"/>
<text x="647.5" y="672.9" font-size="5.27" dominant-baseline="central" stroke="#000" stroke-width="0.1">12C, 14N</text>
<circle cx="642.2" cy="678.6" r="0.75" fill="#fcc484"/>
<text x="647.5" y="678.6" font-size="5.27" dominant-baseline="central" stroke="#000" stroke-width="0.1">13C5, 15N0</text>
<circle cx="642.2" cy="683.9" r="0.75" fill="#f98a1c"/>
<text x="647.5" y="683.9" font-size="5.27" dominant-baseline="central" stroke="#000" stroke-width="0.1">13C5, 15N1</text>
<text x="329.8" y="770.4" font-size="10.72" text-anchor="middle" dominant-baseline="central">Malate</text>
<rect x="302.5" y="847.5" width="4.7" height="18.6" fill="#1a9aa0" stroke="#1a9aa0" stroke-width="0.35"/>
<path d="M304.85 843.5V851.5 M303.95 843.5H305.75 M303.95 851.5H305.75" stroke="#0f7f88" stroke-width="0.45" fill="none"/>
<circle cx="304.53" cy="844.99" r="0.55" fill="#0f7f88"/>
<circle cx="305.12" cy="844.42" r="0.55" fill="#0f7f88"/>
<circle cx="304.91" cy="846.53" r="0.55" fill="#0f7f88"/>
<rect x="309.3" y="859.8" width="4.7" height="6.3" fill="#1a5aa4" stroke="#1a5aa4" stroke-width="0.35"/>
<path d="M311.65 858.6V861 M310.75 858.6H312.55 M310.75 861H312.55" stroke="#58c6de" stroke-width="0.45" fill="none"/>
<circle cx="310.85" cy="859.82" r="0.55" fill="#58c6de"/>
<circle cx="310.82" cy="859.66" r="0.55" fill="#58c6de"/>
<circle cx="310.88" cy="858.92" r="0.55" fill="#58c6de"/>
<rect x="318" y="816.8" width="4.7" height="49.3" fill="#1a9aa0" stroke="#1a9aa0" stroke-width="0.35"/>
<path d="M320.35 809.8V823.8 M319.45 809.8H321.25 M319.45 823.8H321.25" stroke="#0f7f88" stroke-width="0.45" fill="none"/>
<circle cx="320.21" cy="820.92" r="0.55" fill="#0f7f88"/>
<circle cx="319.67" cy="813.31" r="0.55" fill="#0f7f88"/>
<circle cx="320.58" cy="822.44" r="0.55" fill="#0f7f88"/>
<rect x="324.7" y="857" width="4.7" height="9.1" fill="#1a5aa4" stroke="#1a5aa4" stroke-width="0.35"/>
<path d="M327.05 855.8V858.2 M326.15 855.8H327.95 M326.15 858.2H327.95" stroke="#58c6de" stroke-width="0.45" fill="none"/>
<circle cx="327.19" cy="856.78" r="0.55" fill="#58c6de"/>
<circle cx="327.91" cy="856.02" r="0.55" fill="#58c6de"/>
<circle cx="327.7" cy="856.55" r="0.55" fill="#58c6de"/>
<rect x="333.8" y="824.9" width="4.7" height="41.2" fill="#1a9aa0" stroke="#1a9aa0" stroke-width="0.35"/>
<path d="M336.15 822.4V827.4 M335.25 822.4H337.05 M335.25 827.4H337.05" stroke="#0f7f88" stroke-width="0.45" fill="none"/>
<circle cx="335.51" cy="823.18" r="0.55" fill="#0f7f88"/>
<circle cx="335.81" cy="826.32" r="0.55" fill="#0f7f88"/>
<circle cx="335.58" cy="825.27" r="0.55" fill="#0f7f88"/>
<rect x="340.2" y="857.2" width="4.7" height="8.9" fill="#1a5aa4" stroke="#1a5aa4" stroke-width="0.35"/>
<path d="M342.55 856V858.4 M341.65 856H343.45 M341.65 858.4H343.45" stroke="#58c6de" stroke-width="0.45" fill="none"/>
<circle cx="342.8" cy="856.92" r="0.55" fill="#58c6de"/>
<circle cx="342.64" cy="856.26" r="0.55" fill="#58c6de"/>
<circle cx="341.76" cy="856.56" r="0.55" fill="#58c6de"/>
<rect x="349.1" y="830.1" width="4.7" height="36" fill="#1a9aa0" stroke="#1a9aa0" stroke-width="0.35"/>
<path d="M351.45 828.9V831.3 M350.55 828.9H352.35 M350.55 831.3H352.35" stroke="#0f7f88" stroke-width="0.45" fill="none"/>
<circle cx="351.77" cy="829.94" r="0.55" fill="#0f7f88"/>
<circle cx="351.12" cy="830.28" r="0.55" fill="#0f7f88"/>
<circle cx="351.37" cy="829.67" r="0.55" fill="#0f7f88"/>
<rect x="355.9" y="859.8" width="4.7" height="6.3" fill="#1a5aa4" stroke="#1a5aa4" stroke-width="0.35"/>
<path d="M358.25 859V860.6 M357.35 859H359.15 M357.35 860.6H359.15" stroke="#58c6de" stroke-width="0.45" fill="none"/>
<circle cx="358.78" cy="860.09" r="0.55" fill="#58c6de"/>
<circle cx="357.79" cy="859.91" r="0.55" fill="#58c6de"/>
<circle cx="358.3" cy="860.34" r="0.55" fill="#58c6de"/>
<line x1="300.4" y1="803.8" x2="300.4" y2="866.4" stroke="#000" stroke-width="0.6"/>
<line x1="300.1" y1="866.1" x2="362.9" y2="866.1" stroke="#000" stroke-width="0.6"/>
<line x1="298.9" y1="804.1" x2="300.4" y2="804.1" stroke="#000" stroke-width="0.5"/>
<text x="297.8" y="804.1" font-size="5" text-anchor="end" dominant-baseline="central" stroke="#000" stroke-width="0.1">8×10<tspan font-size="3.5" dy="-2">6</tspan></text>
<line x1="298.9" y1="819.6" x2="300.4" y2="819.6" stroke="#000" stroke-width="0.5"/>
<text x="297.8" y="819.6" font-size="5" text-anchor="end" dominant-baseline="central" stroke="#000" stroke-width="0.1">6×10<tspan font-size="3.5" dy="-2">6</tspan></text>
<line x1="298.9" y1="835" x2="300.4" y2="835" stroke="#000" stroke-width="0.5"/>
<text x="297.8" y="835" font-size="5" text-anchor="end" dominant-baseline="central" stroke="#000" stroke-width="0.1">4×10<tspan font-size="3.5" dy="-2">6</tspan></text>
<line x1="298.9" y1="850.7" x2="300.4" y2="850.7" stroke="#000" stroke-width="0.5"/>
<text x="297.8" y="850.7" font-size="5" text-anchor="end" dominant-baseline="central" stroke="#000" stroke-width="0.1">2×10<tspan font-size="3.5" dy="-2">6</tspan></text>
<line x1="298.9" y1="866.1" x2="300.4" y2="866.1" stroke="#000" stroke-width="0.5"/>
<text x="297.4" y="866.1" font-size="5" text-anchor="end" dominant-baseline="central" stroke="#000" stroke-width="0.1">0</text>
<text x="277.8" y="827" font-size="5.1" text-anchor="middle" dominant-baseline="central" transform="rotate(-90 277.8 827)" stroke="#000" stroke-width="0.1">Peak Area</text>
<line x1="308.25" y1="866.1" x2="308.25" y2="867.6" stroke="#000" stroke-width="0.5"/>
<text x="309.45" y="868.7" font-size="5.5" text-anchor="end" dominant-baseline="central" transform="rotate(-45 309.45 868.7)" stroke="#000" stroke-width="0.1">Sen</text>
<line x1="323.7" y1="866.1" x2="323.7" y2="867.6" stroke="#000" stroke-width="0.5"/>
<text x="324.9" y="868.7" font-size="5.5" text-anchor="end" dominant-baseline="central" transform="rotate(-45 324.9 868.7)" stroke="#000" stroke-width="0.1">Sen+IDH305</text>
<line x1="339.35" y1="866.1" x2="339.35" y2="867.6" stroke="#000" stroke-width="0.5"/>
<text x="340.55" y="868.7" font-size="5.5" text-anchor="end" dominant-baseline="central" transform="rotate(-45 340.55 868.7)" stroke="#000" stroke-width="0.1">IR</text>
<line x1="354.85" y1="866.1" x2="354.85" y2="867.6" stroke="#000" stroke-width="0.5"/>
<text x="356.05" y="868.7" font-size="5.5" text-anchor="end" dominant-baseline="central" transform="rotate(-45 356.05 868.7)" stroke="#000" stroke-width="0.1">IR+IDH305</text>
<path d="M304.6 839.7V803.3H320.5V806.9" stroke="#000" stroke-width="0.6" fill="none"/>
<text x="312.7" y="800.1" font-size="3.4" text-anchor="middle" dominant-baseline="central" stroke="#000" stroke-width="0.1">P = 0.0041</text>
<path d="M342.7 854.5V803.3H358.2V856.6" stroke="#000" stroke-width="0.6" fill="none"/>
<text x="350.1" y="800.1" font-size="3.4" text-anchor="middle" dominant-baseline="central" stroke="#000" stroke-width="0.1">P = 0.0005</text>
<circle cx="365.6" cy="806.4" r="0.75" fill="#1a9aa0"/>
<text x="370.7" y="806.4" font-size="5.27" dominant-baseline="central" stroke="#000" stroke-width="0.1">12C, 14N</text>
<circle cx="365.6" cy="812.6" r="0.75" fill="#6fd3e6"/>
<text x="370.7" y="812.6" font-size="5.27" dominant-baseline="central" stroke="#000" stroke-width="0.1">13C4, 15N0</text>
<text x="470.7" y="770.4" font-size="10.78" text-anchor="middle" dominant-baseline="central">Fumarate</text>
<rect x="438.1" y="839.7" width="5.3" height="26.4" fill="#1a9aa0" stroke="#1a9aa0" stroke-width="0.35"/>
<path d="M440.75 831.2V848.2 M439.85 831.2H441.65 M439.85 848.2H441.65" stroke="#0f7f88" stroke-width="0.45" fill="none"/>
<circle cx="440.26" cy="846.77" r="0.55" fill="#0f7f88"/>
<circle cx="440.08" cy="842.83" r="0.55" fill="#0f7f88"/>
<circle cx="440" cy="835.84" r="0.55" fill="#0f7f88"/>
<rect x="445.5" y="860.4" width="5.3" height="5.7" fill="#1a5aa4" stroke="#1a5aa4" stroke-width="0.35"/>
<path d="M448.15 859.4V861.4 M447.25 859.4H449.05 M447.25 861.4H449.05" stroke="#58c6de" stroke-width="0.45" fill="none"/>
<circle cx="449.05" cy="859.88" r="0.55" fill="#58c6de"/>
<circle cx="448.41" cy="860.33" r="0.55" fill="#58c6de"/>
<circle cx="448.07" cy="860.39" r="0.55" fill="#58c6de"/>
<rect x="455" y="812.2" width="5.3" height="53.9" fill="#1a9aa0" stroke="#1a9aa0" stroke-width="0.35"/>
<path d="M457.65 805.7V818.7 M456.75 805.7H458.55 M456.75 818.7H458.55" stroke="#0f7f88" stroke-width="0.45" fill="none"/>
<circle cx="457.1" cy="816.07" r="0.55" fill="#0f7f88"/>
<circle cx="456.91" cy="809.09" r="0.55" fill="#0f7f88"/>
<circle cx="456.79" cy="809.47" r="0.55" fill="#0f7f88"/>
<rect x="462.4" y="857.7" width="5.3" height="8.4" fill="#1a5aa4" stroke="#1a5aa4" stroke-width="0.35"/>
<path d="M465.05 856.2V859.2 M464.15 856.2H465.95 M464.15 859.2H465.95" stroke="#58c6de" stroke-width="0.45" fill="none"/>
<circle cx="464.88" cy="858.79" r="0.55" fill="#58c6de"/>
<circle cx="464.83" cy="856.66" r="0.55" fill="#58c6de"/>
<circle cx="464.62" cy="859.03" r="0.55" fill="#58c6de"/>
<rect x="472.6" y="816.4" width="5.3" height="49.7" fill="#1a9aa0" stroke="#1a9aa0" stroke-width="0.35"/>
<path d="M475.25 811.9V820.9 M474.35 811.9H476.15 M474.35 820.9H476.15" stroke="#0f7f88" stroke-width="0.45" fill="none"/>
<circle cx="474.46" cy="817.37" r="0.55" fill="#0f7f88"/>
<circle cx="475.03" cy="817.7" r="0.55" fill="#0f7f88"/>
<circle cx="474.96" cy="817.95" r="0.55" fill="#0f7f88"/>
<rect x="480" y="856.6" width="5.3" height="9.5" fill="#1a5aa4" stroke="#1a5aa4" stroke-width="0.35"/>
<path d="M482.65 854.6V858.6 M481.75 854.6H483.55 M481.75 858.6H483.55" stroke="#58c6de" stroke-width="0.45" fill="none"/>
<circle cx="482.65" cy="857.14" r="0.55" fill="#58c6de"/>
<circle cx="483.37" cy="856.89" r="0.55" fill="#58c6de"/>
<circle cx="482.01" cy="855.03" r="0.55" fill="#58c6de"/>
<rect x="489.5" y="822.7" width="5.3" height="43.4" fill="#1a9aa0" stroke="#1a9aa0" stroke-width="0.35"/>
<path d="M492.15 818.2V827.2 M491.25 818.2H493.05 M491.25 827.2H493.05" stroke="#0f7f88" stroke-width="0.45" fill="none"/>
<circle cx="492.95" cy="822.61" r="0.55" fill="#0f7f88"/>
<circle cx="491.6" cy="826.31" r="0.55" fill="#0f7f88"/>
<circle cx="492.29" cy="824.55" r="0.55" fill="#0f7f88"/>
<rect x="497.4" y="859.1" width="5.3" height="7" fill="#1a5aa4" stroke="#1a5aa4" stroke-width="0.35"/>
<path d="M500.05 857.9V860.3 M499.15 857.9H500.95 M499.15 860.3H500.95" stroke="#58c6de" stroke-width="0.45" fill="none"/>
<circle cx="500.74" cy="858.64" r="0.55" fill="#58c6de"/>
<circle cx="499.79" cy="859.92" r="0.55" fill="#58c6de"/>
<circle cx="499.39" cy="859.67" r="0.55" fill="#58c6de"/>
<line x1="434.9" y1="796.6" x2="434.9" y2="866.4" stroke="#000" stroke-width="0.6"/>
<line x1="434.6" y1="866.1" x2="505.3" y2="866.1" stroke="#000" stroke-width="0.6"/>
<line x1="433.4" y1="796.9" x2="434.9" y2="796.9" stroke="#000" stroke-width="0.5"/>
<text x="432.3" y="796.9" font-size="5" text-anchor="end" dominant-baseline="central" stroke="#000" stroke-width="0.1">8×10<tspan font-size="3.5" dy="-2">6</tspan></text>
<line x1="433.4" y1="814.3" x2="434.9" y2="814.3" stroke="#000" stroke-width="0.5"/>
<text x="432.3" y="814.3" font-size="5" text-anchor="end" dominant-baseline="central" stroke="#000" stroke-width="0.1">6×10<tspan font-size="3.5" dy="-2">6</tspan></text>
<line x1="433.4" y1="831.6" x2="434.9" y2="831.6" stroke="#000" stroke-width="0.5"/>
<text x="432.3" y="831.6" font-size="5" text-anchor="end" dominant-baseline="central" stroke="#000" stroke-width="0.1">4×10<tspan font-size="3.5" dy="-2">6</tspan></text>
<line x1="433.4" y1="848.8" x2="434.9" y2="848.8" stroke="#000" stroke-width="0.5"/>
<text x="432.3" y="848.8" font-size="5" text-anchor="end" dominant-baseline="central" stroke="#000" stroke-width="0.1">2×10<tspan font-size="3.5" dy="-2">6</tspan></text>
<line x1="433.4" y1="866.1" x2="434.9" y2="866.1" stroke="#000" stroke-width="0.5"/>
<text x="431.9" y="866.1" font-size="5" text-anchor="end" dominant-baseline="central" stroke="#000" stroke-width="0.1">0</text>
<text x="412.7" y="823.2" font-size="5.1" text-anchor="middle" dominant-baseline="central" transform="rotate(-90 412.7 823.2)" stroke="#000" stroke-width="0.1">Peak Area</text>
<line x1="444.45" y1="866.1" x2="444.45" y2="867.6" stroke="#000" stroke-width="0.5"/>
<text x="445.65" y="868.7" font-size="5.5" text-anchor="end" dominant-baseline="central" transform="rotate(-45 445.65 868.7)" stroke="#000" stroke-width="0.1">Sen</text>
<line x1="461.35" y1="866.1" x2="461.35" y2="867.6" stroke="#000" stroke-width="0.5"/>
<text x="462.55" y="868.7" font-size="5.5" text-anchor="end" dominant-baseline="central" transform="rotate(-45 462.55 868.7)" stroke="#000" stroke-width="0.1">Sen+IDH305</text>
<line x1="478.95" y1="866.1" x2="478.95" y2="867.6" stroke="#000" stroke-width="0.5"/>
<text x="480.15" y="868.7" font-size="5.5" text-anchor="end" dominant-baseline="central" transform="rotate(-45 480.15 868.7)" stroke="#000" stroke-width="0.1">IR</text>
<line x1="496.1" y1="866.1" x2="496.1" y2="867.6" stroke="#000" stroke-width="0.5"/>
<text x="497.3" y="868.7" font-size="5.5" text-anchor="end" dominant-baseline="central" transform="rotate(-45 497.3 868.7)" stroke="#000" stroke-width="0.1">IR+IDH305</text>
<path d="M457.6 783.6V781H492.7V791" stroke="#000" stroke-width="0.6" fill="none"/>
<text x="475.1" y="777.6" font-size="3.4" text-anchor="middle" dominant-baseline="central" stroke="#000" stroke-width="0.1">P &lt; 0.0001</text>
<path d="M440.2 793.1V789.9H475.1V793.1" stroke="#000" stroke-width="0.6" fill="none"/>
<text x="458.2" y="786.8" font-size="3.4" text-anchor="middle" dominant-baseline="central" stroke="#000" stroke-width="0.1">P &lt; 0.0001</text>
<path d="M440.2 829.1V799H457.6V804.7" stroke="#000" stroke-width="0.6" fill="none"/>
<text x="449.1" y="795.9" font-size="3.4" text-anchor="middle" dominant-baseline="central" stroke="#000" stroke-width="0.1">P &lt; 0.0001</text>
<path d="M475.1 809V799H492.7V815.3" stroke="#000" stroke-width="0.6" fill="none"/>
<text x="484" y="795.9" font-size="3.4" text-anchor="middle" dominant-baseline="central" stroke="#000" stroke-width="0.1">P = 0.0009</text>
<circle cx="503.7" cy="798" r="0.75" fill="#1a9aa0"/>
<text x="509" y="798" font-size="5.27" dominant-baseline="central" stroke="#000" stroke-width="0.1">12C, 14N</text>
<circle cx="503.7" cy="803.7" r="0.75" fill="#6fd3e6"/>
<text x="509" y="803.7" font-size="5.27" dominant-baseline="central" stroke="#000" stroke-width="0.1">13C4, 15N0</text>
<text x="608.3" y="770.4" font-size="10.85" text-anchor="middle" dominant-baseline="central">Succinate</text>
<rect x="574.9" y="846.7" width="4.9" height="19.4" fill="#1a9aa0" stroke="#1a9aa0" stroke-width="0.35"/>
<path d="M577.35 841.2V852.2 M576.45 841.2H578.25 M576.45 852.2H578.25" stroke="#0f7f88" stroke-width="0.45" fill="none"/>
<circle cx="577.28" cy="845.45" r="0.55" fill="#0f7f88"/>
<circle cx="576.7" cy="850.33" r="0.55" fill="#0f7f88"/>
<circle cx="576.46" cy="846.73" r="0.55" fill="#0f7f88"/>
<rect x="581.9" y="860.4" width="4.9" height="5.7" fill="#1a5aa4" stroke="#1a5aa4" stroke-width="0.35"/>
<path d="M584.35 859.4V861.4 M583.45 859.4H585.25 M583.45 861.4H585.25" stroke="#58c6de" stroke-width="0.45" fill="none"/>
<circle cx="585.07" cy="859.65" r="0.55" fill="#58c6de"/>
<circle cx="584.45" cy="860.61" r="0.55" fill="#58c6de"/>
<circle cx="583.52" cy="860.18" r="0.55" fill="#58c6de"/>
<rect x="591.4" y="841.4" width="4.9" height="24.7" fill="#1a9aa0" stroke="#1a9aa0" stroke-width="0.35"/>
<path d="M593.85 835.9V846.9 M592.95 835.9H594.75 M592.95 846.9H594.75" stroke="#0f7f88" stroke-width="0.45" fill="none"/>
<circle cx="594.22" cy="840.93" r="0.55" fill="#0f7f88"/>
<circle cx="594.26" cy="838.01" r="0.55" fill="#0f7f88"/>
<circle cx="593.38" cy="837.55" r="0.55" fill="#0f7f88"/>
<rect x="598.2" y="860.2" width="4.9" height="5.9" fill="#1a5aa4" stroke="#1a5aa4" stroke-width="0.35"/>
<path d="M600.65 859.2V861.2 M599.75 859.2H601.55 M599.75 861.2H601.55" stroke="#58c6de" stroke-width="0.45" fill="none"/>
<circle cx="600.66" cy="860.96" r="0.55" fill="#58c6de"/>
<circle cx="600.81" cy="860.69" r="0.55" fill="#58c6de"/>
<circle cx="600.44" cy="860.64" r="0.55" fill="#58c6de"/>
<rect x="607.7" y="820.6" width="4.9" height="45.5" fill="#1a9aa0" stroke="#1a9aa0" stroke-width="0.35"/>
<path d="M610.15 813.1V828.1 M609.25 813.1H611.05 M609.25 828.1H611.05" stroke="#0f7f88" stroke-width="0.45" fill="none"/>
<circle cx="609.43" cy="817.78" r="0.55" fill="#0f7f88"/>
<circle cx="610.46" cy="823.65" r="0.55" fill="#0f7f88"/>
<circle cx="610.01" cy="815.03" r="0.55" fill="#0f7f88"/>
<rect x="614.7" y="849.2" width="4.9" height="16.9" fill="#1a5aa4" stroke="#1a5aa4" stroke-width="0.35"/>
<path d="M617.15 847.2V851.2 M616.25 847.2H618.05 M616.25 851.2H618.05" stroke="#58c6de" stroke-width="0.45" fill="none"/>
<circle cx="616.73" cy="848.16" r="0.55" fill="#58c6de"/>
<circle cx="616.76" cy="850.31" r="0.55" fill="#58c6de"/>
<circle cx="616.61" cy="850.59" r="0.55" fill="#58c6de"/>
<rect x="624.3" y="832.3" width="4.9" height="33.8" fill="#1a9aa0" stroke="#1a9aa0" stroke-width="0.35"/>
<path d="M626.75 829.8V834.8 M625.85 829.8H627.65 M625.85 834.8H627.65" stroke="#0f7f88" stroke-width="0.45" fill="none"/>
<circle cx="627.43" cy="830.3" r="0.55" fill="#0f7f88"/>
<circle cx="626.53" cy="832.26" r="0.55" fill="#0f7f88"/>
<circle cx="625.89" cy="831.96" r="0.55" fill="#0f7f88"/>
<rect x="631" y="853" width="4.9" height="13.1" fill="#1a5aa4" stroke="#1a5aa4" stroke-width="0.35"/>
<path d="M633.45 849V857 M632.55 849H634.35 M632.55 857H634.35" stroke="#58c6de" stroke-width="0.45" fill="none"/>
<circle cx="634.18" cy="850.21" r="0.55" fill="#58c6de"/>
<circle cx="633.62" cy="850.27" r="0.55" fill="#58c6de"/>
<circle cx="633.59" cy="855.85" r="0.55" fill="#58c6de"/>
<line x1="572.8" y1="799.8" x2="572.8" y2="866.4" stroke="#000" stroke-width="0.6"/>
<line x1="572.5" y1="866.1" x2="639.6" y2="866.1" stroke="#000" stroke-width="0.6"/>
<line x1="571.3" y1="800.1" x2="572.8" y2="800.1" stroke="#000" stroke-width="0.5"/>
<text x="570.2" y="800.1" font-size="5" text-anchor="end" dominant-baseline="central" stroke="#000" stroke-width="0.1">8×10<tspan font-size="3.5" dy="-2">6</tspan></text>
<line x1="571.3" y1="816.8" x2="572.8" y2="816.8" stroke="#000" stroke-width="0.5"/>
<text x="570.2" y="816.8" font-size="5" text-anchor="end" dominant-baseline="central" stroke="#000" stroke-width="0.1">6×10<tspan font-size="3.5" dy="-2">6</tspan></text>
<line x1="571.3" y1="833.3" x2="572.8" y2="833.3" stroke="#000" stroke-width="0.5"/>
<text x="570.2" y="833.3" font-size="5" text-anchor="end" dominant-baseline="central" stroke="#000" stroke-width="0.1">4×10<tspan font-size="3.5" dy="-2">6</tspan></text>
<line x1="571.3" y1="849.8" x2="572.8" y2="849.8" stroke="#000" stroke-width="0.5"/>
<text x="570.2" y="849.8" font-size="5" text-anchor="end" dominant-baseline="central" stroke="#000" stroke-width="0.1">2×10<tspan font-size="3.5" dy="-2">6</tspan></text>
<line x1="571.3" y1="866.1" x2="572.8" y2="866.1" stroke="#000" stroke-width="0.5"/>
<text x="569.8" y="866.1" font-size="5" text-anchor="end" dominant-baseline="central" stroke="#000" stroke-width="0.1">0</text>
<text x="549.9" y="823.8" font-size="5.1" text-anchor="middle" dominant-baseline="central" transform="rotate(-90 549.9 823.8)" stroke="#000" stroke-width="0.1">Peak Area</text>
<line x1="580.85" y1="866.1" x2="580.85" y2="867.6" stroke="#000" stroke-width="0.5"/>
<text x="582.05" y="868.7" font-size="5.5" text-anchor="end" dominant-baseline="central" transform="rotate(-45 582.05 868.7)" stroke="#000" stroke-width="0.1">Sen</text>
<line x1="597.25" y1="866.1" x2="597.25" y2="867.6" stroke="#000" stroke-width="0.5"/>
<text x="598.45" y="868.7" font-size="5.5" text-anchor="end" dominant-baseline="central" transform="rotate(-45 598.45 868.7)" stroke="#000" stroke-width="0.1">Sen+IDH305</text>
<line x1="613.65" y1="866.1" x2="613.65" y2="867.6" stroke="#000" stroke-width="0.5"/>
<text x="614.85" y="868.7" font-size="5.5" text-anchor="end" dominant-baseline="central" transform="rotate(-45 614.85 868.7)" stroke="#000" stroke-width="0.1">IR</text>
<line x1="630.1" y1="866.1" x2="630.1" y2="867.6" stroke="#000" stroke-width="0.5"/>
<text x="631.3" y="868.7" font-size="5.5" text-anchor="end" dominant-baseline="central" transform="rotate(-45 631.3 868.7)" stroke="#000" stroke-width="0.1">IR+IDH305</text>
<path d="M584 788.9V781.5H633.8V846" stroke="#000" stroke-width="0.6" fill="none"/>
<text x="608.8" y="778.3" font-size="3.4" text-anchor="middle" dominant-baseline="central" stroke="#000" stroke-width="0.1">P &lt; 0.0001</text>
<path d="M584 793.1V790.6H617.3V793.1" stroke="#000" stroke-width="0.6" fill="none"/>
<text x="600.8" y="787.4" font-size="3.4" text-anchor="middle" dominant-baseline="central" stroke="#000" stroke-width="0.1">P &lt; 0.0001</text>
<path d="M577 802V799.5H610.5V818.5" stroke="#000" stroke-width="0.6" fill="none"/>
<text x="593.6" y="796.3" font-size="3.4" text-anchor="middle" dominant-baseline="central" stroke="#000" stroke-width="0.1">P &lt; 0.0001</text>
<path d="M617.3 801.6V799.5H633.8V801.6" stroke="#000" stroke-width="0.6" fill="none"/>
<text x="626.2" y="796.3" font-size="3.4" text-anchor="middle" dominant-baseline="central" stroke="#000" stroke-width="0.1">P = 0.0054</text>
<path d="M577 838.6V808.3H594V833.3" stroke="#000" stroke-width="0.6" fill="none"/>
<text x="585.1" y="805.2" font-size="3.4" text-anchor="middle" dominant-baseline="central" stroke="#000" stroke-width="0.1">P = 0.0003</text>
<path d="M610.5 811.1V808.3H626.8V827" stroke="#000" stroke-width="0.6" fill="none"/>
<text x="618.3" y="805.2" font-size="3.4" text-anchor="middle" dominant-baseline="central" stroke="#000" stroke-width="0.1">P &lt; 0.0001</text>
<circle cx="640.6" cy="798.8" r="0.75" fill="#1a9aa0"/>
<text x="645.4" y="798.8" font-size="5.27" dominant-baseline="central" stroke="#000" stroke-width="0.1">12C, 14N</text>
<circle cx="640.6" cy="804.7" r="0.75" fill="#6fd3e6"/>
<text x="645.4" y="804.7" font-size="5.27" dominant-baseline="central" stroke="#000" stroke-width="0.1">13C4, 15N0</text>
</g>
</svg></body></html>
